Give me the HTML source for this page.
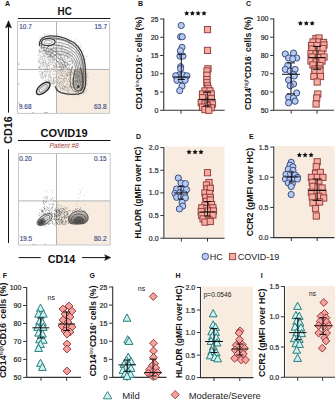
<!DOCTYPE html>
<html><head><meta charset="utf-8"><style>
html,body{margin:0;padding:0;background:#fff;width:336px;height:400px;overflow:hidden}
svg{display:block}
text{font-family:"Liberation Sans", sans-serif}
</style></head><body>
<svg width="336" height="400" viewBox="0 0 336 400">
<text x="5" y="6" font-size="7" font-weight="bold" text-anchor="start" fill="#111" >A</text>
<text x="138.1" y="6" font-size="7" font-weight="bold" text-anchor="start" fill="#111" >B</text>
<text x="245.9" y="6.1" font-size="7" font-weight="bold" text-anchor="start" fill="#111" >C</text>
<text x="135.9" y="138.6" font-size="7" font-weight="bold" text-anchor="start" fill="#111" >D</text>
<text x="249" y="138.7" font-size="7" font-weight="bold" text-anchor="start" fill="#111" >E</text>
<text x="2.7" y="277.6" font-size="7" font-weight="bold" text-anchor="start" fill="#111" >F</text>
<text x="89.6" y="277.7" font-size="7" font-weight="bold" text-anchor="start" fill="#111" >G</text>
<text x="175.6" y="277.6" font-size="7" font-weight="bold" text-anchor="start" fill="#111" >H</text>
<text x="260.8" y="277.6" font-size="7" font-weight="bold" text-anchor="start" fill="#111" >I</text>
<rect x="56.5" y="69.5" width="53.099999999999994" height="43.900000000000006" fill="#f7ecdf"/>
<rect x="56.5" y="200.9" width="53.7" height="44.099999999999994" fill="#f7ecdf"/>
<path d="M56.5,21.5 V113.4 M17.5,69.5 H109.6" stroke="#aaaaaa" stroke-width="0.9"/>
<path d="M56.5,153.5 V245 M18.5,200.9 H110.2" stroke="#aaaaaa" stroke-width="0.9"/>
<path d="M40.4,40.7 L42,37 L50,36.3 L60,37.1 L69,40.7 L76,47 L80.5,55 L83,65.7 L84.5,76.4 L84.5,85.4 L81.5,91.5 L74.3,93 L65,92.5 L59,90.5 L55,88 L52,84.5 L47,82 L42,80.5 L39,72 L38,62 L38.5,52 L39,45 Z" fill="#efece9" opacity="0.35"/>
<g fill="#4a4a4a" opacity="0.75"><circle cx="53.06" cy="44.85" r="0.33"/><circle cx="62.92" cy="57.03" r="0.33"/><circle cx="40.70" cy="65.07" r="0.33"/><circle cx="39.74" cy="60.89" r="0.33"/><circle cx="41.25" cy="41.44" r="0.33"/><circle cx="57.74" cy="83.18" r="0.33"/><circle cx="43.76" cy="48.96" r="0.33"/><circle cx="67.18" cy="90.04" r="0.33"/><circle cx="64.84" cy="58.79" r="0.33"/><circle cx="77.92" cy="52.72" r="0.33"/><circle cx="44.71" cy="42.98" r="0.33"/><circle cx="52.34" cy="82.57" r="0.33"/><circle cx="46.40" cy="69.28" r="0.33"/><circle cx="67.71" cy="57.41" r="0.33"/><circle cx="63.47" cy="39.86" r="0.33"/><circle cx="40.77" cy="47.98" r="0.33"/><circle cx="69.64" cy="60.54" r="0.33"/><circle cx="52.61" cy="69.50" r="0.33"/><circle cx="59.07" cy="53.30" r="0.33"/><circle cx="74.94" cy="75.93" r="0.33"/><circle cx="49.35" cy="68.87" r="0.33"/><circle cx="62.42" cy="85.92" r="0.33"/><circle cx="71.92" cy="52.63" r="0.33"/><circle cx="57.44" cy="79.23" r="0.33"/><circle cx="45.07" cy="64.02" r="0.33"/><circle cx="39.82" cy="74.19" r="0.33"/><circle cx="73.55" cy="68.79" r="0.33"/><circle cx="78.71" cy="54.09" r="0.33"/><circle cx="70.33" cy="70.00" r="0.33"/><circle cx="64.97" cy="62.17" r="0.33"/><circle cx="77.06" cy="89.86" r="0.33"/><circle cx="60.05" cy="73.96" r="0.33"/><circle cx="40.82" cy="76.07" r="0.33"/><circle cx="68.09" cy="92.61" r="0.33"/><circle cx="76.22" cy="52.44" r="0.33"/><circle cx="55.94" cy="74.21" r="0.33"/><circle cx="39.05" cy="62.48" r="0.33"/><circle cx="45.81" cy="42.94" r="0.33"/><circle cx="44.01" cy="50.34" r="0.33"/><circle cx="56.18" cy="85.71" r="0.33"/><circle cx="41.75" cy="61.77" r="0.33"/><circle cx="63.55" cy="86.39" r="0.33"/><circle cx="76.10" cy="85.29" r="0.33"/><circle cx="50.95" cy="59.85" r="0.33"/><circle cx="54.68" cy="86.43" r="0.33"/><circle cx="46.19" cy="49.45" r="0.33"/><circle cx="48.85" cy="63.80" r="0.33"/><circle cx="65.39" cy="51.20" r="0.33"/><circle cx="38.19" cy="60.05" r="0.33"/><circle cx="55.17" cy="68.41" r="0.33"/><circle cx="82.32" cy="75.45" r="0.33"/><circle cx="61.97" cy="71.32" r="0.33"/><circle cx="79.83" cy="80.52" r="0.33"/><circle cx="78.66" cy="81.54" r="0.33"/><circle cx="56.25" cy="58.92" r="0.33"/><circle cx="42.81" cy="72.26" r="0.33"/><circle cx="40.89" cy="40.12" r="0.33"/><circle cx="47.71" cy="45.50" r="0.33"/><circle cx="53.81" cy="39.28" r="0.33"/><circle cx="42.72" cy="56.92" r="0.33"/><circle cx="66.55" cy="44.72" r="0.33"/><circle cx="49.73" cy="56.00" r="0.33"/><circle cx="54.93" cy="43.27" r="0.33"/><circle cx="59.67" cy="63.73" r="0.33"/><circle cx="41.99" cy="42.09" r="0.33"/><circle cx="53.93" cy="51.31" r="0.33"/><circle cx="62.56" cy="44.61" r="0.33"/><circle cx="78.14" cy="75.77" r="0.33"/><circle cx="50.14" cy="57.09" r="0.33"/><circle cx="45.77" cy="80.07" r="0.33"/><circle cx="62.77" cy="80.47" r="0.33"/><circle cx="53.33" cy="48.95" r="0.33"/><circle cx="75.74" cy="92.15" r="0.33"/><circle cx="77.65" cy="82.00" r="0.33"/><circle cx="76.05" cy="78.25" r="0.33"/><circle cx="48.54" cy="65.65" r="0.33"/><circle cx="54.53" cy="37.94" r="0.33"/><circle cx="39.30" cy="52.14" r="0.33"/><circle cx="50.05" cy="75.57" r="0.33"/><circle cx="48.25" cy="49.16" r="0.33"/><circle cx="47.15" cy="47.89" r="0.33"/><circle cx="67.02" cy="87.35" r="0.33"/><circle cx="77.08" cy="63.49" r="0.33"/><circle cx="68.36" cy="81.64" r="0.33"/><circle cx="41.94" cy="73.76" r="0.33"/><circle cx="80.30" cy="80.66" r="0.33"/><circle cx="72.88" cy="63.40" r="0.33"/><circle cx="46.30" cy="81.04" r="0.33"/><circle cx="53.46" cy="81.71" r="0.33"/><circle cx="71.70" cy="45.94" r="0.33"/><circle cx="43.91" cy="44.87" r="0.33"/><circle cx="80.08" cy="82.03" r="0.33"/><circle cx="83.58" cy="73.57" r="0.33"/><circle cx="54.29" cy="67.41" r="0.33"/><circle cx="44.09" cy="37.11" r="0.33"/><circle cx="83.15" cy="73.14" r="0.33"/><circle cx="62.49" cy="89.24" r="0.33"/><circle cx="58.17" cy="85.73" r="0.33"/><circle cx="76.42" cy="48.27" r="0.33"/><circle cx="49.71" cy="52.91" r="0.33"/><circle cx="49.19" cy="69.55" r="0.33"/><circle cx="50.06" cy="60.06" r="0.33"/><circle cx="54.45" cy="62.28" r="0.33"/><circle cx="65.13" cy="87.57" r="0.33"/><circle cx="57.56" cy="88.33" r="0.33"/><circle cx="61.33" cy="66.45" r="0.33"/><circle cx="58.47" cy="46.68" r="0.33"/><circle cx="46.01" cy="63.15" r="0.33"/><circle cx="71.72" cy="67.85" r="0.33"/><circle cx="53.16" cy="65.69" r="0.33"/><circle cx="63.83" cy="80.77" r="0.33"/><circle cx="42.93" cy="68.07" r="0.33"/><circle cx="49.55" cy="52.00" r="0.33"/><circle cx="73.91" cy="65.09" r="0.33"/><circle cx="64.12" cy="79.39" r="0.33"/><circle cx="80.43" cy="61.43" r="0.33"/><circle cx="66.48" cy="64.96" r="0.33"/><circle cx="61.82" cy="75.58" r="0.33"/><circle cx="59.03" cy="66.54" r="0.33"/><circle cx="60.23" cy="89.68" r="0.33"/><circle cx="70.51" cy="86.00" r="0.33"/><circle cx="64.02" cy="89.78" r="0.33"/><circle cx="43.66" cy="61.37" r="0.33"/><circle cx="41.37" cy="49.94" r="0.33"/><circle cx="41.40" cy="74.26" r="0.33"/><circle cx="74.45" cy="87.16" r="0.33"/><circle cx="45.18" cy="76.90" r="0.33"/><circle cx="68.70" cy="44.41" r="0.33"/><circle cx="79.05" cy="91.16" r="0.33"/><circle cx="56.52" cy="63.93" r="0.33"/><circle cx="84.03" cy="83.50" r="0.33"/><circle cx="45.51" cy="60.77" r="0.33"/><circle cx="61.98" cy="55.53" r="0.33"/><circle cx="47.10" cy="54.36" r="0.33"/><circle cx="63.76" cy="61.27" r="0.33"/><circle cx="38.84" cy="55.10" r="0.33"/><circle cx="67.01" cy="65.35" r="0.33"/><circle cx="74.66" cy="91.40" r="0.33"/><circle cx="42.87" cy="51.36" r="0.33"/><circle cx="50.58" cy="43.65" r="0.33"/><circle cx="57.63" cy="87.98" r="0.33"/><circle cx="76.08" cy="50.96" r="0.33"/><circle cx="64.53" cy="76.01" r="0.33"/><circle cx="42.16" cy="39.56" r="0.33"/><circle cx="70.00" cy="60.42" r="0.33"/><circle cx="67.50" cy="81.75" r="0.33"/><circle cx="59.10" cy="55.53" r="0.33"/><circle cx="63.72" cy="88.84" r="0.33"/><circle cx="50.46" cy="43.63" r="0.33"/><circle cx="62.50" cy="49.82" r="0.33"/><circle cx="43.09" cy="45.45" r="0.33"/><circle cx="40.34" cy="47.74" r="0.33"/><circle cx="52.51" cy="53.59" r="0.33"/><circle cx="73.32" cy="52.74" r="0.33"/><circle cx="61.25" cy="46.39" r="0.33"/><circle cx="54.14" cy="37.33" r="0.33"/><circle cx="49.65" cy="37.17" r="0.33"/><circle cx="72.09" cy="67.54" r="0.33"/><circle cx="46.81" cy="63.22" r="0.33"/><circle cx="76.08" cy="60.80" r="0.33"/><circle cx="61.02" cy="83.62" r="0.33"/><circle cx="56.28" cy="65.03" r="0.33"/><circle cx="69.98" cy="92.00" r="0.33"/><circle cx="53.94" cy="83.49" r="0.33"/><circle cx="70.86" cy="72.36" r="0.33"/><circle cx="56.82" cy="56.01" r="0.33"/><circle cx="40.53" cy="43.66" r="0.33"/><circle cx="41.29" cy="78.31" r="0.33"/><circle cx="49.89" cy="45.56" r="0.33"/><circle cx="78.48" cy="74.32" r="0.33"/><circle cx="51.11" cy="50.03" r="0.33"/><circle cx="51.63" cy="62.35" r="0.33"/><circle cx="45.33" cy="61.58" r="0.33"/><circle cx="83.23" cy="67.32" r="0.33"/><circle cx="52.39" cy="56.52" r="0.33"/><circle cx="60.07" cy="64.81" r="0.33"/><circle cx="47.35" cy="64.92" r="0.33"/><circle cx="42.17" cy="58.95" r="0.33"/><circle cx="52.15" cy="49.50" r="0.33"/><circle cx="65.23" cy="66.31" r="0.33"/><circle cx="72.90" cy="73.58" r="0.33"/><circle cx="71.29" cy="86.14" r="0.33"/><circle cx="56.11" cy="54.79" r="0.33"/><circle cx="71.67" cy="72.77" r="0.33"/><circle cx="79.48" cy="71.87" r="0.33"/><circle cx="72.12" cy="82.35" r="0.33"/><circle cx="44.48" cy="66.00" r="0.33"/><circle cx="61.45" cy="83.64" r="0.33"/><circle cx="75.42" cy="83.16" r="0.33"/><circle cx="65.16" cy="86.92" r="0.33"/><circle cx="69.75" cy="75.61" r="0.33"/><circle cx="48.69" cy="38.07" r="0.33"/><circle cx="44.19" cy="56.75" r="0.33"/><circle cx="63.97" cy="71.89" r="0.33"/><circle cx="67.12" cy="74.89" r="0.33"/><circle cx="75.09" cy="78.73" r="0.33"/><circle cx="61.39" cy="66.65" r="0.33"/><circle cx="72.26" cy="50.60" r="0.33"/><circle cx="41.46" cy="51.36" r="0.33"/><circle cx="71.91" cy="47.94" r="0.33"/><circle cx="72.40" cy="91.62" r="0.33"/><circle cx="60.97" cy="57.99" r="0.33"/><circle cx="60.27" cy="75.07" r="0.33"/><circle cx="73.66" cy="71.28" r="0.33"/><circle cx="67.89" cy="40.69" r="0.33"/><circle cx="44.86" cy="50.70" r="0.33"/><circle cx="72.56" cy="53.56" r="0.33"/><circle cx="40.82" cy="51.54" r="0.33"/><circle cx="69.25" cy="75.55" r="0.33"/><circle cx="69.42" cy="52.79" r="0.33"/><circle cx="62.02" cy="62.65" r="0.33"/><circle cx="59.68" cy="43.02" r="0.33"/><circle cx="38.81" cy="62.32" r="0.33"/><circle cx="76.13" cy="91.19" r="0.33"/><circle cx="58.90" cy="51.53" r="0.33"/><circle cx="47.80" cy="69.27" r="0.33"/><circle cx="44.59" cy="66.01" r="0.33"/><circle cx="76.14" cy="65.15" r="0.33"/><circle cx="79.24" cy="76.18" r="0.33"/><circle cx="60.61" cy="37.71" r="0.33"/><circle cx="58.96" cy="53.42" r="0.33"/><circle cx="44.54" cy="55.80" r="0.33"/><circle cx="52.70" cy="83.94" r="0.33"/><circle cx="81.08" cy="76.73" r="0.33"/><circle cx="55.31" cy="58.58" r="0.33"/><circle cx="54.77" cy="60.57" r="0.33"/><circle cx="50.79" cy="39.04" r="0.33"/><circle cx="49.59" cy="51.37" r="0.33"/><circle cx="61.76" cy="47.06" r="0.33"/><circle cx="79.12" cy="82.34" r="0.33"/><circle cx="67.34" cy="88.09" r="0.33"/><circle cx="81.74" cy="67.44" r="0.33"/><circle cx="72.05" cy="61.86" r="0.33"/><circle cx="73.00" cy="72.84" r="0.33"/><circle cx="51.31" cy="39.08" r="0.33"/><circle cx="59.96" cy="55.79" r="0.33"/><circle cx="51.85" cy="78.20" r="0.33"/><circle cx="68.50" cy="53.36" r="0.33"/><circle cx="63.92" cy="58.66" r="0.33"/><circle cx="45.78" cy="45.47" r="0.33"/><circle cx="61.11" cy="48.78" r="0.33"/><circle cx="58.92" cy="44.22" r="0.33"/><circle cx="46.95" cy="41.44" r="0.33"/><circle cx="53.90" cy="41.47" r="0.33"/><circle cx="49.12" cy="50.95" r="0.33"/><circle cx="64.49" cy="86.61" r="0.33"/><circle cx="72.86" cy="59.70" r="0.33"/><circle cx="57.25" cy="66.02" r="0.33"/><circle cx="55.52" cy="55.48" r="0.33"/><circle cx="40.89" cy="52.04" r="0.33"/><circle cx="61.41" cy="72.00" r="0.33"/><circle cx="50.60" cy="50.39" r="0.33"/><circle cx="56.59" cy="61.58" r="0.33"/><circle cx="82.36" cy="84.42" r="0.33"/><circle cx="79.65" cy="63.13" r="0.33"/><circle cx="76.39" cy="84.80" r="0.33"/><circle cx="43.07" cy="45.05" r="0.33"/><circle cx="62.29" cy="74.97" r="0.33"/><circle cx="81.78" cy="77.22" r="0.33"/><circle cx="68.10" cy="79.66" r="0.33"/><circle cx="59.27" cy="67.57" r="0.33"/><circle cx="68.02" cy="53.52" r="0.33"/><circle cx="43.95" cy="50.58" r="0.33"/><circle cx="67.59" cy="75.91" r="0.33"/><circle cx="43.21" cy="40.29" r="0.33"/><circle cx="62.39" cy="69.35" r="0.33"/><circle cx="56.05" cy="48.98" r="0.33"/><circle cx="52.02" cy="62.42" r="0.33"/><circle cx="82.59" cy="72.85" r="0.33"/><circle cx="79.10" cy="63.25" r="0.33"/><circle cx="48.92" cy="50.31" r="0.33"/><circle cx="82.67" cy="76.25" r="0.33"/><circle cx="52.29" cy="37.54" r="0.33"/><circle cx="61.17" cy="74.54" r="0.33"/><circle cx="57.53" cy="50.89" r="0.33"/><circle cx="69.03" cy="88.76" r="0.33"/><circle cx="48.55" cy="38.23" r="0.33"/><circle cx="53.72" cy="60.15" r="0.33"/><circle cx="69.74" cy="47.53" r="0.33"/><circle cx="75.06" cy="78.21" r="0.33"/><circle cx="61.48" cy="47.94" r="0.33"/><circle cx="76.13" cy="49.39" r="0.33"/><circle cx="48.30" cy="79.42" r="0.33"/><circle cx="61.05" cy="46.92" r="0.33"/><circle cx="48.38" cy="59.95" r="0.33"/><circle cx="68.94" cy="90.09" r="0.33"/><circle cx="44.81" cy="58.61" r="0.33"/><circle cx="44.60" cy="39.24" r="0.33"/><circle cx="40.80" cy="58.60" r="0.33"/><circle cx="79.76" cy="86.40" r="0.33"/><circle cx="72.07" cy="92.86" r="0.33"/><circle cx="68.90" cy="57.77" r="0.33"/><circle cx="55.39" cy="55.11" r="0.33"/><circle cx="51.01" cy="56.23" r="0.33"/><circle cx="54.58" cy="82.88" r="0.33"/><circle cx="76.22" cy="60.82" r="0.33"/><circle cx="40.29" cy="63.15" r="0.33"/><circle cx="46.98" cy="56.95" r="0.33"/><circle cx="57.10" cy="82.33" r="0.33"/><circle cx="72.75" cy="87.25" r="0.33"/><circle cx="53.77" cy="51.74" r="0.33"/><circle cx="82.53" cy="71.28" r="0.33"/><circle cx="50.19" cy="76.93" r="0.33"/><circle cx="52.72" cy="51.93" r="0.33"/><circle cx="80.62" cy="72.25" r="0.33"/><circle cx="48.87" cy="63.24" r="0.33"/><circle cx="55.97" cy="50.53" r="0.33"/><circle cx="57.99" cy="64.28" r="0.33"/><circle cx="75.32" cy="78.17" r="0.33"/><circle cx="76.26" cy="80.12" r="0.33"/><circle cx="66.24" cy="54.89" r="0.33"/><circle cx="52.86" cy="56.82" r="0.33"/><circle cx="47.17" cy="78.99" r="0.33"/><circle cx="49.50" cy="39.97" r="0.33"/><circle cx="39.57" cy="67.63" r="0.33"/><circle cx="50.32" cy="41.07" r="0.33"/><circle cx="42.48" cy="64.56" r="0.33"/><circle cx="71.00" cy="61.64" r="0.33"/><circle cx="48.89" cy="59.93" r="0.33"/><circle cx="66.84" cy="74.52" r="0.33"/><circle cx="72.78" cy="84.32" r="0.33"/><circle cx="68.90" cy="43.17" r="0.33"/><circle cx="77.10" cy="52.96" r="0.33"/><circle cx="64.36" cy="57.45" r="0.33"/><circle cx="72.32" cy="47.59" r="0.33"/><circle cx="49.51" cy="50.21" r="0.33"/><circle cx="64.89" cy="54.80" r="0.33"/><circle cx="61.59" cy="49.42" r="0.33"/><circle cx="75.59" cy="73.34" r="0.33"/><circle cx="60.08" cy="82.74" r="0.33"/><circle cx="77.09" cy="88.15" r="0.33"/><circle cx="39.88" cy="52.95" r="0.33"/><circle cx="43.54" cy="47.05" r="0.33"/><circle cx="83.24" cy="69.37" r="0.33"/><circle cx="78.27" cy="61.76" r="0.33"/><circle cx="50.09" cy="80.40" r="0.33"/><circle cx="65.72" cy="71.45" r="0.33"/><circle cx="48.12" cy="57.21" r="0.33"/><circle cx="44.57" cy="47.87" r="0.33"/><circle cx="49.85" cy="70.29" r="0.33"/><circle cx="68.30" cy="47.84" r="0.33"/><circle cx="38.53" cy="54.86" r="0.33"/><circle cx="69.54" cy="46.80" r="0.33"/><circle cx="52.52" cy="47.83" r="0.33"/><circle cx="74.98" cy="67.37" r="0.33"/><circle cx="40.94" cy="42.05" r="0.33"/><circle cx="56.38" cy="67.49" r="0.33"/><circle cx="67.72" cy="41.47" r="0.33"/><circle cx="45.61" cy="75.73" r="0.33"/><circle cx="57.06" cy="52.36" r="0.33"/><circle cx="52.52" cy="68.42" r="0.33"/><circle cx="54.61" cy="59.91" r="0.33"/><circle cx="54.92" cy="47.48" r="0.33"/><circle cx="71.85" cy="47.85" r="0.33"/><circle cx="57.70" cy="82.81" r="0.33"/><circle cx="56.89" cy="86.36" r="0.33"/><circle cx="59.43" cy="45.52" r="0.33"/><circle cx="38.69" cy="67.57" r="0.33"/><circle cx="67.79" cy="87.89" r="0.33"/><circle cx="42.14" cy="71.58" r="0.33"/><circle cx="55.24" cy="64.90" r="0.33"/><circle cx="44.78" cy="52.36" r="0.33"/><circle cx="62.23" cy="88.78" r="0.33"/><circle cx="43.06" cy="64.11" r="0.33"/><circle cx="75.42" cy="91.12" r="0.33"/><circle cx="47.18" cy="43.48" r="0.33"/><circle cx="60.45" cy="39.33" r="0.33"/><circle cx="81.07" cy="58.29" r="0.33"/><circle cx="80.05" cy="71.47" r="0.33"/><circle cx="74.54" cy="48.89" r="0.33"/><circle cx="56.81" cy="84.29" r="0.33"/><circle cx="48.14" cy="58.97" r="0.33"/><circle cx="62.08" cy="58.05" r="0.33"/><circle cx="43.72" cy="50.31" r="0.33"/><circle cx="71.71" cy="87.18" r="0.33"/><circle cx="39.91" cy="68.18" r="0.33"/><circle cx="65.88" cy="67.49" r="0.33"/><circle cx="67.16" cy="53.66" r="0.33"/><circle cx="57.53" cy="69.33" r="0.33"/><circle cx="57.80" cy="73.66" r="0.33"/><circle cx="58.78" cy="61.15" r="0.33"/><circle cx="39.09" cy="71.39" r="0.33"/><circle cx="60.76" cy="49.64" r="0.33"/><circle cx="73.51" cy="80.52" r="0.33"/><circle cx="59.31" cy="46.48" r="0.33"/><circle cx="60.00" cy="42.37" r="0.33"/><circle cx="43.97" cy="60.71" r="0.33"/><circle cx="42.26" cy="61.36" r="0.33"/><circle cx="61.72" cy="38.61" r="0.33"/><circle cx="67.59" cy="40.96" r="0.33"/><circle cx="72.11" cy="80.39" r="0.33"/><circle cx="61.78" cy="39.38" r="0.33"/><circle cx="61.43" cy="57.72" r="0.33"/><circle cx="72.04" cy="82.51" r="0.33"/><circle cx="60.87" cy="90.54" r="0.33"/><circle cx="74.66" cy="89.06" r="0.33"/><circle cx="41.05" cy="56.20" r="0.33"/><circle cx="73.16" cy="45.30" r="0.33"/><circle cx="61.35" cy="88.46" r="0.33"/><circle cx="47.69" cy="51.20" r="0.33"/><circle cx="61.53" cy="54.39" r="0.33"/><circle cx="39.71" cy="46.62" r="0.33"/><circle cx="69.61" cy="87.07" r="0.33"/><circle cx="45.85" cy="80.80" r="0.33"/><circle cx="43.35" cy="66.39" r="0.33"/><circle cx="67.59" cy="56.70" r="0.33"/><circle cx="78.59" cy="67.78" r="0.33"/><circle cx="64.97" cy="86.34" r="0.33"/><circle cx="67.28" cy="58.65" r="0.33"/><circle cx="75.09" cy="51.31" r="0.33"/><circle cx="54.75" cy="79.66" r="0.33"/><circle cx="58.57" cy="46.32" r="0.33"/><circle cx="76.12" cy="50.68" r="0.33"/><circle cx="67.72" cy="92.10" r="0.33"/><circle cx="65.24" cy="73.93" r="0.33"/><circle cx="39.57" cy="44.77" r="0.33"/><circle cx="66.65" cy="60.81" r="0.33"/><circle cx="61.84" cy="87.08" r="0.33"/><circle cx="44.14" cy="49.19" r="0.33"/><circle cx="42.95" cy="56.55" r="0.33"/><circle cx="48.43" cy="69.39" r="0.33"/><circle cx="65.39" cy="47.88" r="0.33"/><circle cx="67.01" cy="63.23" r="0.33"/><circle cx="49.33" cy="44.77" r="0.33"/><circle cx="42.45" cy="72.49" r="0.33"/><circle cx="78.51" cy="80.65" r="0.33"/><circle cx="56.69" cy="51.28" r="0.33"/><circle cx="64.15" cy="56.16" r="0.33"/><circle cx="68.02" cy="61.46" r="0.33"/><circle cx="81.58" cy="77.89" r="0.33"/><circle cx="40.05" cy="66.44" r="0.33"/><circle cx="56.88" cy="49.78" r="0.33"/><circle cx="38.57" cy="67.54" r="0.33"/><circle cx="47.28" cy="70.78" r="0.33"/><circle cx="61.57" cy="72.68" r="0.33"/><circle cx="52.39" cy="53.33" r="0.33"/><circle cx="74.41" cy="76.86" r="0.33"/><circle cx="72.65" cy="62.68" r="0.33"/><circle cx="72.49" cy="61.96" r="0.33"/><circle cx="48.51" cy="42.27" r="0.33"/><circle cx="48.80" cy="38.50" r="0.33"/><circle cx="53.60" cy="78.81" r="0.33"/><circle cx="70.32" cy="84.23" r="0.33"/><circle cx="71.09" cy="51.38" r="0.33"/><circle cx="63.75" cy="61.02" r="0.33"/><circle cx="74.66" cy="65.97" r="0.33"/><circle cx="50.34" cy="72.70" r="0.33"/><circle cx="50.11" cy="49.69" r="0.33"/><circle cx="72.59" cy="89.86" r="0.33"/><circle cx="72.70" cy="54.83" r="0.33"/><circle cx="78.93" cy="54.93" r="0.33"/><circle cx="67.33" cy="75.58" r="0.33"/><circle cx="68.93" cy="91.81" r="0.33"/><circle cx="59.83" cy="83.91" r="0.33"/><circle cx="70.44" cy="84.92" r="0.33"/><circle cx="58.33" cy="77.39" r="0.33"/><circle cx="64.52" cy="53.75" r="0.33"/><circle cx="47.86" cy="71.60" r="0.33"/><circle cx="44.72" cy="37.83" r="0.33"/><circle cx="54.04" cy="44.34" r="0.33"/><circle cx="70.21" cy="72.24" r="0.33"/><circle cx="70.41" cy="78.08" r="0.33"/><circle cx="41.06" cy="69.78" r="0.33"/><circle cx="54.90" cy="82.66" r="0.33"/><circle cx="76.11" cy="86.84" r="0.33"/><circle cx="80.52" cy="89.84" r="0.33"/><circle cx="42.98" cy="47.96" r="0.33"/><circle cx="43.21" cy="38.25" r="0.33"/><circle cx="77.42" cy="82.34" r="0.33"/><circle cx="67.49" cy="83.08" r="0.33"/><circle cx="67.37" cy="52.59" r="0.33"/><circle cx="42.64" cy="41.85" r="0.33"/><circle cx="73.22" cy="47.92" r="0.33"/><circle cx="52.84" cy="60.33" r="0.33"/><circle cx="38.97" cy="50.86" r="0.33"/><circle cx="51.14" cy="76.88" r="0.33"/><circle cx="55.11" cy="54.49" r="0.33"/><circle cx="77.59" cy="71.36" r="0.33"/><circle cx="39.44" cy="59.71" r="0.33"/><circle cx="58.29" cy="80.13" r="0.33"/><circle cx="54.13" cy="76.25" r="0.33"/><circle cx="63.01" cy="48.58" r="0.33"/><circle cx="73.44" cy="91.74" r="0.33"/><circle cx="60.85" cy="81.48" r="0.33"/><circle cx="46.58" cy="64.34" r="0.33"/><circle cx="54.14" cy="83.47" r="0.33"/><circle cx="51.19" cy="48.47" r="0.33"/><circle cx="70.53" cy="64.55" r="0.33"/><circle cx="43.11" cy="72.39" r="0.33"/><circle cx="70.42" cy="80.92" r="0.33"/><circle cx="67.20" cy="56.46" r="0.33"/><circle cx="56.66" cy="58.67" r="0.33"/><circle cx="47.58" cy="51.22" r="0.33"/><circle cx="79.91" cy="64.72" r="0.33"/><circle cx="55.64" cy="86.42" r="0.33"/><circle cx="48.86" cy="62.43" r="0.33"/><circle cx="62.72" cy="79.08" r="0.33"/><circle cx="73.01" cy="72.95" r="0.33"/><circle cx="54.20" cy="54.82" r="0.33"/><circle cx="68.79" cy="78.37" r="0.33"/><circle cx="45.88" cy="61.18" r="0.33"/><circle cx="73.96" cy="69.14" r="0.33"/><circle cx="43.86" cy="62.50" r="0.33"/><circle cx="46.91" cy="53.40" r="0.33"/><circle cx="70.70" cy="84.14" r="0.33"/><circle cx="45.19" cy="45.14" r="0.33"/><circle cx="49.51" cy="54.82" r="0.33"/><circle cx="62.28" cy="45.42" r="0.33"/><circle cx="53.26" cy="47.03" r="0.33"/><circle cx="83.34" cy="77.62" r="0.33"/><circle cx="42.73" cy="58.09" r="0.33"/><circle cx="83.75" cy="81.37" r="0.33"/><circle cx="72.10" cy="60.96" r="0.33"/><circle cx="47.12" cy="72.47" r="0.33"/><circle cx="42.97" cy="48.01" r="0.33"/><circle cx="56.06" cy="38.22" r="0.33"/><circle cx="56.55" cy="81.15" r="0.33"/><circle cx="70.24" cy="64.68" r="0.33"/><circle cx="67.41" cy="62.57" r="0.33"/><circle cx="44.59" cy="70.53" r="0.33"/></g>
<g fill="#555" opacity="0.7"><circle cx="45.99" cy="75.64" r="0.34"/><circle cx="55.30" cy="63.20" r="0.34"/><circle cx="49.12" cy="75.96" r="0.34"/><circle cx="46.29" cy="55.14" r="0.34"/><circle cx="51.86" cy="81.20" r="0.34"/><circle cx="52.82" cy="74.00" r="0.34"/><circle cx="54.27" cy="73.18" r="0.34"/><circle cx="50.37" cy="64.16" r="0.34"/><circle cx="44.29" cy="71.13" r="0.34"/><circle cx="40.31" cy="62.78" r="0.34"/><circle cx="52.97" cy="74.53" r="0.34"/><circle cx="50.15" cy="56.00" r="0.34"/><circle cx="46.34" cy="64.21" r="0.34"/><circle cx="50.00" cy="62.37" r="0.34"/><circle cx="50.99" cy="83.21" r="0.34"/><circle cx="41.89" cy="72.18" r="0.34"/><circle cx="52.90" cy="61.55" r="0.34"/><circle cx="39.21" cy="67.73" r="0.34"/><circle cx="41.48" cy="77.27" r="0.34"/><circle cx="55.90" cy="66.77" r="0.34"/><circle cx="40.37" cy="68.98" r="0.34"/><circle cx="48.51" cy="74.69" r="0.34"/><circle cx="47.98" cy="71.57" r="0.34"/><circle cx="53.84" cy="66.87" r="0.34"/><circle cx="42.39" cy="73.37" r="0.34"/><circle cx="45.76" cy="76.51" r="0.34"/><circle cx="45.08" cy="48.26" r="0.34"/><circle cx="43.58" cy="61.99" r="0.34"/><circle cx="38.75" cy="62.74" r="0.34"/><circle cx="46.28" cy="73.93" r="0.34"/><circle cx="45.01" cy="56.61" r="0.34"/><circle cx="42.65" cy="75.66" r="0.34"/><circle cx="55.89" cy="67.08" r="0.34"/><circle cx="42.55" cy="78.06" r="0.34"/><circle cx="45.75" cy="54.48" r="0.34"/><circle cx="40.89" cy="77.06" r="0.34"/><circle cx="53.48" cy="71.37" r="0.34"/><circle cx="47.18" cy="68.48" r="0.34"/><circle cx="45.03" cy="71.55" r="0.34"/><circle cx="53.65" cy="78.65" r="0.34"/><circle cx="47.16" cy="57.77" r="0.34"/><circle cx="48.64" cy="51.01" r="0.34"/><circle cx="53.92" cy="60.19" r="0.34"/><circle cx="54.24" cy="56.70" r="0.34"/><circle cx="45.46" cy="56.14" r="0.34"/><circle cx="46.38" cy="53.44" r="0.34"/><circle cx="43.70" cy="55.80" r="0.34"/><circle cx="44.08" cy="65.18" r="0.34"/><circle cx="46.43" cy="71.49" r="0.34"/><circle cx="50.70" cy="60.50" r="0.34"/><circle cx="55.68" cy="80.18" r="0.34"/><circle cx="55.26" cy="77.36" r="0.34"/><circle cx="50.64" cy="56.00" r="0.34"/><circle cx="40.38" cy="51.71" r="0.34"/><circle cx="42.82" cy="77.05" r="0.34"/><circle cx="44.91" cy="52.11" r="0.34"/><circle cx="55.23" cy="77.67" r="0.34"/><circle cx="49.75" cy="77.25" r="0.34"/><circle cx="50.87" cy="81.76" r="0.34"/><circle cx="53.08" cy="79.55" r="0.34"/><circle cx="42.15" cy="73.71" r="0.34"/><circle cx="48.32" cy="75.68" r="0.34"/><circle cx="46.61" cy="81.31" r="0.34"/><circle cx="48.77" cy="56.58" r="0.34"/><circle cx="42.83" cy="51.57" r="0.34"/><circle cx="47.62" cy="48.34" r="0.34"/><circle cx="47.14" cy="51.78" r="0.34"/><circle cx="47.59" cy="65.93" r="0.34"/><circle cx="48.48" cy="80.52" r="0.34"/><circle cx="47.16" cy="68.50" r="0.34"/><circle cx="50.81" cy="79.62" r="0.34"/><circle cx="45.44" cy="62.75" r="0.34"/><circle cx="50.29" cy="71.45" r="0.34"/><circle cx="51.13" cy="83.26" r="0.34"/><circle cx="47.95" cy="65.39" r="0.34"/><circle cx="51.79" cy="71.01" r="0.34"/><circle cx="44.76" cy="80.47" r="0.34"/><circle cx="45.27" cy="64.98" r="0.34"/><circle cx="48.22" cy="76.82" r="0.34"/><circle cx="42.40" cy="63.41" r="0.34"/><circle cx="46.31" cy="68.16" r="0.34"/><circle cx="53.79" cy="57.72" r="0.34"/><circle cx="53.81" cy="62.15" r="0.34"/><circle cx="47.82" cy="56.87" r="0.34"/><circle cx="50.61" cy="77.68" r="0.34"/><circle cx="44.62" cy="58.68" r="0.34"/><circle cx="44.04" cy="69.46" r="0.34"/><circle cx="50.24" cy="77.37" r="0.34"/><circle cx="54.88" cy="67.82" r="0.34"/><circle cx="39.42" cy="58.02" r="0.34"/><circle cx="55.55" cy="70.35" r="0.34"/><circle cx="50.67" cy="77.56" r="0.34"/><circle cx="55.33" cy="70.47" r="0.34"/><circle cx="49.91" cy="71.07" r="0.34"/><circle cx="51.38" cy="69.85" r="0.34"/><circle cx="51.10" cy="54.50" r="0.34"/><circle cx="50.84" cy="64.32" r="0.34"/><circle cx="52.61" cy="50.05" r="0.34"/><circle cx="41.85" cy="47.48" r="0.34"/><circle cx="52.83" cy="82.56" r="0.34"/><circle cx="50.63" cy="60.75" r="0.34"/><circle cx="53.72" cy="77.46" r="0.34"/><circle cx="48.90" cy="56.32" r="0.34"/><circle cx="44.09" cy="62.87" r="0.34"/><circle cx="44.39" cy="63.23" r="0.34"/><circle cx="50.37" cy="83.35" r="0.34"/><circle cx="39.51" cy="68.70" r="0.34"/><circle cx="39.23" cy="50.75" r="0.34"/><circle cx="53.49" cy="69.01" r="0.34"/><circle cx="55.49" cy="63.86" r="0.34"/><circle cx="38.76" cy="61.49" r="0.34"/><circle cx="56.64" cy="65.02" r="0.34"/><circle cx="46.13" cy="50.08" r="0.34"/><circle cx="50.42" cy="54.49" r="0.34"/><circle cx="51.81" cy="55.69" r="0.34"/><circle cx="52.07" cy="53.50" r="0.34"/><circle cx="51.70" cy="80.22" r="0.34"/><circle cx="52.00" cy="49.37" r="0.34"/><circle cx="50.13" cy="74.37" r="0.34"/><circle cx="44.25" cy="75.18" r="0.34"/><circle cx="47.50" cy="48.39" r="0.34"/><circle cx="45.30" cy="69.00" r="0.34"/><circle cx="46.62" cy="73.08" r="0.34"/><circle cx="45.22" cy="71.80" r="0.34"/><circle cx="50.15" cy="62.72" r="0.34"/><circle cx="45.64" cy="77.45" r="0.34"/><circle cx="55.98" cy="77.38" r="0.34"/><circle cx="48.99" cy="57.70" r="0.34"/><circle cx="51.51" cy="79.10" r="0.34"/><circle cx="44.64" cy="70.23" r="0.34"/><circle cx="49.62" cy="58.34" r="0.34"/><circle cx="46.43" cy="81.52" r="0.34"/><circle cx="45.47" cy="73.39" r="0.34"/><circle cx="49.63" cy="81.84" r="0.34"/><circle cx="53.44" cy="57.33" r="0.34"/><circle cx="46.32" cy="69.47" r="0.34"/><circle cx="53.60" cy="81.50" r="0.34"/><circle cx="53.52" cy="80.69" r="0.34"/><circle cx="49.08" cy="56.95" r="0.34"/><circle cx="54.25" cy="78.28" r="0.34"/><circle cx="51.17" cy="82.55" r="0.34"/><circle cx="44.92" cy="49.40" r="0.34"/><circle cx="48.74" cy="77.90" r="0.34"/><circle cx="42.21" cy="76.01" r="0.34"/><circle cx="55.74" cy="55.36" r="0.34"/><circle cx="49.73" cy="73.11" r="0.34"/><circle cx="47.11" cy="54.26" r="0.34"/><circle cx="43.21" cy="76.05" r="0.34"/><circle cx="53.15" cy="64.39" r="0.34"/><circle cx="52.79" cy="55.31" r="0.34"/><circle cx="49.22" cy="81.88" r="0.34"/><circle cx="54.87" cy="66.87" r="0.34"/><circle cx="47.32" cy="69.57" r="0.34"/><circle cx="42.00" cy="53.69" r="0.34"/><circle cx="41.84" cy="74.04" r="0.34"/><circle cx="45.21" cy="68.58" r="0.34"/><circle cx="45.95" cy="66.69" r="0.34"/><circle cx="41.26" cy="47.78" r="0.34"/><circle cx="56.95" cy="60.96" r="0.34"/><circle cx="40.46" cy="71.31" r="0.34"/><circle cx="53.07" cy="52.25" r="0.34"/><circle cx="49.55" cy="59.80" r="0.34"/><circle cx="48.11" cy="46.82" r="0.34"/><circle cx="54.52" cy="65.45" r="0.34"/><circle cx="48.99" cy="56.46" r="0.34"/><circle cx="52.92" cy="63.04" r="0.34"/><circle cx="56.01" cy="76.69" r="0.34"/><circle cx="53.65" cy="84.54" r="0.34"/><circle cx="43.20" cy="47.51" r="0.34"/><circle cx="42.22" cy="53.23" r="0.34"/><circle cx="40.05" cy="48.04" r="0.34"/><circle cx="48.81" cy="80.83" r="0.34"/><circle cx="49.56" cy="61.90" r="0.34"/><circle cx="43.26" cy="68.58" r="0.34"/><circle cx="50.89" cy="61.72" r="0.34"/><circle cx="46.79" cy="52.39" r="0.34"/><circle cx="42.60" cy="47.55" r="0.34"/><circle cx="43.23" cy="60.08" r="0.34"/><circle cx="55.20" cy="82.18" r="0.34"/><circle cx="53.05" cy="74.38" r="0.34"/><circle cx="39.53" cy="51.79" r="0.34"/><circle cx="52.47" cy="83.58" r="0.34"/><circle cx="51.02" cy="57.95" r="0.34"/><circle cx="49.44" cy="76.32" r="0.34"/><circle cx="40.45" cy="58.96" r="0.34"/><circle cx="43.25" cy="50.97" r="0.34"/><circle cx="47.40" cy="52.74" r="0.34"/><circle cx="42.91" cy="51.73" r="0.34"/><circle cx="51.77" cy="53.80" r="0.34"/><circle cx="54.53" cy="81.55" r="0.34"/><circle cx="41.09" cy="63.89" r="0.34"/><circle cx="54.08" cy="71.13" r="0.34"/><circle cx="46.87" cy="59.59" r="0.34"/><circle cx="53.73" cy="65.10" r="0.34"/><circle cx="50.12" cy="51.71" r="0.34"/><circle cx="42.60" cy="48.27" r="0.34"/><circle cx="51.70" cy="68.13" r="0.34"/><circle cx="43.43" cy="62.47" r="0.34"/><circle cx="41.38" cy="56.84" r="0.34"/><circle cx="54.03" cy="59.38" r="0.34"/><circle cx="41.60" cy="65.64" r="0.34"/><circle cx="50.86" cy="54.45" r="0.34"/><circle cx="47.33" cy="57.45" r="0.34"/><circle cx="43.27" cy="54.06" r="0.34"/><circle cx="40.30" cy="57.58" r="0.34"/><circle cx="51.94" cy="57.74" r="0.34"/><circle cx="53.43" cy="59.64" r="0.34"/><circle cx="53.90" cy="67.06" r="0.34"/><circle cx="41.94" cy="63.41" r="0.34"/><circle cx="55.37" cy="54.73" r="0.34"/><circle cx="49.07" cy="51.52" r="0.34"/><circle cx="41.83" cy="76.82" r="0.34"/><circle cx="51.66" cy="53.87" r="0.34"/><circle cx="39.97" cy="49.50" r="0.34"/><circle cx="49.76" cy="65.82" r="0.34"/><circle cx="43.57" cy="54.24" r="0.34"/><circle cx="49.83" cy="74.31" r="0.34"/><circle cx="53.51" cy="69.32" r="0.34"/><circle cx="42.24" cy="48.63" r="0.34"/><circle cx="52.06" cy="62.32" r="0.34"/><circle cx="51.85" cy="48.21" r="0.34"/><circle cx="53.50" cy="59.41" r="0.34"/><circle cx="54.08" cy="80.58" r="0.34"/><circle cx="47.62" cy="46.62" r="0.34"/><circle cx="55.34" cy="65.06" r="0.34"/><circle cx="54.63" cy="56.65" r="0.34"/><circle cx="45.29" cy="52.54" r="0.34"/><circle cx="45.37" cy="69.80" r="0.34"/><circle cx="46.75" cy="66.63" r="0.34"/><circle cx="40.73" cy="74.58" r="0.34"/><circle cx="53.61" cy="80.62" r="0.34"/><circle cx="44.44" cy="74.45" r="0.34"/><circle cx="45.56" cy="76.05" r="0.34"/><circle cx="56.15" cy="65.79" r="0.34"/><circle cx="48.00" cy="67.22" r="0.34"/><circle cx="48.44" cy="46.83" r="0.34"/><circle cx="56.40" cy="54.95" r="0.34"/><circle cx="41.87" cy="50.11" r="0.34"/><circle cx="43.13" cy="78.69" r="0.34"/><circle cx="39.06" cy="49.86" r="0.34"/><circle cx="51.43" cy="53.80" r="0.34"/><circle cx="49.16" cy="66.92" r="0.34"/><circle cx="51.50" cy="50.11" r="0.34"/><circle cx="54.59" cy="74.68" r="0.34"/><circle cx="39.34" cy="50.92" r="0.34"/><circle cx="47.63" cy="66.03" r="0.34"/><circle cx="43.67" cy="50.88" r="0.34"/><circle cx="46.00" cy="51.48" r="0.34"/><circle cx="49.45" cy="80.44" r="0.34"/><circle cx="41.22" cy="68.91" r="0.34"/><circle cx="52.31" cy="52.57" r="0.34"/><circle cx="53.78" cy="83.50" r="0.34"/><circle cx="45.69" cy="62.82" r="0.34"/><circle cx="54.03" cy="67.02" r="0.34"/><circle cx="52.87" cy="59.54" r="0.34"/><circle cx="42.95" cy="59.40" r="0.34"/><circle cx="53.38" cy="82.51" r="0.34"/><circle cx="53.58" cy="79.91" r="0.34"/><circle cx="39.49" cy="66.69" r="0.34"/><circle cx="43.11" cy="62.89" r="0.34"/><circle cx="50.20" cy="60.58" r="0.34"/><circle cx="48.32" cy="48.77" r="0.34"/><circle cx="46.51" cy="66.19" r="0.34"/><circle cx="38.89" cy="51.58" r="0.34"/><circle cx="56.44" cy="77.06" r="0.34"/><circle cx="55.83" cy="71.33" r="0.34"/><circle cx="53.47" cy="81.37" r="0.34"/><circle cx="50.37" cy="56.63" r="0.34"/><circle cx="51.05" cy="56.94" r="0.34"/><circle cx="49.99" cy="56.02" r="0.34"/><circle cx="48.13" cy="63.35" r="0.34"/><circle cx="56.09" cy="57.50" r="0.34"/><circle cx="44.15" cy="71.90" r="0.34"/><circle cx="40.73" cy="69.77" r="0.34"/><circle cx="56.19" cy="66.55" r="0.34"/><circle cx="43.47" cy="64.66" r="0.34"/><circle cx="48.38" cy="51.94" r="0.34"/><circle cx="40.79" cy="51.25" r="0.34"/><circle cx="43.93" cy="62.26" r="0.34"/><circle cx="43.83" cy="55.74" r="0.34"/><circle cx="40.13" cy="67.85" r="0.34"/><circle cx="54.04" cy="70.40" r="0.34"/><circle cx="49.05" cy="72.01" r="0.34"/><circle cx="42.22" cy="74.41" r="0.34"/><circle cx="47.03" cy="67.92" r="0.34"/><circle cx="49.84" cy="64.76" r="0.34"/><circle cx="44.24" cy="55.69" r="0.34"/><circle cx="42.60" cy="66.50" r="0.34"/><circle cx="45.59" cy="69.43" r="0.34"/><circle cx="38.72" cy="60.11" r="0.34"/><circle cx="54.44" cy="55.54" r="0.34"/><circle cx="48.80" cy="65.66" r="0.34"/><circle cx="43.97" cy="76.89" r="0.34"/><circle cx="41.43" cy="48.67" r="0.34"/><circle cx="54.62" cy="63.60" r="0.34"/><circle cx="39.65" cy="61.52" r="0.34"/><circle cx="46.64" cy="75.42" r="0.34"/><circle cx="40.52" cy="55.01" r="0.34"/><circle cx="56.25" cy="75.55" r="0.34"/><circle cx="41.36" cy="59.48" r="0.34"/></g>
<g fill="#5a4e42" opacity="0.65"><circle cx="63.34" cy="81.92" r="0.32"/><circle cx="68.09" cy="87.07" r="0.32"/><circle cx="71.78" cy="77.27" r="0.32"/><circle cx="70.30" cy="83.93" r="0.32"/><circle cx="70.67" cy="76.02" r="0.32"/><circle cx="71.13" cy="82.90" r="0.32"/><circle cx="70.78" cy="79.28" r="0.32"/><circle cx="65.96" cy="90.40" r="0.32"/><circle cx="67.30" cy="74.33" r="0.32"/><circle cx="71.11" cy="87.75" r="0.32"/><circle cx="67.93" cy="73.20" r="0.32"/><circle cx="65.14" cy="75.51" r="0.32"/><circle cx="70.02" cy="70.64" r="0.32"/><circle cx="64.03" cy="78.38" r="0.32"/><circle cx="63.92" cy="71.50" r="0.32"/><circle cx="71.17" cy="87.06" r="0.32"/><circle cx="65.99" cy="75.10" r="0.32"/><circle cx="60.32" cy="70.97" r="0.32"/><circle cx="59.61" cy="78.98" r="0.32"/><circle cx="67.47" cy="64.59" r="0.32"/><circle cx="72.18" cy="86.73" r="0.32"/><circle cx="64.68" cy="88.86" r="0.32"/><circle cx="67.17" cy="76.67" r="0.32"/><circle cx="73.57" cy="84.82" r="0.32"/><circle cx="66.31" cy="77.26" r="0.32"/><circle cx="69.33" cy="73.49" r="0.32"/><circle cx="63.44" cy="79.54" r="0.32"/><circle cx="63.32" cy="89.96" r="0.32"/><circle cx="69.18" cy="77.49" r="0.32"/><circle cx="58.78" cy="73.05" r="0.32"/><circle cx="64.22" cy="78.56" r="0.32"/><circle cx="67.33" cy="87.96" r="0.32"/><circle cx="64.92" cy="80.43" r="0.32"/><circle cx="66.54" cy="86.07" r="0.32"/><circle cx="60.07" cy="71.38" r="0.32"/><circle cx="74.61" cy="86.37" r="0.32"/><circle cx="66.23" cy="65.26" r="0.32"/><circle cx="73.10" cy="82.35" r="0.32"/><circle cx="72.99" cy="74.42" r="0.32"/><circle cx="59.82" cy="70.55" r="0.32"/><circle cx="66.21" cy="76.89" r="0.32"/><circle cx="60.39" cy="67.38" r="0.32"/><circle cx="68.34" cy="79.79" r="0.32"/><circle cx="64.41" cy="85.24" r="0.32"/><circle cx="62.52" cy="82.38" r="0.32"/><circle cx="57.07" cy="70.98" r="0.32"/><circle cx="72.16" cy="79.29" r="0.32"/><circle cx="69.03" cy="67.80" r="0.32"/><circle cx="65.96" cy="78.32" r="0.32"/><circle cx="61.79" cy="81.08" r="0.32"/><circle cx="67.34" cy="74.13" r="0.32"/><circle cx="59.19" cy="66.62" r="0.32"/><circle cx="58.80" cy="67.03" r="0.32"/><circle cx="66.40" cy="86.28" r="0.32"/><circle cx="68.03" cy="85.79" r="0.32"/><circle cx="70.87" cy="71.52" r="0.32"/><circle cx="69.88" cy="72.44" r="0.32"/><circle cx="60.05" cy="69.86" r="0.32"/><circle cx="67.48" cy="72.29" r="0.32"/><circle cx="65.10" cy="73.38" r="0.32"/><circle cx="67.49" cy="90.31" r="0.32"/><circle cx="64.91" cy="80.30" r="0.32"/><circle cx="73.75" cy="87.21" r="0.32"/><circle cx="62.67" cy="88.52" r="0.32"/><circle cx="71.69" cy="70.96" r="0.32"/><circle cx="67.85" cy="90.32" r="0.32"/><circle cx="65.92" cy="90.02" r="0.32"/><circle cx="61.37" cy="73.50" r="0.32"/><circle cx="69.93" cy="68.53" r="0.32"/><circle cx="62.56" cy="87.82" r="0.32"/><circle cx="65.72" cy="85.39" r="0.32"/><circle cx="61.38" cy="67.12" r="0.32"/><circle cx="63.45" cy="67.50" r="0.32"/><circle cx="67.11" cy="65.39" r="0.32"/><circle cx="66.61" cy="73.38" r="0.32"/><circle cx="64.26" cy="63.93" r="0.32"/><circle cx="59.22" cy="86.36" r="0.32"/><circle cx="63.32" cy="69.23" r="0.32"/><circle cx="60.44" cy="70.37" r="0.32"/><circle cx="68.96" cy="72.07" r="0.32"/><circle cx="59.81" cy="82.82" r="0.32"/><circle cx="58.67" cy="69.96" r="0.32"/><circle cx="64.98" cy="86.67" r="0.32"/><circle cx="63.35" cy="83.31" r="0.32"/><circle cx="63.78" cy="90.27" r="0.32"/><circle cx="66.09" cy="68.70" r="0.32"/><circle cx="65.15" cy="65.86" r="0.32"/><circle cx="69.72" cy="69.69" r="0.32"/><circle cx="73.19" cy="79.33" r="0.32"/><circle cx="63.62" cy="69.26" r="0.32"/><circle cx="67.95" cy="68.27" r="0.32"/><circle cx="66.23" cy="78.01" r="0.32"/><circle cx="61.87" cy="84.77" r="0.32"/><circle cx="63.93" cy="81.40" r="0.32"/><circle cx="67.22" cy="71.17" r="0.32"/><circle cx="64.02" cy="64.54" r="0.32"/><circle cx="60.19" cy="87.10" r="0.32"/><circle cx="62.78" cy="81.55" r="0.32"/><circle cx="58.96" cy="78.58" r="0.32"/><circle cx="63.51" cy="76.76" r="0.32"/><circle cx="62.35" cy="63.94" r="0.32"/><circle cx="62.60" cy="68.68" r="0.32"/><circle cx="59.27" cy="83.14" r="0.32"/><circle cx="62.08" cy="73.90" r="0.32"/><circle cx="73.36" cy="84.86" r="0.32"/><circle cx="72.89" cy="87.41" r="0.32"/><circle cx="59.38" cy="70.16" r="0.32"/><circle cx="57.53" cy="82.05" r="0.32"/><circle cx="68.94" cy="72.37" r="0.32"/><circle cx="64.43" cy="81.44" r="0.32"/><circle cx="69.59" cy="69.33" r="0.32"/><circle cx="72.24" cy="72.39" r="0.32"/><circle cx="68.32" cy="67.36" r="0.32"/><circle cx="70.21" cy="83.02" r="0.32"/><circle cx="59.92" cy="67.84" r="0.32"/><circle cx="62.46" cy="73.23" r="0.32"/><circle cx="57.71" cy="71.17" r="0.32"/><circle cx="68.49" cy="67.30" r="0.32"/><circle cx="72.11" cy="78.82" r="0.32"/><circle cx="69.90" cy="69.51" r="0.32"/><circle cx="64.83" cy="82.19" r="0.32"/><circle cx="72.02" cy="84.91" r="0.32"/><circle cx="72.37" cy="79.92" r="0.32"/><circle cx="57.85" cy="69.21" r="0.32"/><circle cx="59.00" cy="85.35" r="0.32"/><circle cx="60.78" cy="88.98" r="0.32"/><circle cx="69.50" cy="73.61" r="0.32"/><circle cx="70.46" cy="86.45" r="0.32"/><circle cx="62.06" cy="64.65" r="0.32"/><circle cx="73.74" cy="82.40" r="0.32"/><circle cx="70.29" cy="86.48" r="0.32"/><circle cx="68.31" cy="75.36" r="0.32"/><circle cx="57.98" cy="82.60" r="0.32"/><circle cx="64.71" cy="77.10" r="0.32"/><circle cx="69.65" cy="85.77" r="0.32"/><circle cx="61.70" cy="78.12" r="0.32"/><circle cx="66.79" cy="69.37" r="0.32"/><circle cx="58.07" cy="72.56" r="0.32"/><circle cx="64.41" cy="67.94" r="0.32"/><circle cx="62.59" cy="66.03" r="0.32"/><circle cx="69.73" cy="81.77" r="0.32"/><circle cx="61.28" cy="69.13" r="0.32"/><circle cx="66.28" cy="75.13" r="0.32"/><circle cx="62.39" cy="88.10" r="0.32"/><circle cx="59.55" cy="78.62" r="0.32"/><circle cx="63.00" cy="86.05" r="0.32"/><circle cx="66.87" cy="84.44" r="0.32"/><circle cx="60.05" cy="81.66" r="0.32"/><circle cx="67.78" cy="75.60" r="0.32"/><circle cx="70.79" cy="86.52" r="0.32"/><circle cx="59.06" cy="70.54" r="0.32"/><circle cx="63.49" cy="68.09" r="0.32"/><circle cx="58.09" cy="70.29" r="0.32"/><circle cx="60.55" cy="82.70" r="0.32"/><circle cx="65.06" cy="65.33" r="0.32"/><circle cx="62.84" cy="75.83" r="0.32"/><circle cx="63.53" cy="66.96" r="0.32"/><circle cx="58.51" cy="83.16" r="0.32"/><circle cx="58.96" cy="76.42" r="0.32"/><circle cx="64.82" cy="67.60" r="0.32"/><circle cx="73.55" cy="81.01" r="0.32"/><circle cx="68.30" cy="89.59" r="0.32"/><circle cx="68.75" cy="69.42" r="0.32"/><circle cx="61.43" cy="66.09" r="0.32"/><circle cx="57.50" cy="84.85" r="0.32"/><circle cx="72.11" cy="70.74" r="0.32"/><circle cx="60.34" cy="80.82" r="0.32"/><circle cx="72.22" cy="89.34" r="0.32"/><circle cx="60.03" cy="85.15" r="0.32"/><circle cx="71.95" cy="83.90" r="0.32"/><circle cx="62.88" cy="67.44" r="0.32"/><circle cx="71.86" cy="71.44" r="0.32"/><circle cx="63.63" cy="78.26" r="0.32"/><circle cx="63.65" cy="86.53" r="0.32"/><circle cx="67.20" cy="80.53" r="0.32"/><circle cx="71.76" cy="82.81" r="0.32"/><circle cx="65.90" cy="76.74" r="0.32"/><circle cx="59.83" cy="70.84" r="0.32"/><circle cx="67.46" cy="64.37" r="0.32"/><circle cx="69.38" cy="66.83" r="0.32"/><circle cx="64.98" cy="90.61" r="0.32"/><circle cx="64.91" cy="67.63" r="0.32"/><circle cx="72.13" cy="87.23" r="0.32"/><circle cx="71.16" cy="74.55" r="0.32"/><circle cx="62.10" cy="81.52" r="0.32"/><circle cx="66.26" cy="74.43" r="0.32"/><circle cx="63.10" cy="74.94" r="0.32"/><circle cx="68.99" cy="86.37" r="0.32"/><circle cx="62.32" cy="75.07" r="0.32"/><circle cx="67.14" cy="72.27" r="0.32"/><circle cx="60.52" cy="64.51" r="0.32"/><circle cx="62.83" cy="75.58" r="0.32"/><circle cx="74.48" cy="88.81" r="0.32"/><circle cx="69.18" cy="79.97" r="0.32"/><circle cx="62.35" cy="78.85" r="0.32"/><circle cx="68.65" cy="70.83" r="0.32"/><circle cx="63.18" cy="88.11" r="0.32"/><circle cx="57.50" cy="67.57" r="0.32"/><circle cx="69.22" cy="75.20" r="0.32"/><circle cx="58.53" cy="81.48" r="0.32"/><circle cx="63.70" cy="79.13" r="0.32"/><circle cx="64.49" cy="77.63" r="0.32"/><circle cx="67.17" cy="73.69" r="0.32"/><circle cx="59.06" cy="67.32" r="0.32"/><circle cx="73.02" cy="78.17" r="0.32"/><circle cx="59.02" cy="87.43" r="0.32"/><circle cx="61.56" cy="64.80" r="0.32"/><circle cx="66.55" cy="69.42" r="0.32"/><circle cx="65.81" cy="78.34" r="0.32"/><circle cx="61.08" cy="78.89" r="0.32"/><circle cx="59.03" cy="77.14" r="0.32"/><circle cx="67.59" cy="64.37" r="0.32"/><circle cx="64.34" cy="64.17" r="0.32"/><circle cx="64.91" cy="87.47" r="0.32"/><circle cx="66.91" cy="83.08" r="0.32"/><circle cx="58.84" cy="86.49" r="0.32"/><circle cx="64.06" cy="67.05" r="0.32"/><circle cx="61.26" cy="72.98" r="0.32"/><circle cx="57.27" cy="79.53" r="0.32"/><circle cx="60.84" cy="70.85" r="0.32"/><circle cx="69.73" cy="74.57" r="0.32"/><circle cx="73.00" cy="80.32" r="0.32"/><circle cx="72.70" cy="78.61" r="0.32"/><circle cx="73.52" cy="87.69" r="0.32"/><circle cx="60.02" cy="83.99" r="0.32"/><circle cx="63.15" cy="84.53" r="0.32"/><circle cx="69.25" cy="86.36" r="0.32"/><circle cx="59.21" cy="73.00" r="0.32"/><circle cx="70.27" cy="89.97" r="0.32"/><circle cx="67.87" cy="64.94" r="0.32"/><circle cx="66.88" cy="85.69" r="0.32"/><circle cx="69.15" cy="69.51" r="0.32"/><circle cx="60.48" cy="75.18" r="0.32"/><circle cx="72.09" cy="79.15" r="0.32"/><circle cx="58.99" cy="85.62" r="0.32"/><circle cx="60.33" cy="78.35" r="0.32"/><circle cx="62.22" cy="82.27" r="0.32"/><circle cx="63.85" cy="66.26" r="0.32"/><circle cx="72.76" cy="77.88" r="0.32"/><circle cx="69.41" cy="85.84" r="0.32"/><circle cx="63.16" cy="66.45" r="0.32"/><circle cx="66.03" cy="87.76" r="0.32"/><circle cx="60.28" cy="86.14" r="0.32"/><circle cx="69.23" cy="73.58" r="0.32"/><circle cx="65.56" cy="66.67" r="0.32"/><circle cx="72.21" cy="73.61" r="0.32"/><circle cx="72.71" cy="80.02" r="0.32"/><circle cx="58.37" cy="71.71" r="0.32"/><circle cx="60.89" cy="88.37" r="0.32"/><circle cx="60.06" cy="72.65" r="0.32"/><circle cx="65.42" cy="79.02" r="0.32"/><circle cx="63.98" cy="72.43" r="0.32"/><circle cx="57.11" cy="79.09" r="0.32"/><circle cx="57.82" cy="66.30" r="0.32"/><circle cx="69.08" cy="70.04" r="0.32"/><circle cx="61.92" cy="76.75" r="0.32"/><circle cx="61.72" cy="78.78" r="0.32"/><circle cx="66.51" cy="90.23" r="0.32"/><circle cx="67.09" cy="84.74" r="0.32"/><circle cx="72.70" cy="84.84" r="0.32"/><circle cx="68.40" cy="80.72" r="0.32"/><circle cx="63.53" cy="70.31" r="0.32"/><circle cx="71.32" cy="87.75" r="0.32"/><circle cx="73.90" cy="82.10" r="0.32"/><circle cx="62.47" cy="84.52" r="0.32"/><circle cx="70.31" cy="77.01" r="0.32"/><circle cx="68.43" cy="72.34" r="0.32"/><circle cx="66.91" cy="73.98" r="0.32"/><circle cx="58.09" cy="71.95" r="0.32"/><circle cx="65.67" cy="72.83" r="0.32"/><circle cx="61.38" cy="68.93" r="0.32"/><circle cx="63.29" cy="66.00" r="0.32"/><circle cx="65.16" cy="75.14" r="0.32"/><circle cx="67.24" cy="70.92" r="0.32"/><circle cx="62.43" cy="71.10" r="0.32"/><circle cx="70.08" cy="78.26" r="0.32"/><circle cx="73.58" cy="79.21" r="0.32"/><circle cx="58.44" cy="67.27" r="0.32"/><circle cx="67.45" cy="91.13" r="0.32"/><circle cx="63.43" cy="84.85" r="0.32"/><circle cx="64.71" cy="87.62" r="0.32"/><circle cx="58.22" cy="76.29" r="0.32"/><circle cx="59.96" cy="69.91" r="0.32"/><circle cx="69.68" cy="68.44" r="0.32"/><circle cx="64.19" cy="67.91" r="0.32"/><circle cx="67.85" cy="87.49" r="0.32"/><circle cx="68.67" cy="67.80" r="0.32"/><circle cx="70.21" cy="90.41" r="0.32"/><circle cx="67.82" cy="64.34" r="0.32"/><circle cx="71.57" cy="87.83" r="0.32"/><circle cx="63.14" cy="66.03" r="0.32"/><circle cx="60.39" cy="77.84" r="0.32"/><circle cx="72.76" cy="80.88" r="0.32"/><circle cx="62.88" cy="84.11" r="0.32"/><circle cx="68.68" cy="73.96" r="0.32"/><circle cx="69.22" cy="71.96" r="0.32"/><circle cx="58.03" cy="74.22" r="0.32"/><circle cx="57.82" cy="80.48" r="0.32"/><circle cx="63.02" cy="76.58" r="0.32"/><circle cx="67.76" cy="69.58" r="0.32"/><circle cx="65.34" cy="62.40" r="0.32"/><circle cx="73.66" cy="78.64" r="0.32"/><circle cx="68.05" cy="83.36" r="0.32"/><circle cx="62.92" cy="64.76" r="0.32"/><circle cx="59.81" cy="66.21" r="0.32"/><circle cx="71.65" cy="74.49" r="0.32"/><circle cx="66.70" cy="79.36" r="0.32"/><circle cx="66.99" cy="81.39" r="0.32"/><circle cx="67.83" cy="71.76" r="0.32"/><circle cx="70.34" cy="69.61" r="0.32"/><circle cx="69.81" cy="84.52" r="0.32"/><circle cx="70.97" cy="71.12" r="0.32"/><circle cx="70.91" cy="90.83" r="0.32"/><circle cx="65.16" cy="70.21" r="0.32"/><circle cx="66.42" cy="89.76" r="0.32"/><circle cx="65.56" cy="81.33" r="0.32"/><circle cx="70.93" cy="72.69" r="0.32"/><circle cx="57.50" cy="65.96" r="0.32"/><circle cx="58.08" cy="76.80" r="0.32"/><circle cx="66.99" cy="67.36" r="0.32"/><circle cx="59.69" cy="67.23" r="0.32"/><circle cx="70.28" cy="89.18" r="0.32"/><circle cx="71.01" cy="69.16" r="0.32"/><circle cx="68.45" cy="72.15" r="0.32"/><circle cx="71.41" cy="75.57" r="0.32"/><circle cx="62.83" cy="88.65" r="0.32"/><circle cx="58.94" cy="83.63" r="0.32"/><circle cx="58.18" cy="81.04" r="0.32"/><circle cx="64.23" cy="87.49" r="0.32"/><circle cx="58.08" cy="78.64" r="0.32"/><circle cx="64.38" cy="89.11" r="0.32"/><circle cx="74.01" cy="80.50" r="0.32"/><circle cx="61.03" cy="69.43" r="0.32"/><circle cx="61.72" cy="74.80" r="0.32"/><circle cx="61.16" cy="67.99" r="0.32"/><circle cx="70.67" cy="80.96" r="0.32"/><circle cx="60.90" cy="78.80" r="0.32"/><circle cx="59.82" cy="87.46" r="0.32"/><circle cx="72.65" cy="69.88" r="0.32"/><circle cx="70.53" cy="86.27" r="0.32"/><circle cx="62.09" cy="71.78" r="0.32"/><circle cx="65.74" cy="88.28" r="0.32"/><circle cx="59.91" cy="82.14" r="0.32"/><circle cx="67.76" cy="75.36" r="0.32"/><circle cx="67.43" cy="88.04" r="0.32"/><circle cx="60.78" cy="88.07" r="0.32"/><circle cx="63.49" cy="85.00" r="0.32"/><circle cx="59.71" cy="83.71" r="0.32"/><circle cx="58.76" cy="66.98" r="0.32"/><circle cx="63.11" cy="89.10" r="0.32"/><circle cx="69.89" cy="88.02" r="0.32"/><circle cx="61.22" cy="85.37" r="0.32"/><circle cx="66.09" cy="68.83" r="0.32"/><circle cx="64.75" cy="65.09" r="0.32"/><circle cx="62.70" cy="87.92" r="0.32"/><circle cx="59.17" cy="76.38" r="0.32"/><circle cx="59.44" cy="74.64" r="0.32"/><circle cx="60.22" cy="82.22" r="0.32"/><circle cx="59.66" cy="83.78" r="0.32"/><circle cx="66.01" cy="65.31" r="0.32"/><circle cx="63.36" cy="76.64" r="0.32"/><circle cx="72.90" cy="83.58" r="0.32"/><circle cx="61.91" cy="67.23" r="0.32"/><circle cx="61.76" cy="64.03" r="0.32"/><circle cx="57.78" cy="77.01" r="0.32"/><circle cx="64.35" cy="78.42" r="0.32"/><circle cx="69.39" cy="81.27" r="0.32"/><circle cx="66.79" cy="78.19" r="0.32"/><circle cx="69.43" cy="90.98" r="0.32"/><circle cx="72.73" cy="83.17" r="0.32"/><circle cx="64.19" cy="71.39" r="0.32"/><circle cx="64.54" cy="90.70" r="0.32"/><circle cx="63.97" cy="73.37" r="0.32"/><circle cx="64.38" cy="66.22" r="0.32"/><circle cx="67.94" cy="89.33" r="0.32"/><circle cx="61.58" cy="80.02" r="0.32"/><circle cx="63.79" cy="69.10" r="0.32"/><circle cx="60.57" cy="65.43" r="0.32"/><circle cx="72.18" cy="85.13" r="0.32"/><circle cx="69.50" cy="71.57" r="0.32"/></g>
<g fill="#555" opacity="0.6"><circle cx="64.80" cy="56.08" r="0.32"/><circle cx="70.19" cy="55.22" r="0.32"/><circle cx="67.33" cy="52.33" r="0.32"/><circle cx="66.52" cy="52.66" r="0.32"/><circle cx="61.68" cy="57.48" r="0.32"/><circle cx="65.61" cy="51.09" r="0.32"/><circle cx="64.35" cy="55.95" r="0.32"/><circle cx="61.57" cy="54.49" r="0.32"/><circle cx="53.75" cy="47.13" r="0.32"/><circle cx="72.11" cy="55.63" r="0.32"/><circle cx="61.62" cy="55.60" r="0.32"/><circle cx="59.97" cy="58.09" r="0.32"/><circle cx="69.51" cy="63.67" r="0.32"/><circle cx="52.00" cy="49.53" r="0.32"/><circle cx="50.67" cy="51.85" r="0.32"/><circle cx="68.88" cy="55.47" r="0.32"/><circle cx="59.77" cy="45.94" r="0.32"/><circle cx="66.07" cy="53.88" r="0.32"/><circle cx="65.68" cy="52.07" r="0.32"/><circle cx="61.54" cy="49.23" r="0.32"/><circle cx="57.64" cy="51.48" r="0.32"/><circle cx="57.91" cy="44.39" r="0.32"/><circle cx="49.50" cy="47.93" r="0.32"/><circle cx="66.67" cy="50.04" r="0.32"/><circle cx="56.42" cy="49.32" r="0.32"/><circle cx="64.54" cy="62.90" r="0.32"/><circle cx="53.24" cy="53.31" r="0.32"/><circle cx="68.60" cy="57.59" r="0.32"/><circle cx="57.66" cy="44.97" r="0.32"/><circle cx="59.51" cy="52.08" r="0.32"/><circle cx="66.53" cy="50.50" r="0.32"/><circle cx="58.61" cy="58.26" r="0.32"/><circle cx="69.08" cy="51.75" r="0.32"/><circle cx="58.02" cy="56.73" r="0.32"/><circle cx="56.57" cy="45.56" r="0.32"/><circle cx="67.66" cy="52.35" r="0.32"/><circle cx="61.67" cy="54.93" r="0.32"/><circle cx="71.43" cy="60.65" r="0.32"/><circle cx="60.03" cy="54.17" r="0.32"/><circle cx="69.83" cy="53.13" r="0.32"/><circle cx="59.44" cy="54.81" r="0.32"/><circle cx="65.43" cy="60.29" r="0.32"/><circle cx="58.44" cy="44.89" r="0.32"/><circle cx="65.68" cy="56.18" r="0.32"/><circle cx="68.00" cy="60.94" r="0.32"/><circle cx="51.07" cy="48.86" r="0.32"/><circle cx="50.64" cy="45.94" r="0.32"/><circle cx="67.59" cy="56.42" r="0.32"/><circle cx="66.49" cy="54.62" r="0.32"/><circle cx="58.87" cy="56.85" r="0.32"/><circle cx="56.69" cy="55.40" r="0.32"/><circle cx="55.14" cy="49.77" r="0.32"/><circle cx="56.14" cy="49.61" r="0.32"/><circle cx="70.33" cy="56.23" r="0.32"/><circle cx="61.29" cy="53.24" r="0.32"/><circle cx="70.54" cy="61.64" r="0.32"/><circle cx="53.25" cy="45.15" r="0.32"/><circle cx="61.96" cy="52.22" r="0.32"/><circle cx="60.07" cy="54.76" r="0.32"/><circle cx="63.18" cy="52.05" r="0.32"/><circle cx="71.90" cy="56.23" r="0.32"/><circle cx="61.86" cy="53.00" r="0.32"/><circle cx="62.69" cy="51.12" r="0.32"/><circle cx="68.86" cy="57.03" r="0.32"/><circle cx="63.50" cy="47.96" r="0.32"/><circle cx="71.98" cy="56.34" r="0.32"/><circle cx="68.82" cy="54.96" r="0.32"/><circle cx="65.52" cy="58.85" r="0.32"/><circle cx="55.67" cy="48.64" r="0.32"/><circle cx="50.62" cy="46.10" r="0.32"/><circle cx="58.78" cy="58.50" r="0.32"/><circle cx="65.83" cy="47.41" r="0.32"/><circle cx="55.63" cy="49.12" r="0.32"/><circle cx="63.13" cy="51.01" r="0.32"/><circle cx="62.57" cy="47.39" r="0.32"/><circle cx="58.18" cy="44.72" r="0.32"/><circle cx="66.93" cy="53.46" r="0.32"/><circle cx="55.56" cy="51.65" r="0.32"/><circle cx="67.51" cy="54.92" r="0.32"/><circle cx="63.54" cy="55.90" r="0.32"/><circle cx="50.30" cy="47.07" r="0.32"/><circle cx="56.66" cy="53.89" r="0.32"/><circle cx="55.75" cy="45.53" r="0.32"/><circle cx="62.54" cy="46.10" r="0.32"/><circle cx="63.49" cy="54.15" r="0.32"/><circle cx="57.17" cy="52.24" r="0.32"/><circle cx="65.24" cy="47.61" r="0.32"/><circle cx="70.71" cy="54.57" r="0.32"/><circle cx="51.87" cy="46.07" r="0.32"/><circle cx="60.90" cy="55.79" r="0.32"/><circle cx="61.18" cy="52.07" r="0.32"/><circle cx="53.14" cy="52.88" r="0.32"/><circle cx="53.29" cy="46.80" r="0.32"/><circle cx="62.83" cy="59.16" r="0.32"/><circle cx="52.00" cy="49.81" r="0.32"/><circle cx="61.47" cy="50.42" r="0.32"/><circle cx="63.04" cy="49.15" r="0.32"/><circle cx="63.48" cy="61.25" r="0.32"/><circle cx="64.07" cy="59.22" r="0.32"/><circle cx="69.18" cy="51.53" r="0.32"/><circle cx="69.07" cy="54.16" r="0.32"/><circle cx="58.58" cy="45.94" r="0.32"/><circle cx="65.65" cy="47.33" r="0.32"/><circle cx="56.95" cy="47.09" r="0.32"/><circle cx="53.15" cy="48.83" r="0.32"/><circle cx="60.47" cy="54.94" r="0.32"/><circle cx="68.26" cy="63.98" r="0.32"/><circle cx="67.54" cy="58.00" r="0.32"/><circle cx="69.99" cy="61.31" r="0.32"/><circle cx="57.08" cy="47.57" r="0.32"/><circle cx="69.54" cy="64.62" r="0.32"/><circle cx="71.52" cy="60.39" r="0.32"/><circle cx="69.64" cy="61.65" r="0.32"/><circle cx="63.35" cy="53.58" r="0.32"/><circle cx="69.45" cy="61.26" r="0.32"/><circle cx="54.03" cy="48.36" r="0.32"/><circle cx="59.91" cy="49.21" r="0.32"/><circle cx="65.82" cy="59.63" r="0.32"/><circle cx="68.63" cy="59.02" r="0.32"/><circle cx="72.48" cy="62.17" r="0.32"/><circle cx="58.56" cy="45.92" r="0.32"/><circle cx="64.96" cy="62.40" r="0.32"/><circle cx="56.83" cy="57.09" r="0.32"/><circle cx="69.74" cy="61.44" r="0.32"/><circle cx="48.43" cy="46.43" r="0.32"/><circle cx="69.12" cy="53.21" r="0.32"/><circle cx="63.72" cy="54.06" r="0.32"/><circle cx="56.72" cy="48.70" r="0.32"/><circle cx="64.10" cy="50.43" r="0.32"/><circle cx="50.29" cy="49.96" r="0.32"/><circle cx="66.23" cy="53.72" r="0.32"/><circle cx="65.19" cy="61.76" r="0.32"/><circle cx="52.79" cy="49.97" r="0.32"/><circle cx="58.25" cy="54.99" r="0.32"/><circle cx="54.52" cy="51.75" r="0.32"/><circle cx="70.42" cy="55.31" r="0.32"/><circle cx="71.24" cy="58.66" r="0.32"/><circle cx="64.43" cy="52.27" r="0.32"/><circle cx="61.58" cy="58.88" r="0.32"/><circle cx="71.59" cy="54.96" r="0.32"/><circle cx="65.77" cy="56.26" r="0.32"/><circle cx="71.17" cy="60.03" r="0.32"/><circle cx="56.46" cy="47.01" r="0.32"/><circle cx="72.78" cy="63.61" r="0.32"/><circle cx="64.68" cy="50.18" r="0.32"/><circle cx="67.82" cy="50.41" r="0.32"/><circle cx="62.15" cy="53.26" r="0.32"/><circle cx="68.93" cy="58.88" r="0.32"/><circle cx="66.45" cy="59.20" r="0.32"/><circle cx="55.21" cy="47.56" r="0.32"/><circle cx="68.64" cy="51.64" r="0.32"/><circle cx="56.11" cy="45.18" r="0.32"/><circle cx="55.74" cy="52.43" r="0.32"/><circle cx="73.14" cy="65.17" r="0.32"/><circle cx="52.87" cy="50.81" r="0.32"/><circle cx="56.34" cy="53.64" r="0.32"/><circle cx="50.82" cy="49.72" r="0.32"/><circle cx="58.24" cy="52.48" r="0.32"/><circle cx="64.56" cy="61.13" r="0.32"/><circle cx="56.18" cy="47.35" r="0.32"/><circle cx="67.68" cy="54.34" r="0.32"/><circle cx="62.53" cy="58.75" r="0.32"/><circle cx="67.57" cy="50.06" r="0.32"/><circle cx="61.76" cy="50.34" r="0.32"/><circle cx="64.39" cy="49.71" r="0.32"/><circle cx="69.49" cy="56.46" r="0.32"/><circle cx="54.90" cy="49.35" r="0.32"/><circle cx="67.60" cy="58.92" r="0.32"/><circle cx="50.89" cy="50.75" r="0.32"/><circle cx="64.48" cy="59.22" r="0.32"/><circle cx="68.14" cy="52.68" r="0.32"/><circle cx="72.45" cy="60.33" r="0.32"/><circle cx="56.89" cy="52.64" r="0.32"/><circle cx="68.95" cy="51.69" r="0.32"/><circle cx="61.83" cy="55.47" r="0.32"/><circle cx="51.47" cy="51.45" r="0.32"/><circle cx="65.36" cy="56.71" r="0.32"/><circle cx="58.50" cy="56.62" r="0.32"/><circle cx="68.50" cy="62.44" r="0.32"/><circle cx="67.61" cy="55.01" r="0.32"/><circle cx="71.36" cy="63.77" r="0.32"/><circle cx="67.32" cy="62.06" r="0.32"/><circle cx="66.30" cy="57.47" r="0.32"/><circle cx="55.15" cy="45.48" r="0.32"/><circle cx="63.69" cy="62.13" r="0.32"/><circle cx="55.10" cy="48.69" r="0.32"/><circle cx="53.82" cy="46.06" r="0.32"/><circle cx="68.85" cy="51.91" r="0.32"/><circle cx="51.61" cy="50.05" r="0.32"/><circle cx="50.87" cy="48.94" r="0.32"/><circle cx="64.37" cy="51.48" r="0.32"/><circle cx="56.61" cy="56.51" r="0.32"/><circle cx="69.03" cy="55.82" r="0.32"/><circle cx="59.02" cy="45.39" r="0.32"/><circle cx="64.38" cy="59.94" r="0.32"/><circle cx="63.21" cy="52.80" r="0.32"/><circle cx="61.31" cy="56.95" r="0.32"/><circle cx="60.42" cy="46.94" r="0.32"/><circle cx="59.80" cy="59.02" r="0.32"/><circle cx="66.42" cy="54.00" r="0.32"/></g>
<g fill="#666" opacity="0.6"><circle cx="87.14" cy="80.68" r="0.32"/><circle cx="85.89" cy="91.48" r="0.32"/><circle cx="44.76" cy="34.61" r="0.32"/><circle cx="57.13" cy="34.37" r="0.32"/><circle cx="61.42" cy="36.51" r="0.32"/><circle cx="83.74" cy="57.79" r="0.32"/><circle cx="68.25" cy="37.73" r="0.32"/><circle cx="39.93" cy="39.68" r="0.32"/><circle cx="87.30" cy="84.13" r="0.32"/><circle cx="39.92" cy="36.85" r="0.32"/><circle cx="84.98" cy="73.84" r="0.32"/><circle cx="45.75" cy="34.94" r="0.32"/><circle cx="87.14" cy="78.32" r="0.32"/><circle cx="82.93" cy="91.26" r="0.32"/><circle cx="41.92" cy="37.20" r="0.32"/><circle cx="58.05" cy="34.28" r="0.32"/><circle cx="87.31" cy="68.04" r="0.32"/><circle cx="76.50" cy="43.07" r="0.32"/><circle cx="68.62" cy="95.16" r="0.32"/><circle cx="87.53" cy="74.81" r="0.32"/><circle cx="85.08" cy="81.60" r="0.32"/><circle cx="82.76" cy="91.54" r="0.32"/><circle cx="65.19" cy="92.61" r="0.32"/><circle cx="58.58" cy="91.09" r="0.32"/><circle cx="72.83" cy="94.46" r="0.32"/><circle cx="74.15" cy="95.85" r="0.32"/><circle cx="86.70" cy="74.13" r="0.32"/><circle cx="86.96" cy="76.91" r="0.32"/><circle cx="74.78" cy="39.75" r="0.32"/><circle cx="85.08" cy="55.27" r="0.32"/><circle cx="79.85" cy="47.99" r="0.32"/><circle cx="76.62" cy="47.84" r="0.32"/><circle cx="49.86" cy="35.64" r="0.32"/><circle cx="85.30" cy="68.59" r="0.32"/><circle cx="81.95" cy="94.15" r="0.32"/><circle cx="85.66" cy="66.71" r="0.32"/><circle cx="81.67" cy="47.12" r="0.32"/><circle cx="84.67" cy="62.70" r="0.32"/><circle cx="47.09" cy="34.48" r="0.32"/><circle cx="85.75" cy="80.22" r="0.32"/><circle cx="81.29" cy="56.86" r="0.32"/><circle cx="48.96" cy="36.05" r="0.32"/><circle cx="63.84" cy="93.26" r="0.32"/><circle cx="80.11" cy="46.46" r="0.32"/><circle cx="85.57" cy="59.37" r="0.32"/><circle cx="43.26" cy="34.90" r="0.32"/><circle cx="86.83" cy="88.38" r="0.32"/><circle cx="86.40" cy="83.06" r="0.32"/><circle cx="39.80" cy="42.33" r="0.32"/><circle cx="85.59" cy="69.98" r="0.32"/><circle cx="62.33" cy="34.90" r="0.32"/><circle cx="72.14" cy="43.89" r="0.32"/><circle cx="73.60" cy="94.39" r="0.32"/><circle cx="40.78" cy="39.06" r="0.32"/><circle cx="84.91" cy="68.94" r="0.32"/><circle cx="74.17" cy="93.91" r="0.32"/><circle cx="42.50" cy="36.88" r="0.32"/><circle cx="85.05" cy="88.81" r="0.32"/><circle cx="84.84" cy="92.36" r="0.32"/><circle cx="69.25" cy="40.38" r="0.32"/><circle cx="52.07" cy="36.14" r="0.32"/><circle cx="76.78" cy="42.27" r="0.32"/><circle cx="80.07" cy="44.40" r="0.32"/><circle cx="83.03" cy="90.50" r="0.32"/><circle cx="61.87" cy="93.77" r="0.32"/><circle cx="75.07" cy="41.93" r="0.32"/><circle cx="81.15" cy="53.94" r="0.32"/><circle cx="78.61" cy="95.91" r="0.32"/><circle cx="79.06" cy="49.68" r="0.32"/><circle cx="85.38" cy="80.46" r="0.32"/><circle cx="54.52" cy="35.43" r="0.32"/><circle cx="78.23" cy="48.04" r="0.32"/><circle cx="41.57" cy="38.04" r="0.32"/><circle cx="75.43" cy="46.24" r="0.32"/><circle cx="78.52" cy="93.62" r="0.32"/><circle cx="86.41" cy="77.43" r="0.32"/><circle cx="78.49" cy="47.53" r="0.32"/><circle cx="78.16" cy="45.30" r="0.32"/><circle cx="56.27" cy="91.73" r="0.32"/><circle cx="48.47" cy="35.27" r="0.32"/><circle cx="83.47" cy="93.68" r="0.32"/><circle cx="63.80" cy="92.28" r="0.32"/><circle cx="85.68" cy="61.55" r="0.32"/><circle cx="62.56" cy="93.04" r="0.32"/><circle cx="73.42" cy="94.43" r="0.32"/><circle cx="84.47" cy="58.98" r="0.32"/><circle cx="75.12" cy="93.32" r="0.32"/><circle cx="84.93" cy="73.88" r="0.32"/><circle cx="77.69" cy="50.14" r="0.32"/><circle cx="56.32" cy="91.04" r="0.32"/><circle cx="83.97" cy="93.17" r="0.32"/><circle cx="68.15" cy="95.04" r="0.32"/><circle cx="39.92" cy="37.31" r="0.32"/><circle cx="44.27" cy="35.17" r="0.32"/><circle cx="71.96" cy="94.59" r="0.32"/><circle cx="73.65" cy="44.78" r="0.32"/><circle cx="85.64" cy="87.69" r="0.32"/><circle cx="84.20" cy="68.96" r="0.32"/><circle cx="86.25" cy="92.04" r="0.32"/><circle cx="88.03" cy="76.94" r="0.32"/><circle cx="84.98" cy="81.26" r="0.32"/><circle cx="56.71" cy="91.48" r="0.32"/><circle cx="75.83" cy="42.88" r="0.32"/><circle cx="87.91" cy="67.72" r="0.32"/><circle cx="75.39" cy="42.02" r="0.32"/><circle cx="84.96" cy="63.51" r="0.32"/><circle cx="77.69" cy="49.49" r="0.32"/><circle cx="87.04" cy="82.15" r="0.32"/><circle cx="86.58" cy="91.69" r="0.32"/><circle cx="82.75" cy="56.85" r="0.32"/><circle cx="85.89" cy="76.78" r="0.32"/><circle cx="88.10" cy="76.32" r="0.32"/><circle cx="58.99" cy="90.39" r="0.32"/><circle cx="86.80" cy="59.20" r="0.32"/><circle cx="79.94" cy="95.32" r="0.32"/><circle cx="88.18" cy="72.88" r="0.32"/><circle cx="79.61" cy="48.94" r="0.32"/><circle cx="76.64" cy="47.74" r="0.32"/><circle cx="84.64" cy="71.67" r="0.32"/><circle cx="63.86" cy="92.53" r="0.32"/><circle cx="40.29" cy="41.48" r="0.32"/><circle cx="71.39" cy="39.53" r="0.32"/><circle cx="72.72" cy="96.11" r="0.32"/><circle cx="78.84" cy="52.10" r="0.32"/><circle cx="85.16" cy="84.87" r="0.32"/><circle cx="67.20" cy="95.01" r="0.32"/><circle cx="74.20" cy="41.02" r="0.32"/><circle cx="86.95" cy="74.19" r="0.32"/><circle cx="85.87" cy="69.28" r="0.32"/><circle cx="75.04" cy="46.80" r="0.32"/><circle cx="56.21" cy="35.83" r="0.32"/><circle cx="86.58" cy="66.70" r="0.32"/><circle cx="71.85" cy="94.40" r="0.32"/><circle cx="78.62" cy="48.18" r="0.32"/><circle cx="81.06" cy="54.58" r="0.32"/><circle cx="57.15" cy="34.49" r="0.32"/><circle cx="54.26" cy="36.08" r="0.32"/><circle cx="57.05" cy="36.18" r="0.32"/><circle cx="86.24" cy="56.96" r="0.32"/><circle cx="86.32" cy="56.43" r="0.32"/><circle cx="86.51" cy="76.58" r="0.32"/><circle cx="70.55" cy="42.34" r="0.32"/><circle cx="86.97" cy="85.35" r="0.32"/><circle cx="70.97" cy="40.48" r="0.32"/><circle cx="80.71" cy="44.91" r="0.32"/><circle cx="81.55" cy="46.53" r="0.32"/><circle cx="83.38" cy="55.04" r="0.32"/><circle cx="41.34" cy="38.32" r="0.32"/><circle cx="69.52" cy="41.37" r="0.32"/><circle cx="83.72" cy="88.35" r="0.32"/><circle cx="78.19" cy="51.41" r="0.32"/><circle cx="84.79" cy="84.63" r="0.32"/><circle cx="79.98" cy="49.34" r="0.32"/><circle cx="86.18" cy="56.89" r="0.32"/><circle cx="84.39" cy="63.38" r="0.32"/><circle cx="69.61" cy="41.67" r="0.32"/><circle cx="48.06" cy="36.20" r="0.32"/><circle cx="72.91" cy="43.42" r="0.32"/><circle cx="74.50" cy="40.95" r="0.32"/><circle cx="49.28" cy="34.32" r="0.32"/><circle cx="58.79" cy="92.18" r="0.32"/><circle cx="83.01" cy="59.36" r="0.32"/><circle cx="85.39" cy="90.07" r="0.32"/><circle cx="59.02" cy="35.92" r="0.32"/><circle cx="60.44" cy="91.21" r="0.32"/><circle cx="38.80" cy="43.27" r="0.32"/><circle cx="75.48" cy="39.92" r="0.32"/><circle cx="85.70" cy="59.40" r="0.32"/><circle cx="83.08" cy="50.97" r="0.32"/><circle cx="87.54" cy="89.76" r="0.32"/></g>
<path d="M39.6,46 C38.6,39 44,35.6 51,35.8 C62,36.1 71.5,39.5 78,46.5 C83.2,52.5 85.3,62 85.6,72 C86,82 86,89.5 82,92.8 C77,95.3 67,94.8 61,92.6 C57.5,91.2 55.8,89 55.5,86.5" fill="none" stroke="#3e3e3e" stroke-width="1.3"/>
<path d="M41.2,46.5 C40.6,40.5 45,37.6 51,37.8 C61.5,38 70,41.2 76,47.5 C81,53 83.2,62 83.6,72 C84,81 84,88 80.5,91" fill="none" stroke="#777" stroke-width="1.1"/>
<path d="M39.6,46 C38.6,39 44,35.6 51,35.8 C62,36.1 71.5,39.5 78,46.5 C83.2,52.5 85.3,62 85.6,72 C86,82 86,89.5 82,92.8" transform="translate(66,74) scale(0.92) translate(-66,-74)" fill="none" stroke="#606060" stroke-width="0.7" vector-effect="non-scaling-stroke"/>
<path d="M39.6,46 C38.6,39 44,35.6 51,35.8 C62,36.1 71.5,39.5 78,46.5 C83.2,52.5 85.3,62 85.6,72 C86,82 86,89.5 82,92.8" transform="translate(66,74) scale(0.84) translate(-66,-74)" fill="none" stroke="#7c7c7c" stroke-width="0.7" vector-effect="non-scaling-stroke"/>
<path d="M39.6,46 C38.6,39 44,35.6 51,35.8 C62,36.1 71.5,39.5 78,46.5 C83.2,52.5 85.3,62 85.6,72 C86,82 86,89.5 82,92.8" transform="translate(66,74) scale(0.76) translate(-66,-74)" fill="none" stroke="#606060" stroke-width="0.7" vector-effect="non-scaling-stroke"/>
<path d="M39.6,46 C38.6,39 44,35.6 51,35.8 C62,36.1 71.5,39.5 78,46.5 C83.2,52.5 85.3,62 85.6,72 C86,82 86,89.5 82,92.8" transform="translate(66,74) scale(0.68) translate(-66,-74)" fill="none" stroke="#7c7c7c" stroke-width="0.7" vector-effect="non-scaling-stroke"/>
<path d="M39.6,46 C38.6,39 44,35.6 51,35.8 C62,36.1 71.5,39.5 78,46.5 C83.2,52.5 85.3,62 85.6,72 C86,82 86,89.5 82,92.8" transform="translate(66,74) scale(0.6) translate(-66,-74)" fill="none" stroke="#606060" stroke-width="0.7" vector-effect="non-scaling-stroke"/>
<path d="M39.6,46 C38.6,39 44,35.6 51,35.8 C62,36.1 71.5,39.5 78,46.5 C83.2,52.5 85.3,62 85.6,72 C86,82 86,89.5 82,92.8" transform="translate(66,74) scale(0.52) translate(-66,-74)" fill="none" stroke="#7c7c7c" stroke-width="0.7" vector-effect="non-scaling-stroke"/>
<path d="M42.5,47.0 C48.0,48.0 53.0,50.0 57.0,53.0 C61.0,56.0 64.0,61.0 66.0,67.0" fill="none" stroke="#666" stroke-width="0.6"/>
<path d="M43.5,50.2 C48.6,51.2 53.0,53.2 56.4,56.2 C59.7,59.2 62.4,63.6 64.1,68.9" fill="none" stroke="#666" stroke-width="0.6"/>
<path d="M44.4,53.4 C49.3,54.4 53.0,56.4 55.7,59.4 C58.4,62.4 60.8,66.1 62.2,70.8" fill="none" stroke="#666" stroke-width="0.6"/>
<path d="M41.6,42.3 C41.6,39.4 45.5,38.5 49.5,38.7 C53.2,38.9 55.4,40.3 55.1,42.3 C54.8,44.4 51,45.7 47.5,45.6 C44,45.5 41.6,44.6 41.6,42.3 Z" fill="#fafafa" stroke="#333" stroke-width="1.1"/>
<path d="M44.2,42.2 C44.4,40.9 46.8,40.4 49.3,40.6 C51.4,40.8 52.6,41.5 52.3,42.4 C51.9,43.4 49.6,43.8 47.6,43.7 C45.6,43.6 44,43.1 44.2,42.2 Z" fill="none" stroke="#777" stroke-width="0.6"/>
<path d="M74.8,69 C73.5,74 72.2,79 72.5,84 C73,89 75.5,92 79,92.2 C82.5,92.2 84,89.5 84,84 C84,78 83.2,72.5 81,67.5 Z" fill="#7d7872" opacity="0.38"/>
<g fill="#3d3833" opacity="0.7"><circle cx="75.46" cy="87.45" r="0.35"/><circle cx="79.54" cy="72.50" r="0.35"/><circle cx="83.97" cy="83.37" r="0.35"/><circle cx="81.81" cy="81.17" r="0.35"/><circle cx="74.52" cy="73.85" r="0.35"/><circle cx="79.59" cy="72.25" r="0.35"/><circle cx="77.82" cy="84.98" r="0.35"/><circle cx="73.60" cy="83.69" r="0.35"/><circle cx="73.70" cy="79.15" r="0.35"/><circle cx="79.97" cy="84.34" r="0.35"/><circle cx="83.54" cy="77.08" r="0.35"/><circle cx="77.39" cy="76.68" r="0.35"/><circle cx="80.51" cy="85.64" r="0.35"/><circle cx="79.98" cy="77.36" r="0.35"/><circle cx="79.05" cy="80.13" r="0.35"/><circle cx="83.60" cy="86.55" r="0.35"/><circle cx="83.91" cy="78.91" r="0.35"/><circle cx="82.15" cy="73.40" r="0.35"/><circle cx="81.04" cy="85.02" r="0.35"/><circle cx="83.29" cy="87.92" r="0.35"/><circle cx="82.61" cy="74.06" r="0.35"/><circle cx="81.56" cy="79.15" r="0.35"/><circle cx="76.09" cy="76.53" r="0.35"/><circle cx="81.69" cy="88.15" r="0.35"/><circle cx="82.21" cy="83.90" r="0.35"/><circle cx="74.46" cy="71.31" r="0.35"/><circle cx="79.03" cy="72.69" r="0.35"/><circle cx="76.37" cy="70.01" r="0.35"/><circle cx="74.28" cy="85.07" r="0.35"/><circle cx="75.07" cy="88.27" r="0.35"/><circle cx="76.28" cy="88.30" r="0.35"/><circle cx="75.98" cy="74.05" r="0.35"/><circle cx="77.51" cy="76.81" r="0.35"/><circle cx="73.64" cy="84.89" r="0.35"/><circle cx="79.19" cy="79.85" r="0.35"/><circle cx="75.33" cy="74.53" r="0.35"/><circle cx="73.93" cy="88.28" r="0.35"/><circle cx="81.81" cy="84.54" r="0.35"/><circle cx="78.82" cy="87.41" r="0.35"/><circle cx="74.28" cy="80.72" r="0.35"/><circle cx="75.56" cy="77.28" r="0.35"/><circle cx="74.70" cy="84.85" r="0.35"/><circle cx="79.09" cy="86.59" r="0.35"/><circle cx="79.72" cy="82.18" r="0.35"/><circle cx="83.10" cy="87.41" r="0.35"/><circle cx="79.02" cy="75.49" r="0.35"/><circle cx="83.17" cy="76.59" r="0.35"/><circle cx="73.67" cy="75.67" r="0.35"/><circle cx="80.62" cy="90.32" r="0.35"/><circle cx="79.93" cy="83.73" r="0.35"/><circle cx="83.28" cy="86.56" r="0.35"/><circle cx="77.62" cy="78.81" r="0.35"/><circle cx="81.24" cy="75.28" r="0.35"/><circle cx="73.76" cy="82.68" r="0.35"/><circle cx="81.80" cy="73.58" r="0.35"/><circle cx="80.36" cy="89.37" r="0.35"/><circle cx="78.17" cy="75.69" r="0.35"/><circle cx="77.62" cy="86.93" r="0.35"/><circle cx="79.76" cy="71.75" r="0.35"/><circle cx="73.37" cy="78.59" r="0.35"/><circle cx="77.24" cy="90.88" r="0.35"/><circle cx="77.26" cy="88.32" r="0.35"/><circle cx="81.47" cy="81.86" r="0.35"/><circle cx="75.23" cy="74.97" r="0.35"/><circle cx="78.15" cy="77.18" r="0.35"/><circle cx="79.92" cy="79.88" r="0.35"/><circle cx="76.21" cy="82.37" r="0.35"/><circle cx="77.36" cy="87.99" r="0.35"/><circle cx="82.12" cy="81.85" r="0.35"/><circle cx="76.91" cy="73.91" r="0.35"/><circle cx="79.64" cy="69.10" r="0.35"/><circle cx="78.74" cy="76.70" r="0.35"/><circle cx="78.16" cy="77.41" r="0.35"/><circle cx="73.68" cy="85.42" r="0.35"/><circle cx="81.70" cy="82.16" r="0.35"/><circle cx="73.83" cy="82.18" r="0.35"/><circle cx="81.22" cy="68.62" r="0.35"/><circle cx="82.60" cy="83.79" r="0.35"/><circle cx="75.68" cy="90.04" r="0.35"/><circle cx="82.00" cy="89.43" r="0.35"/><circle cx="75.35" cy="81.64" r="0.35"/><circle cx="76.86" cy="74.75" r="0.35"/><circle cx="81.25" cy="82.60" r="0.35"/><circle cx="76.32" cy="80.80" r="0.35"/><circle cx="83.18" cy="81.38" r="0.35"/><circle cx="83.01" cy="81.37" r="0.35"/><circle cx="77.79" cy="81.03" r="0.35"/><circle cx="79.67" cy="79.21" r="0.35"/><circle cx="79.79" cy="80.57" r="0.35"/><circle cx="80.61" cy="90.70" r="0.35"/><circle cx="79.95" cy="87.11" r="0.35"/><circle cx="75.24" cy="76.84" r="0.35"/><circle cx="75.10" cy="84.77" r="0.35"/><circle cx="78.58" cy="82.34" r="0.35"/><circle cx="76.24" cy="81.87" r="0.35"/><circle cx="83.48" cy="86.59" r="0.35"/><circle cx="78.43" cy="76.95" r="0.35"/><circle cx="76.48" cy="87.18" r="0.35"/><circle cx="74.51" cy="81.18" r="0.35"/><circle cx="78.17" cy="90.44" r="0.35"/><circle cx="74.38" cy="88.10" r="0.35"/><circle cx="77.07" cy="80.92" r="0.35"/><circle cx="76.29" cy="71.32" r="0.35"/><circle cx="74.04" cy="74.94" r="0.35"/><circle cx="80.56" cy="81.72" r="0.35"/><circle cx="73.90" cy="87.14" r="0.35"/><circle cx="78.33" cy="71.01" r="0.35"/><circle cx="81.94" cy="87.61" r="0.35"/><circle cx="81.82" cy="73.11" r="0.35"/><circle cx="81.31" cy="86.44" r="0.35"/><circle cx="79.79" cy="87.90" r="0.35"/><circle cx="76.11" cy="84.25" r="0.35"/><circle cx="80.37" cy="88.30" r="0.35"/><circle cx="79.02" cy="74.25" r="0.35"/><circle cx="75.39" cy="80.80" r="0.35"/><circle cx="74.06" cy="88.56" r="0.35"/><circle cx="80.52" cy="83.99" r="0.35"/><circle cx="73.90" cy="86.57" r="0.35"/><circle cx="81.31" cy="75.01" r="0.35"/><circle cx="81.37" cy="78.93" r="0.35"/></g>
<path d="M75.1,69.5 C74.2,74 73,79 73.2,83.8 C73.6,88 75.5,90.6 78.5,90.8 C81.5,90.8 82.8,88.5 82.8,84 C82.8,78 82.2,72.5 80.5,68" fill="none" stroke="#3a3a3a" stroke-width="0.9"/>
<path d="M72.5,66 C70.5,72 69.5,79 70.5,85 C71.5,90 74.5,92.3 79,92.3" fill="none" stroke="#555" stroke-width="0.7"/>
<ellipse cx="78.2" cy="86.6" rx="1.3" ry="1.7" fill="#3d3d3d"/>
<path d="M58,58 C62,60 66,61.5 70,66 M56.5,61 C61,63 65,65 69,70" fill="none" stroke="#666" stroke-width="0.55"/>
<g transform="translate(43.2,88.4) rotate(-40)"><ellipse rx="8.3" ry="4.1" fill="#d6d6d6" stroke="#2a2a2a" stroke-width="1.4"/><ellipse rx="5" ry="2.2" fill="#f2f2f2" stroke="#666" stroke-width="0.6"/><ellipse cx="0.6" rx="2.2" ry="0.9" fill="none" stroke="#999" stroke-width="0.4"/></g>
<circle cx="18.8" cy="84" r="0.5" fill="#555"/>
<circle cx="18.8" cy="64" r="0.5" fill="#555"/>
<circle cx="19" cy="103" r="0.5" fill="#555"/>
<circle cx="33" cy="112.3" r="0.5" fill="#555"/>
<circle cx="45" cy="112.4" r="0.5" fill="#555"/>
<circle cx="47" cy="112.4" r="0.5" fill="#555"/>
<defs><linearGradient id="rb" x1="0" y1="0" x2="0" y2="1"><stop offset="0" stop-color="#c4bfb9"/><stop offset="0.55" stop-color="#938e88"/><stop offset="1" stop-color="#6a6661"/></linearGradient></defs>
<g fill="#3a3a3a" opacity="0.8"><circle cx="52.83" cy="213.35" r="0.38"/><circle cx="69.35" cy="210.44" r="0.38"/><circle cx="54.77" cy="214.21" r="0.38"/><circle cx="43.46" cy="211.87" r="0.38"/><circle cx="59.05" cy="220.58" r="0.38"/><circle cx="40.17" cy="221.10" r="0.38"/><circle cx="59.89" cy="215.08" r="0.38"/><circle cx="43.66" cy="203.50" r="0.38"/><circle cx="52.42" cy="222.12" r="0.38"/><circle cx="55.17" cy="215.85" r="0.38"/><circle cx="54.49" cy="216.54" r="0.38"/><circle cx="53.01" cy="204.62" r="0.38"/><circle cx="66.41" cy="217.94" r="0.38"/><circle cx="48.03" cy="203.12" r="0.38"/><circle cx="47.12" cy="198.18" r="0.38"/><circle cx="63.82" cy="208.41" r="0.38"/><circle cx="66.63" cy="207.98" r="0.38"/><circle cx="70.53" cy="222.27" r="0.38"/><circle cx="68.86" cy="210.57" r="0.38"/><circle cx="39.56" cy="215.51" r="0.38"/><circle cx="70.74" cy="219.50" r="0.38"/><circle cx="56.58" cy="209.87" r="0.38"/><circle cx="43.67" cy="218.69" r="0.38"/><circle cx="41.58" cy="215.96" r="0.38"/><circle cx="41.08" cy="209.04" r="0.38"/><circle cx="44.45" cy="204.36" r="0.38"/><circle cx="70.98" cy="220.91" r="0.38"/><circle cx="47.65" cy="223.43" r="0.38"/><circle cx="44.37" cy="208.22" r="0.38"/><circle cx="66.90" cy="215.90" r="0.38"/><circle cx="44.46" cy="204.01" r="0.38"/><circle cx="64.04" cy="206.20" r="0.38"/><circle cx="47.37" cy="198.28" r="0.38"/><circle cx="40.15" cy="214.06" r="0.38"/><circle cx="45.51" cy="214.64" r="0.38"/><circle cx="50.01" cy="210.05" r="0.38"/><circle cx="57.11" cy="222.86" r="0.38"/><circle cx="43.40" cy="200.78" r="0.38"/><circle cx="68.79" cy="221.35" r="0.38"/><circle cx="45.73" cy="201.88" r="0.38"/><circle cx="43.88" cy="225.45" r="0.38"/><circle cx="67.88" cy="214.71" r="0.38"/><circle cx="51.75" cy="199.22" r="0.38"/><circle cx="45.34" cy="217.84" r="0.38"/><circle cx="45.99" cy="221.54" r="0.38"/><circle cx="57.88" cy="205.10" r="0.38"/><circle cx="43.14" cy="218.33" r="0.38"/><circle cx="56.58" cy="222.42" r="0.38"/><circle cx="58.50" cy="204.69" r="0.38"/><circle cx="52.60" cy="197.87" r="0.38"/><circle cx="43.17" cy="207.43" r="0.38"/><circle cx="49.68" cy="223.62" r="0.38"/><circle cx="61.19" cy="214.12" r="0.38"/><circle cx="37.63" cy="224.22" r="0.38"/><circle cx="53.88" cy="218.65" r="0.38"/><circle cx="39.63" cy="212.93" r="0.38"/><circle cx="62.80" cy="223.91" r="0.38"/><circle cx="62.80" cy="217.81" r="0.38"/><circle cx="64.76" cy="224.37" r="0.38"/><circle cx="49.31" cy="217.24" r="0.38"/><circle cx="68.53" cy="223.00" r="0.38"/><circle cx="51.60" cy="220.51" r="0.38"/><circle cx="67.22" cy="213.76" r="0.38"/><circle cx="58.87" cy="207.85" r="0.38"/><circle cx="57.39" cy="214.87" r="0.38"/><circle cx="39.81" cy="215.82" r="0.38"/><circle cx="62.49" cy="208.04" r="0.38"/><circle cx="62.73" cy="214.01" r="0.38"/><circle cx="52.42" cy="221.99" r="0.38"/><circle cx="39.93" cy="219.26" r="0.38"/><circle cx="38.04" cy="214.64" r="0.38"/><circle cx="53.83" cy="203.14" r="0.38"/><circle cx="61.44" cy="211.41" r="0.38"/><circle cx="58.51" cy="224.53" r="0.38"/><circle cx="45.95" cy="196.35" r="0.38"/><circle cx="47.54" cy="217.02" r="0.38"/><circle cx="44.09" cy="201.26" r="0.38"/><circle cx="68.70" cy="216.46" r="0.38"/><circle cx="52.47" cy="223.64" r="0.38"/><circle cx="48.44" cy="216.64" r="0.38"/><circle cx="43.95" cy="209.36" r="0.38"/><circle cx="65.21" cy="224.34" r="0.38"/><circle cx="67.81" cy="207.92" r="0.38"/><circle cx="57.41" cy="205.81" r="0.38"/><circle cx="41.77" cy="211.39" r="0.38"/><circle cx="66.30" cy="222.31" r="0.38"/><circle cx="46.69" cy="201.24" r="0.38"/><circle cx="52.77" cy="204.53" r="0.38"/><circle cx="44.49" cy="208.83" r="0.38"/><circle cx="58.90" cy="211.31" r="0.38"/><circle cx="48.04" cy="222.01" r="0.38"/><circle cx="61.80" cy="213.69" r="0.38"/><circle cx="47.82" cy="220.54" r="0.38"/><circle cx="59.02" cy="209.84" r="0.38"/><circle cx="59.05" cy="216.31" r="0.38"/><circle cx="53.63" cy="201.54" r="0.38"/><circle cx="46.53" cy="206.72" r="0.38"/><circle cx="61.41" cy="212.13" r="0.38"/><circle cx="58.51" cy="219.44" r="0.38"/><circle cx="50.77" cy="220.55" r="0.38"/><circle cx="69.64" cy="218.39" r="0.38"/><circle cx="41.55" cy="210.06" r="0.38"/><circle cx="58.89" cy="224.21" r="0.38"/><circle cx="50.19" cy="213.63" r="0.38"/><circle cx="67.78" cy="220.70" r="0.38"/><circle cx="70.05" cy="210.37" r="0.38"/><circle cx="62.27" cy="221.37" r="0.38"/><circle cx="59.46" cy="218.25" r="0.38"/><circle cx="44.47" cy="223.90" r="0.38"/><circle cx="55.79" cy="220.51" r="0.38"/><circle cx="48.21" cy="224.21" r="0.38"/><circle cx="39.90" cy="209.67" r="0.38"/><circle cx="56.26" cy="219.82" r="0.38"/><circle cx="48.73" cy="220.43" r="0.38"/><circle cx="55.08" cy="218.43" r="0.38"/><circle cx="66.40" cy="217.37" r="0.38"/><circle cx="70.10" cy="211.27" r="0.38"/><circle cx="44.75" cy="212.33" r="0.38"/><circle cx="47.16" cy="218.59" r="0.38"/><circle cx="59.36" cy="212.21" r="0.38"/><circle cx="66.53" cy="213.36" r="0.38"/><circle cx="47.91" cy="207.82" r="0.38"/><circle cx="66.58" cy="223.92" r="0.38"/><circle cx="44.29" cy="222.37" r="0.38"/><circle cx="57.05" cy="202.23" r="0.38"/><circle cx="55.76" cy="211.60" r="0.38"/><circle cx="51.02" cy="220.83" r="0.38"/><circle cx="56.70" cy="211.22" r="0.38"/><circle cx="55.86" cy="208.83" r="0.38"/><circle cx="46.42" cy="210.67" r="0.38"/><circle cx="41.44" cy="209.44" r="0.38"/><circle cx="65.55" cy="223.92" r="0.38"/><circle cx="53.68" cy="205.83" r="0.38"/><circle cx="43.70" cy="215.15" r="0.38"/><circle cx="43.79" cy="203.05" r="0.38"/><circle cx="61.05" cy="205.98" r="0.38"/><circle cx="49.44" cy="215.21" r="0.38"/><circle cx="40.67" cy="218.66" r="0.38"/><circle cx="41.30" cy="211.82" r="0.38"/><circle cx="45.77" cy="202.13" r="0.38"/><circle cx="55.56" cy="209.54" r="0.38"/><circle cx="50.15" cy="208.82" r="0.38"/><circle cx="55.53" cy="200.95" r="0.38"/><circle cx="44.15" cy="215.57" r="0.38"/><circle cx="59.35" cy="212.42" r="0.38"/><circle cx="66.79" cy="214.96" r="0.38"/><circle cx="62.93" cy="221.13" r="0.38"/><circle cx="48.02" cy="224.61" r="0.38"/><circle cx="45.38" cy="218.52" r="0.38"/><circle cx="46.08" cy="199.01" r="0.38"/><circle cx="66.13" cy="209.07" r="0.38"/><circle cx="51.10" cy="217.24" r="0.38"/><circle cx="60.88" cy="224.25" r="0.38"/><circle cx="54.70" cy="219.50" r="0.38"/><circle cx="54.60" cy="217.26" r="0.38"/><circle cx="43.62" cy="198.19" r="0.38"/><circle cx="56.31" cy="211.96" r="0.38"/><circle cx="43.46" cy="202.32" r="0.38"/><circle cx="53.17" cy="219.71" r="0.38"/><circle cx="48.44" cy="210.48" r="0.38"/><circle cx="55.04" cy="209.33" r="0.38"/><circle cx="61.54" cy="222.17" r="0.38"/><circle cx="43.34" cy="210.07" r="0.38"/><circle cx="62.88" cy="208.56" r="0.38"/><circle cx="43.83" cy="201.12" r="0.38"/><circle cx="68.26" cy="220.85" r="0.38"/><circle cx="61.66" cy="222.68" r="0.38"/><circle cx="59.03" cy="208.54" r="0.38"/><circle cx="57.99" cy="211.63" r="0.38"/><circle cx="71.39" cy="220.95" r="0.38"/><circle cx="46.04" cy="224.25" r="0.38"/><circle cx="63.06" cy="220.12" r="0.38"/><circle cx="65.51" cy="208.57" r="0.38"/><circle cx="68.38" cy="223.28" r="0.38"/><circle cx="61.32" cy="219.79" r="0.38"/><circle cx="63.78" cy="208.58" r="0.38"/><circle cx="48.96" cy="210.53" r="0.38"/><circle cx="59.35" cy="215.34" r="0.38"/><circle cx="45.12" cy="225.28" r="0.38"/><circle cx="60.31" cy="206.47" r="0.38"/><circle cx="60.09" cy="213.66" r="0.38"/><circle cx="55.66" cy="208.08" r="0.38"/><circle cx="61.54" cy="219.61" r="0.38"/><circle cx="58.54" cy="218.90" r="0.38"/><circle cx="45.98" cy="208.45" r="0.38"/><circle cx="50.15" cy="199.05" r="0.38"/><circle cx="45.78" cy="224.07" r="0.38"/><circle cx="56.25" cy="211.74" r="0.38"/><circle cx="57.91" cy="219.54" r="0.38"/><circle cx="42.60" cy="210.62" r="0.38"/><circle cx="42.92" cy="211.36" r="0.38"/><circle cx="55.44" cy="214.53" r="0.38"/><circle cx="49.80" cy="204.86" r="0.38"/><circle cx="59.93" cy="213.38" r="0.38"/><circle cx="46.92" cy="218.21" r="0.38"/><circle cx="47.36" cy="196.43" r="0.38"/><circle cx="45.58" cy="197.33" r="0.38"/><circle cx="42.48" cy="219.39" r="0.38"/><circle cx="50.65" cy="223.82" r="0.38"/><circle cx="39.57" cy="224.07" r="0.38"/><circle cx="52.03" cy="210.81" r="0.38"/><circle cx="55.32" cy="225.06" r="0.38"/><circle cx="62.30" cy="210.52" r="0.38"/><circle cx="71.26" cy="221.32" r="0.38"/><circle cx="58.85" cy="210.13" r="0.38"/><circle cx="44.13" cy="197.61" r="0.38"/><circle cx="52.50" cy="216.70" r="0.38"/><circle cx="52.94" cy="204.13" r="0.38"/><circle cx="57.38" cy="209.01" r="0.38"/><circle cx="64.23" cy="212.45" r="0.38"/><circle cx="40.99" cy="223.67" r="0.38"/><circle cx="64.45" cy="215.37" r="0.38"/><circle cx="49.57" cy="204.42" r="0.38"/><circle cx="60.98" cy="213.51" r="0.38"/><circle cx="57.71" cy="215.63" r="0.38"/><circle cx="45.71" cy="226.37" r="0.38"/><circle cx="46.48" cy="209.18" r="0.38"/><circle cx="40.03" cy="216.96" r="0.38"/><circle cx="56.27" cy="215.56" r="0.38"/><circle cx="50.06" cy="210.84" r="0.38"/><circle cx="44.37" cy="206.65" r="0.38"/><circle cx="63.07" cy="222.00" r="0.38"/><circle cx="65.32" cy="215.34" r="0.38"/><circle cx="51.85" cy="204.00" r="0.38"/><circle cx="65.35" cy="207.44" r="0.38"/><circle cx="48.39" cy="213.01" r="0.38"/><circle cx="63.11" cy="224.55" r="0.38"/><circle cx="51.97" cy="207.45" r="0.38"/><circle cx="40.40" cy="223.13" r="0.38"/><circle cx="56.75" cy="211.03" r="0.38"/></g>
<g fill="#333" opacity="0.85"><circle cx="60.56" cy="211.68" r="0.38"/><circle cx="46.40" cy="218.58" r="0.38"/><circle cx="42.45" cy="211.77" r="0.38"/><circle cx="61.75" cy="219.19" r="0.38"/><circle cx="48.49" cy="208.72" r="0.38"/><circle cx="50.73" cy="219.79" r="0.38"/><circle cx="50.99" cy="208.23" r="0.38"/><circle cx="61.28" cy="216.82" r="0.38"/><circle cx="67.40" cy="214.32" r="0.38"/><circle cx="64.09" cy="211.79" r="0.38"/><circle cx="49.53" cy="213.59" r="0.38"/><circle cx="68.04" cy="223.00" r="0.38"/><circle cx="47.45" cy="212.87" r="0.38"/><circle cx="50.97" cy="212.90" r="0.38"/><circle cx="51.87" cy="213.36" r="0.38"/><circle cx="45.85" cy="216.71" r="0.38"/><circle cx="63.91" cy="216.27" r="0.38"/><circle cx="65.09" cy="216.69" r="0.38"/><circle cx="45.30" cy="220.42" r="0.38"/><circle cx="66.43" cy="211.35" r="0.38"/><circle cx="56.32" cy="216.78" r="0.38"/><circle cx="68.99" cy="218.37" r="0.38"/><circle cx="56.40" cy="220.97" r="0.38"/><circle cx="62.11" cy="223.08" r="0.38"/><circle cx="42.54" cy="218.05" r="0.38"/><circle cx="44.32" cy="220.17" r="0.38"/><circle cx="59.47" cy="210.66" r="0.38"/><circle cx="46.61" cy="220.54" r="0.38"/><circle cx="55.65" cy="220.53" r="0.38"/><circle cx="51.83" cy="212.42" r="0.38"/><circle cx="69.05" cy="218.78" r="0.38"/><circle cx="54.81" cy="216.21" r="0.38"/><circle cx="61.63" cy="219.45" r="0.38"/><circle cx="67.45" cy="213.80" r="0.38"/><circle cx="64.79" cy="218.67" r="0.38"/><circle cx="65.61" cy="221.31" r="0.38"/><circle cx="65.01" cy="222.88" r="0.38"/><circle cx="68.73" cy="218.17" r="0.38"/><circle cx="55.72" cy="219.49" r="0.38"/><circle cx="64.07" cy="214.01" r="0.38"/><circle cx="52.61" cy="208.78" r="0.38"/><circle cx="51.27" cy="209.19" r="0.38"/><circle cx="46.13" cy="214.07" r="0.38"/><circle cx="48.76" cy="224.43" r="0.38"/><circle cx="41.78" cy="211.86" r="0.38"/><circle cx="43.44" cy="218.31" r="0.38"/><circle cx="63.28" cy="209.41" r="0.38"/><circle cx="41.87" cy="214.72" r="0.38"/><circle cx="57.52" cy="223.28" r="0.38"/><circle cx="45.54" cy="210.13" r="0.38"/><circle cx="47.06" cy="219.63" r="0.38"/><circle cx="57.84" cy="210.26" r="0.38"/><circle cx="45.55" cy="211.34" r="0.38"/><circle cx="45.18" cy="220.39" r="0.38"/><circle cx="49.35" cy="216.42" r="0.38"/><circle cx="64.51" cy="215.11" r="0.38"/><circle cx="47.81" cy="222.86" r="0.38"/><circle cx="67.43" cy="212.50" r="0.38"/><circle cx="56.42" cy="224.18" r="0.38"/><circle cx="54.48" cy="210.20" r="0.38"/><circle cx="64.04" cy="213.31" r="0.38"/><circle cx="55.83" cy="215.80" r="0.38"/><circle cx="59.73" cy="210.51" r="0.38"/><circle cx="51.15" cy="221.14" r="0.38"/><circle cx="61.40" cy="217.52" r="0.38"/><circle cx="44.72" cy="208.98" r="0.38"/><circle cx="49.65" cy="210.93" r="0.38"/><circle cx="66.08" cy="215.81" r="0.38"/><circle cx="59.11" cy="224.87" r="0.38"/><circle cx="48.00" cy="216.16" r="0.38"/><circle cx="44.52" cy="220.64" r="0.38"/><circle cx="65.39" cy="221.62" r="0.38"/><circle cx="42.47" cy="211.13" r="0.38"/><circle cx="54.40" cy="214.90" r="0.38"/><circle cx="68.66" cy="217.15" r="0.38"/><circle cx="65.72" cy="211.77" r="0.38"/><circle cx="63.68" cy="213.92" r="0.38"/><circle cx="64.79" cy="209.96" r="0.38"/><circle cx="56.30" cy="215.99" r="0.38"/><circle cx="44.73" cy="221.81" r="0.38"/><circle cx="49.34" cy="211.90" r="0.38"/><circle cx="42.28" cy="211.81" r="0.38"/><circle cx="54.02" cy="219.59" r="0.38"/><circle cx="50.79" cy="219.05" r="0.38"/><circle cx="43.17" cy="213.49" r="0.38"/><circle cx="53.85" cy="224.37" r="0.38"/><circle cx="64.89" cy="218.42" r="0.38"/><circle cx="61.30" cy="210.51" r="0.38"/><circle cx="56.92" cy="214.70" r="0.38"/><circle cx="63.98" cy="209.93" r="0.38"/><circle cx="58.48" cy="211.52" r="0.38"/><circle cx="51.28" cy="216.26" r="0.38"/><circle cx="48.95" cy="212.41" r="0.38"/><circle cx="51.77" cy="218.67" r="0.38"/><circle cx="47.69" cy="209.80" r="0.38"/><circle cx="61.94" cy="212.26" r="0.38"/><circle cx="68.35" cy="216.69" r="0.38"/><circle cx="61.71" cy="212.30" r="0.38"/><circle cx="44.22" cy="207.79" r="0.38"/><circle cx="60.33" cy="219.46" r="0.38"/><circle cx="45.40" cy="213.64" r="0.38"/><circle cx="65.11" cy="217.26" r="0.38"/><circle cx="42.70" cy="210.31" r="0.38"/><circle cx="44.71" cy="208.36" r="0.38"/><circle cx="52.21" cy="207.38" r="0.38"/><circle cx="67.62" cy="214.11" r="0.38"/><circle cx="55.35" cy="218.30" r="0.38"/><circle cx="63.01" cy="221.60" r="0.38"/><circle cx="51.58" cy="212.30" r="0.38"/><circle cx="52.36" cy="206.29" r="0.38"/><circle cx="52.02" cy="219.30" r="0.38"/><circle cx="69.46" cy="221.00" r="0.38"/><circle cx="59.81" cy="217.56" r="0.38"/><circle cx="50.27" cy="218.36" r="0.38"/><circle cx="43.19" cy="213.17" r="0.38"/><circle cx="55.28" cy="220.98" r="0.38"/><circle cx="64.76" cy="217.62" r="0.38"/><circle cx="44.75" cy="220.56" r="0.38"/><circle cx="67.09" cy="216.42" r="0.38"/><circle cx="50.58" cy="215.51" r="0.38"/><circle cx="44.25" cy="219.56" r="0.38"/><circle cx="69.60" cy="215.80" r="0.38"/><circle cx="61.46" cy="221.87" r="0.38"/><circle cx="58.81" cy="209.76" r="0.38"/><circle cx="42.50" cy="210.65" r="0.38"/><circle cx="57.29" cy="219.24" r="0.38"/><circle cx="49.88" cy="223.65" r="0.38"/><circle cx="50.84" cy="214.80" r="0.38"/><circle cx="44.07" cy="223.18" r="0.38"/><circle cx="56.30" cy="216.65" r="0.38"/><circle cx="56.81" cy="211.02" r="0.38"/><circle cx="64.53" cy="217.43" r="0.38"/><circle cx="43.68" cy="221.67" r="0.38"/><circle cx="48.66" cy="223.04" r="0.38"/><circle cx="47.23" cy="216.90" r="0.38"/><circle cx="64.92" cy="209.53" r="0.38"/><circle cx="56.44" cy="207.45" r="0.38"/><circle cx="59.75" cy="211.85" r="0.38"/><circle cx="60.14" cy="220.02" r="0.38"/><circle cx="51.45" cy="217.25" r="0.38"/><circle cx="45.99" cy="214.89" r="0.38"/><circle cx="44.29" cy="213.34" r="0.38"/><circle cx="57.09" cy="209.30" r="0.38"/><circle cx="55.59" cy="211.01" r="0.38"/><circle cx="57.04" cy="212.31" r="0.38"/><circle cx="60.13" cy="208.75" r="0.38"/><circle cx="68.78" cy="217.40" r="0.38"/><circle cx="54.10" cy="213.82" r="0.38"/><circle cx="58.71" cy="219.10" r="0.38"/><circle cx="62.74" cy="220.28" r="0.38"/><circle cx="54.57" cy="224.90" r="0.38"/><circle cx="65.15" cy="222.25" r="0.38"/><circle cx="52.27" cy="214.25" r="0.38"/><circle cx="56.98" cy="223.20" r="0.38"/><circle cx="55.78" cy="215.98" r="0.38"/><circle cx="52.97" cy="223.18" r="0.38"/><circle cx="49.62" cy="207.04" r="0.38"/><circle cx="61.77" cy="223.10" r="0.38"/><circle cx="61.96" cy="217.35" r="0.38"/><circle cx="62.56" cy="211.79" r="0.38"/><circle cx="43.73" cy="214.49" r="0.38"/><circle cx="55.08" cy="213.54" r="0.38"/><circle cx="41.56" cy="219.20" r="0.38"/><circle cx="55.79" cy="210.54" r="0.38"/><circle cx="49.19" cy="213.52" r="0.38"/><circle cx="47.08" cy="207.30" r="0.38"/><circle cx="59.97" cy="222.46" r="0.38"/><circle cx="52.64" cy="221.30" r="0.38"/><circle cx="46.65" cy="220.19" r="0.38"/><circle cx="57.00" cy="223.16" r="0.38"/></g>
<g fill="#666" opacity="0.75"><circle cx="76.99" cy="203.85" r="0.36"/><circle cx="77.24" cy="198.75" r="0.36"/><circle cx="78.44" cy="193.99" r="0.36"/><circle cx="79.25" cy="189.25" r="0.36"/><circle cx="84.95" cy="204.31" r="0.36"/><circle cx="79.97" cy="195.13" r="0.36"/><circle cx="81.86" cy="188.92" r="0.36"/><circle cx="76.31" cy="205.97" r="0.36"/><circle cx="79.08" cy="197.97" r="0.36"/><circle cx="80.73" cy="192.13" r="0.36"/><circle cx="78.95" cy="206.45" r="0.36"/><circle cx="84.38" cy="195.08" r="0.36"/><circle cx="80.72" cy="191.44" r="0.36"/><circle cx="78.02" cy="200.65" r="0.36"/></g>
<g fill="#666" opacity="0.7"><circle cx="46.30" cy="197.80" r="0.36"/><circle cx="44.60" cy="190.06" r="0.36"/><circle cx="52.71" cy="192.13" r="0.36"/><circle cx="54.80" cy="197.70" r="0.36"/><circle cx="52.56" cy="190.35" r="0.36"/><circle cx="52.35" cy="198.38" r="0.36"/><circle cx="49.34" cy="189.79" r="0.36"/><circle cx="46.68" cy="192.07" r="0.36"/><circle cx="52.53" cy="190.96" r="0.36"/><circle cx="46.17" cy="191.35" r="0.36"/></g>
<g transform="translate(44.6,219.6) rotate(-33)"><ellipse rx="8.6" ry="4.3" fill="#cfcfcf" stroke="#4a4a4a" stroke-width="0.8"/><ellipse cx="-3.6" cy="0.3" rx="4.8" ry="3.4" fill="#6a6a6a"/><ellipse cx="-4.4" cy="0.5" rx="2.8" ry="2" fill="#474747"/><ellipse cx="2.8" cy="-0.3" rx="3.2" ry="2.2" fill="#f2f2f2" stroke="#444" stroke-width="0.6"/><ellipse cx="2.8" cy="-0.3" rx="1.4" ry="0.9" fill="none" stroke="#666" stroke-width="0.4"/></g>
<path d="M68.8,220.5 C68.6,216.5 71,213.2 74.5,212 C76.5,210.6 79,210.8 80.5,211.3 C83.5,210.6 86.8,212.6 87.9,216 C88.8,219.5 87.4,222.8 83,223.7 C78,224.4 73,224.2 70.5,223.5 C69.4,222.9 68.9,221.8 68.8,220.5 Z" fill="url(#rb)" stroke="#3a3a3a" stroke-width="0.8"/>
<path d="M71.2,220.8 C71.2,217.3 74,214.6 77.5,214 C81,213.6 84.8,215.3 85.8,218 C86.4,220.6 84.2,222.6 80,222.8 C76,223 72.2,222.6 71.2,220.8 Z" fill="none" stroke="#2f2f2f" stroke-width="0.6"/>
<path d="M73.5,220.4 C74,218.3 76.3,216.8 79,216.7 C81.8,216.7 83.8,218.2 83.8,219.8 C83.8,221.3 81.5,222 78.8,222 C76,222 73.8,221.6 73.5,220.4 Z" fill="#55514d" stroke="#3a3a3a" stroke-width="0.5"/>
<path d="M72,215.5 H85.5 M70,218.2 H87" stroke="#b8b4ae" stroke-width="0.35" opacity="0.7"/>
<g fill="#555" opacity="0.8"><circle cx="74.20" cy="210.79" r="0.45"/><circle cx="76.35" cy="209.96" r="0.45"/><circle cx="79.46" cy="209.59" r="0.45"/><circle cx="81.17" cy="209.70" r="0.45"/><circle cx="84.51" cy="210.77" r="0.45"/><circle cx="72.23" cy="211.44" r="0.45"/><circle cx="85.51" cy="212.28" r="0.45"/><circle cx="77.93" cy="208.63" r="0.45"/><circle cx="80.54" cy="207.95" r="0.45"/><circle cx="75.62" cy="208.68" r="0.45"/><circle cx="73.70" cy="210.80" r="0.45"/><circle cx="76.00" cy="209.59" r="0.45"/><circle cx="79.31" cy="209.25" r="0.45"/><circle cx="81.23" cy="209.95" r="0.45"/><circle cx="83.62" cy="211.00" r="0.45"/><circle cx="73.09" cy="210.83" r="0.45"/><circle cx="85.95" cy="212.05" r="0.45"/><circle cx="77.86" cy="209.03" r="0.45"/><circle cx="80.50" cy="208.08" r="0.45"/><circle cx="75.57" cy="209.04" r="0.45"/></g>
<g fill="#3a3a3a" opacity="0.8"><circle cx="59.39" cy="219.19" r="0.36"/><circle cx="65.74" cy="216.78" r="0.36"/><circle cx="61.58" cy="222.37" r="0.36"/><circle cx="64.26" cy="216.85" r="0.36"/><circle cx="68.27" cy="210.96" r="0.36"/><circle cx="65.69" cy="210.81" r="0.36"/><circle cx="63.12" cy="212.00" r="0.36"/><circle cx="60.61" cy="221.14" r="0.36"/><circle cx="65.80" cy="221.45" r="0.36"/><circle cx="57.54" cy="216.32" r="0.36"/><circle cx="57.32" cy="217.86" r="0.36"/><circle cx="61.48" cy="208.60" r="0.36"/><circle cx="62.95" cy="220.15" r="0.36"/><circle cx="62.59" cy="222.84" r="0.36"/><circle cx="56.70" cy="210.58" r="0.36"/><circle cx="54.27" cy="216.43" r="0.36"/><circle cx="60.52" cy="215.51" r="0.36"/><circle cx="57.94" cy="221.57" r="0.36"/><circle cx="55.09" cy="223.42" r="0.36"/><circle cx="62.53" cy="217.24" r="0.36"/><circle cx="65.87" cy="212.05" r="0.36"/><circle cx="56.19" cy="213.29" r="0.36"/><circle cx="54.63" cy="213.34" r="0.36"/><circle cx="63.32" cy="216.93" r="0.36"/><circle cx="57.97" cy="218.01" r="0.36"/><circle cx="55.33" cy="221.95" r="0.36"/><circle cx="56.57" cy="212.33" r="0.36"/><circle cx="56.40" cy="219.74" r="0.36"/><circle cx="66.46" cy="221.37" r="0.36"/><circle cx="54.92" cy="214.98" r="0.36"/><circle cx="59.47" cy="211.68" r="0.36"/><circle cx="61.34" cy="220.94" r="0.36"/><circle cx="60.83" cy="220.66" r="0.36"/><circle cx="54.59" cy="212.09" r="0.36"/><circle cx="59.89" cy="213.07" r="0.36"/><circle cx="60.37" cy="209.30" r="0.36"/><circle cx="65.45" cy="220.48" r="0.36"/><circle cx="57.45" cy="212.30" r="0.36"/><circle cx="62.28" cy="212.11" r="0.36"/><circle cx="60.92" cy="223.85" r="0.36"/><circle cx="59.46" cy="213.73" r="0.36"/><circle cx="68.72" cy="218.39" r="0.36"/><circle cx="54.60" cy="214.85" r="0.36"/><circle cx="59.15" cy="219.81" r="0.36"/><circle cx="66.97" cy="218.04" r="0.36"/><circle cx="67.30" cy="215.86" r="0.36"/><circle cx="59.89" cy="222.33" r="0.36"/><circle cx="59.72" cy="221.28" r="0.36"/><circle cx="57.23" cy="213.91" r="0.36"/><circle cx="56.75" cy="217.34" r="0.36"/><circle cx="56.46" cy="211.46" r="0.36"/><circle cx="57.22" cy="215.95" r="0.36"/><circle cx="58.63" cy="215.60" r="0.36"/><circle cx="68.90" cy="219.55" r="0.36"/><circle cx="66.94" cy="211.48" r="0.36"/><circle cx="59.74" cy="209.24" r="0.36"/><circle cx="64.37" cy="214.17" r="0.36"/><circle cx="56.73" cy="212.46" r="0.36"/><circle cx="59.89" cy="223.70" r="0.36"/><circle cx="64.73" cy="212.57" r="0.36"/><circle cx="59.42" cy="210.61" r="0.36"/><circle cx="68.05" cy="214.12" r="0.36"/><circle cx="65.49" cy="220.30" r="0.36"/><circle cx="58.83" cy="214.53" r="0.36"/><circle cx="55.25" cy="223.00" r="0.36"/><circle cx="58.88" cy="221.10" r="0.36"/><circle cx="61.79" cy="208.93" r="0.36"/><circle cx="59.91" cy="212.05" r="0.36"/><circle cx="54.61" cy="210.56" r="0.36"/><circle cx="58.68" cy="215.21" r="0.36"/><circle cx="62.16" cy="210.31" r="0.36"/><circle cx="64.60" cy="212.43" r="0.36"/><circle cx="64.88" cy="219.32" r="0.36"/><circle cx="56.21" cy="211.48" r="0.36"/><circle cx="58.21" cy="220.12" r="0.36"/><circle cx="60.08" cy="214.57" r="0.36"/><circle cx="66.99" cy="211.84" r="0.36"/><circle cx="58.38" cy="213.86" r="0.36"/><circle cx="54.37" cy="218.72" r="0.36"/><circle cx="62.49" cy="221.75" r="0.36"/><circle cx="68.63" cy="213.07" r="0.36"/><circle cx="64.06" cy="223.62" r="0.36"/><circle cx="57.24" cy="219.72" r="0.36"/><circle cx="67.03" cy="211.99" r="0.36"/><circle cx="63.49" cy="209.53" r="0.36"/><circle cx="60.42" cy="214.67" r="0.36"/><circle cx="54.90" cy="214.52" r="0.36"/><circle cx="58.92" cy="216.45" r="0.36"/><circle cx="58.20" cy="210.70" r="0.36"/><circle cx="60.04" cy="216.08" r="0.36"/><circle cx="56.50" cy="219.31" r="0.36"/><circle cx="57.60" cy="209.58" r="0.36"/><circle cx="59.13" cy="215.18" r="0.36"/><circle cx="56.26" cy="217.90" r="0.36"/><circle cx="64.52" cy="217.40" r="0.36"/><circle cx="59.87" cy="214.19" r="0.36"/><circle cx="54.94" cy="214.87" r="0.36"/><circle cx="54.82" cy="216.42" r="0.36"/><circle cx="62.79" cy="215.97" r="0.36"/><circle cx="58.88" cy="212.31" r="0.36"/><circle cx="54.35" cy="213.90" r="0.36"/><circle cx="67.38" cy="217.62" r="0.36"/><circle cx="57.93" cy="219.36" r="0.36"/><circle cx="56.79" cy="215.98" r="0.36"/><circle cx="63.23" cy="224.23" r="0.36"/><circle cx="59.44" cy="217.79" r="0.36"/><circle cx="68.14" cy="221.12" r="0.36"/><circle cx="63.41" cy="218.55" r="0.36"/><circle cx="60.16" cy="215.06" r="0.36"/><circle cx="58.14" cy="222.10" r="0.36"/><circle cx="67.20" cy="214.49" r="0.36"/><circle cx="56.04" cy="216.62" r="0.36"/><circle cx="58.63" cy="214.13" r="0.36"/><circle cx="56.89" cy="211.88" r="0.36"/><circle cx="64.20" cy="211.99" r="0.36"/><circle cx="54.01" cy="217.24" r="0.36"/><circle cx="59.91" cy="212.07" r="0.36"/><circle cx="61.40" cy="219.05" r="0.36"/><circle cx="62.22" cy="218.61" r="0.36"/><circle cx="62.41" cy="222.13" r="0.36"/></g>
<circle cx="18.8" cy="215" r="0.5" fill="#555"/>
<circle cx="18.8" cy="235" r="0.5" fill="#555"/>
<circle cx="33" cy="244.3" r="0.5" fill="#555"/>
<circle cx="35" cy="244.3" r="0.5" fill="#555"/>
<circle cx="45" cy="244.3" r="0.5" fill="#555"/>
<rect x="17.5" y="21.5" width="92.1" height="91.9" fill="none" stroke="#c8c8c8" stroke-width="1"/>
<rect x="18.5" y="153.5" width="91.7" height="91.5" fill="none" stroke="#c8c8c8" stroke-width="1"/>
<text x="64.75" y="14.6" font-size="10.8" font-weight="bold" text-anchor="middle" fill="#111" textLength="14.3" lengthAdjust="spacingAndGlyphs">HC</text>
<path d="M18,18.5 H110.5" stroke="#1a1a1a" stroke-width="1"/>
<text x="64" y="137" font-size="11" font-weight="bold" text-anchor="middle" fill="#111" >COVID19</text>
<path d="M18,140.5 H110.5" stroke="#111" stroke-width="1"/>
<text x="64.1" y="148.4" font-size="6.5" font-weight="normal" text-anchor="middle" fill="#a83c3a" font-style="italic">Patient #8</text>
<text x="19.3" y="29" font-size="6.4" font-weight="normal" text-anchor="start" fill="#3d4a84" stroke="#3d4a84" stroke-width="0.15">10.7</text>
<text x="107" y="29" font-size="6.4" font-weight="normal" text-anchor="end" fill="#3d4a84" stroke="#3d4a84" stroke-width="0.15">15.7</text>
<text x="19" y="108.7" font-size="6.4" font-weight="normal" text-anchor="start" fill="#3d4a84" stroke="#3d4a84" stroke-width="0.15">9.68</text>
<text x="106.5" y="108.9" font-size="6.4" font-weight="normal" text-anchor="end" fill="#3d4a84" stroke="#3d4a84" stroke-width="0.15">63.8</text>
<text x="19.3" y="160.8" font-size="6.4" font-weight="normal" text-anchor="start" fill="#3d4a84" stroke="#3d4a84" stroke-width="0.15">0.20</text>
<text x="106.5" y="160.8" font-size="6.4" font-weight="normal" text-anchor="end" fill="#3d4a84" stroke="#3d4a84" stroke-width="0.15">0.15</text>
<text x="19.7" y="240.5" font-size="6.4" font-weight="normal" text-anchor="start" fill="#3d4a84" stroke="#3d4a84" stroke-width="0.15">19.5</text>
<text x="106.5" y="240.7" font-size="6.4" font-weight="normal" text-anchor="end" fill="#3d4a84" stroke="#3d4a84" stroke-width="0.15">80.2</text>
<path d="M8.5,26 V112.6 M8.5,149.3 V243" stroke="#111" stroke-width="1"/>
<path d="M8.5,20.6 L11.6,27.9 L8.5,26.6 L5.4,27.9 Z" fill="#111" stroke="#111" stroke-width="0.4" stroke-linejoin="round"/>
<text transform="translate(11.6,130) rotate(-90)" font-size="10.8" font-weight="bold" text-anchor="middle" fill="#111">CD16</text>
<path d="M18.7,257.6 H40.7 M82.1,257.6 H107" stroke="#111" stroke-width="1"/>
<path d="M110.9,257.6 L104.6,260.5 L105.8,257.6 L104.6,254.7 Z" fill="#111" stroke="#111" stroke-width="0.4" stroke-linejoin="round"/>
<text x="61.5" y="262.8" font-size="10.8" font-weight="bold" text-anchor="middle" fill="#111" >CD14</text>
<path d="M163.75,18.5 V110.3 H224.7" stroke="#333" stroke-width="1.1" fill="none"/>
<path d="M160.15,110.30 H163.75" stroke="#333" stroke-width="1"/>
<text x="158.45" y="112.85" font-size="7" font-weight="normal" text-anchor="end" fill="#2e2e2e" stroke="#2e2e2e" stroke-width="0.22">0</text>
<path d="M160.15,92.04 H163.75" stroke="#333" stroke-width="1"/>
<text x="158.45" y="94.59" font-size="7" font-weight="normal" text-anchor="end" fill="#2e2e2e" stroke="#2e2e2e" stroke-width="0.22">5</text>
<path d="M160.15,73.78 H163.75" stroke="#333" stroke-width="1"/>
<text x="158.45" y="76.33" font-size="7" font-weight="normal" text-anchor="end" fill="#2e2e2e" stroke="#2e2e2e" stroke-width="0.22">10</text>
<path d="M160.15,55.52 H163.75" stroke="#333" stroke-width="1"/>
<text x="158.45" y="58.07" font-size="7" font-weight="normal" text-anchor="end" fill="#2e2e2e" stroke="#2e2e2e" stroke-width="0.22">15</text>
<path d="M160.15,37.26 H163.75" stroke="#333" stroke-width="1"/>
<text x="158.45" y="39.81" font-size="7" font-weight="normal" text-anchor="end" fill="#2e2e2e" stroke="#2e2e2e" stroke-width="0.22">20</text>
<path d="M160.15,19.00 H163.75" stroke="#333" stroke-width="1"/>
<text x="158.45" y="21.55" font-size="7" font-weight="normal" text-anchor="end" fill="#2e2e2e" stroke="#2e2e2e" stroke-width="0.22">25</text>
<path d="M181,110.3 V113.7" stroke="#333" stroke-width="1"/>
<path d="M207.5,110.3 V113.7" stroke="#333" stroke-width="1"/>
<text transform="translate(142.2,63.2) rotate(-90)" font-size="8.7" font-weight="bold" text-anchor="middle" fill="#111">CD14<tspan font-size="5" font-weight="normal" dy="-3">low</tspan><tspan dy="3">CD16</tspan><tspan font-size="5" font-weight="normal" dy="-3">+</tspan><tspan dy="3"> cells (%)</tspan></text>
<polygon points="186.70,10.65 187.51,12.29 189.32,12.55 188.01,13.82 188.32,15.62 186.70,14.78 185.08,15.62 185.39,13.82 184.08,12.55 185.89,12.29" fill="#111"/>
<polygon points="192.40,10.65 193.21,12.29 195.02,12.55 193.71,13.82 194.02,15.62 192.40,14.78 190.78,15.62 191.09,13.82 189.78,12.55 191.59,12.29" fill="#111"/>
<polygon points="198.10,10.65 198.91,12.29 200.72,12.55 199.41,13.82 199.72,15.62 198.10,14.78 196.48,15.62 196.79,13.82 195.48,12.55 197.29,12.29" fill="#111"/>
<polygon points="204.00,10.65 204.81,12.29 206.62,12.55 205.31,13.82 205.62,15.62 204.00,14.78 202.38,15.62 202.69,13.82 201.38,12.55 203.19,12.29" fill="#111"/>
<circle cx="181.25" cy="25.50" r="3.1" fill="#b6cbf3" stroke="#3d4c7c" stroke-width="1"/>
<circle cx="180.60" cy="36.75" r="3.1" fill="#b6cbf3" stroke="#3d4c7c" stroke-width="1"/>
<circle cx="182.25" cy="36.75" r="3.1" fill="#b6cbf3" stroke="#3d4c7c" stroke-width="1"/>
<circle cx="182.00" cy="47.40" r="3.1" fill="#b6cbf3" stroke="#3d4c7c" stroke-width="1"/>
<circle cx="180.40" cy="50.75" r="3.1" fill="#b6cbf3" stroke="#3d4c7c" stroke-width="1"/>
<circle cx="180.00" cy="56.10" r="3.1" fill="#b6cbf3" stroke="#3d4c7c" stroke-width="1"/>
<circle cx="182.90" cy="56.10" r="3.1" fill="#b6cbf3" stroke="#3d4c7c" stroke-width="1"/>
<circle cx="180.60" cy="66.75" r="3.1" fill="#b6cbf3" stroke="#3d4c7c" stroke-width="1"/>
<circle cx="180.60" cy="68.60" r="3.1" fill="#b6cbf3" stroke="#3d4c7c" stroke-width="1"/>
<circle cx="179.30" cy="74.90" r="3.1" fill="#b6cbf3" stroke="#3d4c7c" stroke-width="1"/>
<circle cx="182.90" cy="74.90" r="3.1" fill="#b6cbf3" stroke="#3d4c7c" stroke-width="1"/>
<circle cx="175.70" cy="75.80" r="3.1" fill="#b6cbf3" stroke="#3d4c7c" stroke-width="1"/>
<circle cx="186.90" cy="75.80" r="3.1" fill="#b6cbf3" stroke="#3d4c7c" stroke-width="1"/>
<circle cx="177.00" cy="80.30" r="3.1" fill="#b6cbf3" stroke="#3d4c7c" stroke-width="1"/>
<circle cx="181.50" cy="79.80" r="3.1" fill="#b6cbf3" stroke="#3d4c7c" stroke-width="1"/>
<circle cx="185.10" cy="80.30" r="3.1" fill="#b6cbf3" stroke="#3d4c7c" stroke-width="1"/>
<circle cx="182.00" cy="86.10" r="3.1" fill="#b6cbf3" stroke="#3d4c7c" stroke-width="1"/>
<circle cx="179.70" cy="90.60" r="3.1" fill="#b6cbf3" stroke="#3d4c7c" stroke-width="1"/>
<path d="M173.10,77.00 H189.50 M181.30,54.30 V79.50 M177.80,54.30 H184.80 M177.80,79.50 H184.80" stroke="#111" stroke-width="1" fill="none"/>
<rect x="204.40" y="26.50" width="6.2" height="6.2" fill="#f5ada2" stroke="#923c3c" stroke-width="0.95"/>
<rect x="204.40" y="47.30" width="6.2" height="6.2" fill="#f5ada2" stroke="#923c3c" stroke-width="0.95"/>
<rect x="204.90" y="65.70" width="6.2" height="6.2" fill="#f5ada2" stroke="#923c3c" stroke-width="0.95"/>
<rect x="203.90" y="67.90" width="6.2" height="6.2" fill="#f5ada2" stroke="#923c3c" stroke-width="0.95"/>
<rect x="203.80" y="72.15" width="6.2" height="6.2" fill="#f5ada2" stroke="#923c3c" stroke-width="0.95"/>
<rect x="203.80" y="76.50" width="6.2" height="6.2" fill="#f5ada2" stroke="#923c3c" stroke-width="0.95"/>
<rect x="203.80" y="79.65" width="6.2" height="6.2" fill="#f5ada2" stroke="#923c3c" stroke-width="0.95"/>
<rect x="204.40" y="82.80" width="6.2" height="6.2" fill="#f5ada2" stroke="#923c3c" stroke-width="0.95"/>
<rect x="205.00" y="85.30" width="6.2" height="6.2" fill="#f5ada2" stroke="#923c3c" stroke-width="0.95"/>
<rect x="201.90" y="87.80" width="6.2" height="6.2" fill="#f5ada2" stroke="#923c3c" stroke-width="0.95"/>
<rect x="206.90" y="87.80" width="6.2" height="6.2" fill="#f5ada2" stroke="#923c3c" stroke-width="0.95"/>
<rect x="199.40" y="90.90" width="6.2" height="6.2" fill="#f5ada2" stroke="#923c3c" stroke-width="0.95"/>
<rect x="208.15" y="90.90" width="6.2" height="6.2" fill="#f5ada2" stroke="#923c3c" stroke-width="0.95"/>
<rect x="203.80" y="92.15" width="6.2" height="6.2" fill="#f5ada2" stroke="#923c3c" stroke-width="0.95"/>
<rect x="199.40" y="94.65" width="6.2" height="6.2" fill="#f5ada2" stroke="#923c3c" stroke-width="0.95"/>
<rect x="208.15" y="95.30" width="6.2" height="6.2" fill="#f5ada2" stroke="#923c3c" stroke-width="0.95"/>
<rect x="198.15" y="99.65" width="6.2" height="6.2" fill="#f5ada2" stroke="#923c3c" stroke-width="0.95"/>
<rect x="201.90" y="100.90" width="6.2" height="6.2" fill="#f5ada2" stroke="#923c3c" stroke-width="0.95"/>
<rect x="209.40" y="100.90" width="6.2" height="6.2" fill="#f5ada2" stroke="#923c3c" stroke-width="0.95"/>
<rect x="204.40" y="102.80" width="6.2" height="6.2" fill="#f5ada2" stroke="#923c3c" stroke-width="0.95"/>
<rect x="199.40" y="104.00" width="6.2" height="6.2" fill="#f5ada2" stroke="#923c3c" stroke-width="0.95"/>
<rect x="208.15" y="104.65" width="6.2" height="6.2" fill="#f5ada2" stroke="#923c3c" stroke-width="0.95"/>
<rect x="201.90" y="106.50" width="6.2" height="6.2" fill="#f5ada2" stroke="#923c3c" stroke-width="0.95"/>
<rect x="205.65" y="107.15" width="6.2" height="6.2" fill="#f5ada2" stroke="#923c3c" stroke-width="0.95"/>
<path d="M198.70,99.40 H215.70 M207.20,92.10 V105.90 M203.20,92.10 H211.20 M203.20,105.90 H211.20" stroke="#111" stroke-width="1" fill="none"/>
<path d="M273.75,18.5 V110.3 H334" stroke="#333" stroke-width="1.1" fill="none"/>
<path d="M270.15,110.30 H273.75" stroke="#333" stroke-width="1"/>
<text x="268.45" y="112.85" font-size="7" font-weight="normal" text-anchor="end" fill="#2e2e2e" stroke="#2e2e2e" stroke-width="0.22">50</text>
<path d="M270.15,92.02 H273.75" stroke="#333" stroke-width="1"/>
<text x="268.45" y="94.57" font-size="7" font-weight="normal" text-anchor="end" fill="#2e2e2e" stroke="#2e2e2e" stroke-width="0.22">60</text>
<path d="M270.15,73.74 H273.75" stroke="#333" stroke-width="1"/>
<text x="268.45" y="76.29" font-size="7" font-weight="normal" text-anchor="end" fill="#2e2e2e" stroke="#2e2e2e" stroke-width="0.22">70</text>
<path d="M270.15,55.46 H273.75" stroke="#333" stroke-width="1"/>
<text x="268.45" y="58.01" font-size="7" font-weight="normal" text-anchor="end" fill="#2e2e2e" stroke="#2e2e2e" stroke-width="0.22">80</text>
<path d="M270.15,37.18 H273.75" stroke="#333" stroke-width="1"/>
<text x="268.45" y="39.73" font-size="7" font-weight="normal" text-anchor="end" fill="#2e2e2e" stroke="#2e2e2e" stroke-width="0.22">90</text>
<path d="M270.15,18.90 H273.75" stroke="#333" stroke-width="1"/>
<text x="268.45" y="21.45" font-size="7" font-weight="normal" text-anchor="end" fill="#2e2e2e" stroke="#2e2e2e" stroke-width="0.22">100</text>
<path d="M291.2,110.3 V113.7" stroke="#333" stroke-width="1"/>
<path d="M317,110.3 V113.7" stroke="#333" stroke-width="1"/>
<text transform="translate(250.8,63.4) rotate(-90)" font-size="8.7" font-weight="bold" text-anchor="middle" fill="#111">CD14<tspan font-size="5" font-weight="normal" dy="-3">high</tspan><tspan dy="3">CD16</tspan><tspan font-size="5" font-weight="normal" dy="-3">-</tspan><tspan dy="3"> cells (%)</tspan></text>
<polygon points="300.40,20.65 301.21,22.29 303.02,22.55 301.71,23.82 302.02,25.62 300.40,24.78 298.78,25.62 299.09,23.82 297.78,22.55 299.59,22.29" fill="#111"/>
<polygon points="306.30,20.65 307.11,22.29 308.92,22.55 307.61,23.82 307.92,25.62 306.30,24.78 304.68,25.62 304.99,23.82 303.68,22.55 305.49,22.29" fill="#111"/>
<polygon points="312.20,20.65 313.01,22.29 314.82,22.55 313.51,23.82 313.82,25.62 312.20,24.78 310.58,25.62 310.89,23.82 309.58,22.55 311.39,22.29" fill="#111"/>
<circle cx="285.30" cy="54.00" r="3.1" fill="#b6cbf3" stroke="#3d4c7c" stroke-width="1"/>
<circle cx="293.50" cy="53.10" r="3.1" fill="#b6cbf3" stroke="#3d4c7c" stroke-width="1"/>
<circle cx="288.60" cy="58.00" r="3.1" fill="#b6cbf3" stroke="#3d4c7c" stroke-width="1"/>
<circle cx="296.70" cy="58.00" r="3.1" fill="#b6cbf3" stroke="#3d4c7c" stroke-width="1"/>
<circle cx="292.70" cy="58.80" r="3.1" fill="#b6cbf3" stroke="#3d4c7c" stroke-width="1"/>
<circle cx="287.80" cy="65.40" r="3.1" fill="#b6cbf3" stroke="#3d4c7c" stroke-width="1"/>
<circle cx="285.30" cy="69.40" r="3.1" fill="#b6cbf3" stroke="#3d4c7c" stroke-width="1"/>
<circle cx="290.20" cy="71.00" r="3.1" fill="#b6cbf3" stroke="#3d4c7c" stroke-width="1"/>
<circle cx="295.10" cy="69.40" r="3.1" fill="#b6cbf3" stroke="#3d4c7c" stroke-width="1"/>
<circle cx="293.50" cy="74.30" r="3.1" fill="#b6cbf3" stroke="#3d4c7c" stroke-width="1"/>
<circle cx="294.30" cy="76.00" r="3.1" fill="#b6cbf3" stroke="#3d4c7c" stroke-width="1"/>
<circle cx="288.60" cy="80.00" r="3.1" fill="#b6cbf3" stroke="#3d4c7c" stroke-width="1"/>
<circle cx="293.50" cy="84.00" r="3.1" fill="#b6cbf3" stroke="#3d4c7c" stroke-width="1"/>
<circle cx="290.20" cy="85.70" r="3.1" fill="#b6cbf3" stroke="#3d4c7c" stroke-width="1"/>
<circle cx="296.70" cy="93.00" r="3.1" fill="#b6cbf3" stroke="#3d4c7c" stroke-width="1"/>
<circle cx="288.60" cy="97.10" r="3.1" fill="#b6cbf3" stroke="#3d4c7c" stroke-width="1"/>
<circle cx="293.50" cy="98.00" r="3.1" fill="#b6cbf3" stroke="#3d4c7c" stroke-width="1"/>
<circle cx="295.10" cy="101.20" r="3.1" fill="#b6cbf3" stroke="#3d4c7c" stroke-width="1"/>
<circle cx="288.60" cy="102.80" r="3.1" fill="#b6cbf3" stroke="#3d4c7c" stroke-width="1"/>
<path d="M282.00,74.30 H300.00 M291.00,62.90 V93.90 M287.00,62.90 H295.00 M287.00,93.90 H295.00" stroke="#111" stroke-width="1" fill="none"/>
<rect x="312.90" y="35.40" width="6.2" height="6.2" fill="#f5ada2" stroke="#923c3c" stroke-width="0.95"/>
<rect x="315.90" y="34.90" width="6.2" height="6.2" fill="#f5ada2" stroke="#923c3c" stroke-width="0.95"/>
<rect x="309.90" y="38.90" width="6.2" height="6.2" fill="#f5ada2" stroke="#923c3c" stroke-width="0.95"/>
<rect x="315.90" y="38.90" width="6.2" height="6.2" fill="#f5ada2" stroke="#923c3c" stroke-width="0.95"/>
<rect x="320.40" y="39.40" width="6.2" height="6.2" fill="#f5ada2" stroke="#923c3c" stroke-width="0.95"/>
<rect x="308.40" y="42.40" width="6.2" height="6.2" fill="#f5ada2" stroke="#923c3c" stroke-width="0.95"/>
<rect x="313.90" y="42.40" width="6.2" height="6.2" fill="#f5ada2" stroke="#923c3c" stroke-width="0.95"/>
<rect x="320.90" y="41.90" width="6.2" height="6.2" fill="#f5ada2" stroke="#923c3c" stroke-width="0.95"/>
<rect x="308.90" y="45.90" width="6.2" height="6.2" fill="#f5ada2" stroke="#923c3c" stroke-width="0.95"/>
<rect x="315.90" y="46.40" width="6.2" height="6.2" fill="#f5ada2" stroke="#923c3c" stroke-width="0.95"/>
<rect x="319.90" y="45.40" width="6.2" height="6.2" fill="#f5ada2" stroke="#923c3c" stroke-width="0.95"/>
<rect x="307.90" y="50.40" width="6.2" height="6.2" fill="#f5ada2" stroke="#923c3c" stroke-width="0.95"/>
<rect x="312.90" y="50.90" width="6.2" height="6.2" fill="#f5ada2" stroke="#923c3c" stroke-width="0.95"/>
<rect x="318.40" y="50.90" width="6.2" height="6.2" fill="#f5ada2" stroke="#923c3c" stroke-width="0.95"/>
<rect x="308.90" y="53.90" width="6.2" height="6.2" fill="#f5ada2" stroke="#923c3c" stroke-width="0.95"/>
<rect x="315.90" y="54.40" width="6.2" height="6.2" fill="#f5ada2" stroke="#923c3c" stroke-width="0.95"/>
<rect x="320.90" y="53.90" width="6.2" height="6.2" fill="#f5ada2" stroke="#923c3c" stroke-width="0.95"/>
<rect x="307.90" y="57.90" width="6.2" height="6.2" fill="#f5ada2" stroke="#923c3c" stroke-width="0.95"/>
<rect x="312.90" y="58.90" width="6.2" height="6.2" fill="#f5ada2" stroke="#923c3c" stroke-width="0.95"/>
<rect x="318.90" y="57.90" width="6.2" height="6.2" fill="#f5ada2" stroke="#923c3c" stroke-width="0.95"/>
<rect x="309.90" y="61.90" width="6.2" height="6.2" fill="#f5ada2" stroke="#923c3c" stroke-width="0.95"/>
<rect x="316.90" y="62.40" width="6.2" height="6.2" fill="#f5ada2" stroke="#923c3c" stroke-width="0.95"/>
<rect x="311.90" y="65.90" width="6.2" height="6.2" fill="#f5ada2" stroke="#923c3c" stroke-width="0.95"/>
<rect x="315.90" y="65.90" width="6.2" height="6.2" fill="#f5ada2" stroke="#923c3c" stroke-width="0.95"/>
<rect x="311.90" y="67.90" width="6.2" height="6.2" fill="#f5ada2" stroke="#923c3c" stroke-width="0.95"/>
<rect x="316.90" y="67.90" width="6.2" height="6.2" fill="#f5ada2" stroke="#923c3c" stroke-width="0.95"/>
<rect x="310.80" y="73.40" width="6.2" height="6.2" fill="#f5ada2" stroke="#923c3c" stroke-width="0.95"/>
<rect x="317.40" y="73.40" width="6.2" height="6.2" fill="#f5ada2" stroke="#923c3c" stroke-width="0.95"/>
<rect x="314.10" y="78.90" width="6.2" height="6.2" fill="#f5ada2" stroke="#923c3c" stroke-width="0.95"/>
<rect x="314.70" y="90.90" width="6.2" height="6.2" fill="#f5ada2" stroke="#923c3c" stroke-width="0.95"/>
<rect x="313.60" y="94.90" width="6.2" height="6.2" fill="#f5ada2" stroke="#923c3c" stroke-width="0.95"/>
<rect x="313.00" y="100.90" width="6.2" height="6.2" fill="#f5ada2" stroke="#923c3c" stroke-width="0.95"/>
<path d="M308.50,57.50 H325.50 M317.00,46.50 V69.30 M313.00,46.50 H321.00 M313.00,69.30 H321.00" stroke="#111" stroke-width="1" fill="none"/>
<rect x="165.5" y="146.6" width="59.0" height="91.6" fill="#f7ecdf"/>
<path d="M163.9,147.2 V238.2 H224.5" stroke="#333" stroke-width="1.1" fill="none"/>
<path d="M160.3,238.20 H163.9" stroke="#333" stroke-width="1"/>
<text x="158.6" y="240.75" font-size="7" font-weight="normal" text-anchor="end" fill="#2e2e2e" stroke="#2e2e2e" stroke-width="0.22">0.0</text>
<path d="M160.3,215.55 H163.9" stroke="#333" stroke-width="1"/>
<text x="158.6" y="218.10" font-size="7" font-weight="normal" text-anchor="end" fill="#2e2e2e" stroke="#2e2e2e" stroke-width="0.22">0.5</text>
<path d="M160.3,192.90 H163.9" stroke="#333" stroke-width="1"/>
<text x="158.6" y="195.45" font-size="7" font-weight="normal" text-anchor="end" fill="#2e2e2e" stroke="#2e2e2e" stroke-width="0.22">1.0</text>
<path d="M160.3,170.25 H163.9" stroke="#333" stroke-width="1"/>
<text x="158.6" y="172.80" font-size="7" font-weight="normal" text-anchor="end" fill="#2e2e2e" stroke="#2e2e2e" stroke-width="0.22">1.5</text>
<path d="M160.3,147.60 H163.9" stroke="#333" stroke-width="1"/>
<text x="158.6" y="150.15" font-size="7" font-weight="normal" text-anchor="end" fill="#2e2e2e" stroke="#2e2e2e" stroke-width="0.22">2.0</text>
<path d="M181.3,238.2 V241.6" stroke="#333" stroke-width="1"/>
<path d="M207.5,238.2 V241.6" stroke="#333" stroke-width="1"/>
<text transform="translate(140.7,192.5) rotate(-90)" font-size="8.45" font-weight="bold" text-anchor="middle" fill="#111">HLADR (gMFI over HC)</text>
<polygon points="189.10,149.35 189.91,150.99 191.72,151.25 190.41,152.52 190.72,154.32 189.10,153.48 187.48,154.32 187.79,152.52 186.48,151.25 188.29,150.99" fill="#111"/>
<polygon points="195.10,149.35 195.91,150.99 197.72,151.25 196.41,152.52 196.72,154.32 195.10,153.48 193.48,154.32 193.79,152.52 192.48,151.25 194.29,150.99" fill="#111"/>
<polygon points="201.00,149.35 201.81,150.99 203.62,151.25 202.31,152.52 202.62,154.32 201.00,153.48 199.38,154.32 199.69,152.52 198.38,151.25 200.19,150.99" fill="#111"/>
<circle cx="178.30" cy="178.00" r="3.1" fill="#b6cbf3" stroke="#3d4c7c" stroke-width="1"/>
<circle cx="181.00" cy="183.00" r="3.1" fill="#b6cbf3" stroke="#3d4c7c" stroke-width="1"/>
<circle cx="185.40" cy="183.60" r="3.1" fill="#b6cbf3" stroke="#3d4c7c" stroke-width="1"/>
<circle cx="176.60" cy="189.00" r="3.1" fill="#b6cbf3" stroke="#3d4c7c" stroke-width="1"/>
<circle cx="181.00" cy="188.50" r="3.1" fill="#b6cbf3" stroke="#3d4c7c" stroke-width="1"/>
<circle cx="186.50" cy="189.60" r="3.1" fill="#b6cbf3" stroke="#3d4c7c" stroke-width="1"/>
<circle cx="175.00" cy="193.50" r="3.1" fill="#b6cbf3" stroke="#3d4c7c" stroke-width="1"/>
<circle cx="180.00" cy="192.90" r="3.1" fill="#b6cbf3" stroke="#3d4c7c" stroke-width="1"/>
<circle cx="184.30" cy="194.00" r="3.1" fill="#b6cbf3" stroke="#3d4c7c" stroke-width="1"/>
<circle cx="176.60" cy="197.30" r="3.1" fill="#b6cbf3" stroke="#3d4c7c" stroke-width="1"/>
<circle cx="181.00" cy="196.80" r="3.1" fill="#b6cbf3" stroke="#3d4c7c" stroke-width="1"/>
<circle cx="185.40" cy="197.90" r="3.1" fill="#b6cbf3" stroke="#3d4c7c" stroke-width="1"/>
<circle cx="182.10" cy="202.30" r="3.1" fill="#b6cbf3" stroke="#3d4c7c" stroke-width="1"/>
<circle cx="182.70" cy="206.10" r="3.1" fill="#b6cbf3" stroke="#3d4c7c" stroke-width="1"/>
<circle cx="179.40" cy="208.90" r="3.1" fill="#b6cbf3" stroke="#3d4c7c" stroke-width="1"/>
<path d="M174.00,192.90 H188.00 M181.00,186.50 V199.00 M178.50,186.50 H183.50 M178.50,199.00 H183.50" stroke="#111" stroke-width="1" fill="none"/>
<rect x="204.40" y="169.60" width="6.2" height="6.2" fill="#f5ada2" stroke="#923c3c" stroke-width="0.95"/>
<rect x="205.90" y="179.40" width="6.2" height="6.2" fill="#f5ada2" stroke="#923c3c" stroke-width="0.95"/>
<rect x="203.30" y="181.90" width="6.2" height="6.2" fill="#f5ada2" stroke="#923c3c" stroke-width="0.95"/>
<rect x="203.90" y="185.90" width="6.2" height="6.2" fill="#f5ada2" stroke="#923c3c" stroke-width="0.95"/>
<rect x="207.20" y="185.20" width="6.2" height="6.2" fill="#f5ada2" stroke="#923c3c" stroke-width="0.95"/>
<rect x="201.90" y="189.80" width="6.2" height="6.2" fill="#f5ada2" stroke="#923c3c" stroke-width="0.95"/>
<rect x="206.50" y="190.40" width="6.2" height="6.2" fill="#f5ada2" stroke="#923c3c" stroke-width="0.95"/>
<rect x="202.60" y="194.30" width="6.2" height="6.2" fill="#f5ada2" stroke="#923c3c" stroke-width="0.95"/>
<rect x="207.20" y="194.30" width="6.2" height="6.2" fill="#f5ada2" stroke="#923c3c" stroke-width="0.95"/>
<rect x="203.30" y="198.20" width="6.2" height="6.2" fill="#f5ada2" stroke="#923c3c" stroke-width="0.95"/>
<rect x="207.20" y="196.90" width="6.2" height="6.2" fill="#f5ada2" stroke="#923c3c" stroke-width="0.95"/>
<rect x="201.90" y="202.10" width="6.2" height="6.2" fill="#f5ada2" stroke="#923c3c" stroke-width="0.95"/>
<rect x="208.50" y="201.50" width="6.2" height="6.2" fill="#f5ada2" stroke="#923c3c" stroke-width="0.95"/>
<rect x="198.70" y="204.70" width="6.2" height="6.2" fill="#f5ada2" stroke="#923c3c" stroke-width="0.95"/>
<rect x="203.90" y="205.40" width="6.2" height="6.2" fill="#f5ada2" stroke="#923c3c" stroke-width="0.95"/>
<rect x="209.80" y="204.70" width="6.2" height="6.2" fill="#f5ada2" stroke="#923c3c" stroke-width="0.95"/>
<rect x="198.10" y="208.60" width="6.2" height="6.2" fill="#f5ada2" stroke="#923c3c" stroke-width="0.95"/>
<rect x="205.20" y="207.90" width="6.2" height="6.2" fill="#f5ada2" stroke="#923c3c" stroke-width="0.95"/>
<rect x="210.40" y="207.90" width="6.2" height="6.2" fill="#f5ada2" stroke="#923c3c" stroke-width="0.95"/>
<rect x="198.70" y="212.50" width="6.2" height="6.2" fill="#f5ada2" stroke="#923c3c" stroke-width="0.95"/>
<rect x="204.60" y="211.90" width="6.2" height="6.2" fill="#f5ada2" stroke="#923c3c" stroke-width="0.95"/>
<rect x="209.80" y="211.90" width="6.2" height="6.2" fill="#f5ada2" stroke="#923c3c" stroke-width="0.95"/>
<rect x="200.00" y="215.80" width="6.2" height="6.2" fill="#f5ada2" stroke="#923c3c" stroke-width="0.95"/>
<rect x="205.90" y="217.10" width="6.2" height="6.2" fill="#f5ada2" stroke="#923c3c" stroke-width="0.95"/>
<rect x="201.90" y="219.00" width="6.2" height="6.2" fill="#f5ada2" stroke="#923c3c" stroke-width="0.95"/>
<rect x="207.20" y="218.40" width="6.2" height="6.2" fill="#f5ada2" stroke="#923c3c" stroke-width="0.95"/>
<path d="M199.60,212.00 H215.60 M207.60,201.50 V216.00 M204.10,201.50 H211.10 M204.10,216.00 H211.10" stroke="#111" stroke-width="1" fill="none"/>
<rect x="275.4" y="146.0" width="59.200000000000045" height="91.6" fill="#f7ecdf"/>
<path d="M273.8,146.6 V237.6 H334.5" stroke="#333" stroke-width="1.1" fill="none"/>
<path d="M270.2,237.60 H273.8" stroke="#333" stroke-width="1"/>
<text x="268.5" y="240.15" font-size="7" font-weight="normal" text-anchor="end" fill="#2e2e2e" stroke="#2e2e2e" stroke-width="0.22">0.0</text>
<path d="M270.2,207.43 H273.8" stroke="#333" stroke-width="1"/>
<text x="268.5" y="209.98" font-size="7" font-weight="normal" text-anchor="end" fill="#2e2e2e" stroke="#2e2e2e" stroke-width="0.22">0.5</text>
<path d="M270.2,177.27 H273.8" stroke="#333" stroke-width="1"/>
<text x="268.5" y="179.82" font-size="7" font-weight="normal" text-anchor="end" fill="#2e2e2e" stroke="#2e2e2e" stroke-width="0.22">1.0</text>
<path d="M270.2,147.10 H273.8" stroke="#333" stroke-width="1"/>
<text x="268.5" y="149.65" font-size="7" font-weight="normal" text-anchor="end" fill="#2e2e2e" stroke="#2e2e2e" stroke-width="0.22">1.5</text>
<path d="M291.3,237.6 V241.0" stroke="#333" stroke-width="1"/>
<path d="M317.2,237.6 V241.0" stroke="#333" stroke-width="1"/>
<text transform="translate(253.2,192.1) rotate(-90)" font-size="8.75" font-weight="bold" text-anchor="middle" fill="#111">CCR2 (gMFI over HC)</text>
<polygon points="299.40,152.35 300.21,153.99 302.02,154.25 300.71,155.52 301.02,157.32 299.40,156.48 297.78,157.32 298.09,155.52 296.78,154.25 298.59,153.99" fill="#111"/>
<polygon points="305.10,152.35 305.91,153.99 307.72,154.25 306.41,155.52 306.72,157.32 305.10,156.48 303.48,157.32 303.79,155.52 302.48,154.25 304.29,153.99" fill="#111"/>
<polygon points="311.10,152.35 311.91,153.99 313.72,154.25 312.41,155.52 312.72,157.32 311.10,156.48 309.48,157.32 309.79,155.52 308.48,154.25 310.29,153.99" fill="#111"/>
<circle cx="291.20" cy="162.30" r="3.1" fill="#b6cbf3" stroke="#3d4c7c" stroke-width="1"/>
<circle cx="290.00" cy="165.20" r="3.1" fill="#b6cbf3" stroke="#3d4c7c" stroke-width="1"/>
<circle cx="292.90" cy="166.90" r="3.1" fill="#b6cbf3" stroke="#3d4c7c" stroke-width="1"/>
<circle cx="288.30" cy="169.20" r="3.1" fill="#b6cbf3" stroke="#3d4c7c" stroke-width="1"/>
<circle cx="292.90" cy="170.40" r="3.1" fill="#b6cbf3" stroke="#3d4c7c" stroke-width="1"/>
<circle cx="286.00" cy="174.40" r="3.1" fill="#b6cbf3" stroke="#3d4c7c" stroke-width="1"/>
<circle cx="290.60" cy="173.80" r="3.1" fill="#b6cbf3" stroke="#3d4c7c" stroke-width="1"/>
<circle cx="295.20" cy="175.00" r="3.1" fill="#b6cbf3" stroke="#3d4c7c" stroke-width="1"/>
<circle cx="297.50" cy="177.30" r="3.1" fill="#b6cbf3" stroke="#3d4c7c" stroke-width="1"/>
<circle cx="285.40" cy="179.00" r="3.1" fill="#b6cbf3" stroke="#3d4c7c" stroke-width="1"/>
<circle cx="290.00" cy="179.60" r="3.1" fill="#b6cbf3" stroke="#3d4c7c" stroke-width="1"/>
<circle cx="294.60" cy="179.00" r="3.1" fill="#b6cbf3" stroke="#3d4c7c" stroke-width="1"/>
<circle cx="297.50" cy="179.00" r="3.1" fill="#b6cbf3" stroke="#3d4c7c" stroke-width="1"/>
<circle cx="288.30" cy="183.00" r="3.1" fill="#b6cbf3" stroke="#3d4c7c" stroke-width="1"/>
<circle cx="292.30" cy="183.60" r="3.1" fill="#b6cbf3" stroke="#3d4c7c" stroke-width="1"/>
<circle cx="291.20" cy="186.50" r="3.1" fill="#b6cbf3" stroke="#3d4c7c" stroke-width="1"/>
<circle cx="291.20" cy="194.50" r="3.1" fill="#b6cbf3" stroke="#3d4c7c" stroke-width="1"/>
<path d="M284.30,177.00 H298.30 M291.30,172.00 V182.00 M288.80,172.00 H293.80 M288.80,182.00 H293.80" stroke="#111" stroke-width="1" fill="none"/>
<rect x="314.10" y="158.70" width="6.2" height="6.2" fill="#f5ada2" stroke="#923c3c" stroke-width="0.95"/>
<rect x="313.20" y="163.60" width="6.2" height="6.2" fill="#f5ada2" stroke="#923c3c" stroke-width="0.95"/>
<rect x="312.40" y="170.20" width="6.2" height="6.2" fill="#f5ada2" stroke="#923c3c" stroke-width="0.95"/>
<rect x="317.30" y="169.30" width="6.2" height="6.2" fill="#f5ada2" stroke="#923c3c" stroke-width="0.95"/>
<rect x="308.30" y="174.30" width="6.2" height="6.2" fill="#f5ada2" stroke="#923c3c" stroke-width="0.95"/>
<rect x="314.10" y="174.30" width="6.2" height="6.2" fill="#f5ada2" stroke="#923c3c" stroke-width="0.95"/>
<rect x="319.80" y="174.30" width="6.2" height="6.2" fill="#f5ada2" stroke="#923c3c" stroke-width="0.95"/>
<rect x="309.10" y="179.20" width="6.2" height="6.2" fill="#f5ada2" stroke="#923c3c" stroke-width="0.95"/>
<rect x="315.70" y="180.00" width="6.2" height="6.2" fill="#f5ada2" stroke="#923c3c" stroke-width="0.95"/>
<rect x="309.90" y="183.30" width="6.2" height="6.2" fill="#f5ada2" stroke="#923c3c" stroke-width="0.95"/>
<rect x="314.90" y="184.10" width="6.2" height="6.2" fill="#f5ada2" stroke="#923c3c" stroke-width="0.95"/>
<rect x="319.00" y="184.90" width="6.2" height="6.2" fill="#f5ada2" stroke="#923c3c" stroke-width="0.95"/>
<rect x="308.30" y="189.10" width="6.2" height="6.2" fill="#f5ada2" stroke="#923c3c" stroke-width="0.95"/>
<rect x="314.10" y="189.90" width="6.2" height="6.2" fill="#f5ada2" stroke="#923c3c" stroke-width="0.95"/>
<rect x="319.80" y="189.90" width="6.2" height="6.2" fill="#f5ada2" stroke="#923c3c" stroke-width="0.95"/>
<rect x="309.10" y="194.00" width="6.2" height="6.2" fill="#f5ada2" stroke="#923c3c" stroke-width="0.95"/>
<rect x="315.70" y="193.20" width="6.2" height="6.2" fill="#f5ada2" stroke="#923c3c" stroke-width="0.95"/>
<rect x="320.60" y="194.90" width="6.2" height="6.2" fill="#f5ada2" stroke="#923c3c" stroke-width="0.95"/>
<rect x="309.90" y="199.80" width="6.2" height="6.2" fill="#f5ada2" stroke="#923c3c" stroke-width="0.95"/>
<rect x="316.50" y="198.90" width="6.2" height="6.2" fill="#f5ada2" stroke="#923c3c" stroke-width="0.95"/>
<rect x="312.40" y="205.50" width="6.2" height="6.2" fill="#f5ada2" stroke="#923c3c" stroke-width="0.95"/>
<rect x="313.20" y="212.90" width="6.2" height="6.2" fill="#f5ada2" stroke="#923c3c" stroke-width="0.95"/>
<path d="M308.20,190.50 H326.20 M317.20,179.00 V200.40 M312.70,179.00 H321.70 M312.70,200.40 H321.70" stroke="#111" stroke-width="1" fill="none"/>
<circle cx="205.3" cy="256.5" r="3.3" fill="#b6cbf3" stroke="#3d4c7c" stroke-width="0.9"/>
<text x="209.8" y="259.8" font-size="9" font-weight="normal" text-anchor="start" fill="#222" >HC</text>
<rect x="229.4" y="253.4" width="6.3" height="6.3" fill="#f5ada2" stroke="#923c3c" stroke-width="0.9"/>
<text x="237.8" y="259.8" font-size="9" font-weight="normal" text-anchor="start" fill="#222" >COVID-19</text>
<path d="M26.7,287 V377.4 H81" stroke="#333" stroke-width="1.1" fill="none"/>
<path d="M23.099999999999998,377.40 H26.7" stroke="#333" stroke-width="1"/>
<text x="21.4" y="379.95" font-size="7" font-weight="normal" text-anchor="end" fill="#2e2e2e" stroke="#2e2e2e" stroke-width="0.22">50</text>
<path d="M23.099999999999998,359.42 H26.7" stroke="#333" stroke-width="1"/>
<text x="21.4" y="361.97" font-size="7" font-weight="normal" text-anchor="end" fill="#2e2e2e" stroke="#2e2e2e" stroke-width="0.22">60</text>
<path d="M23.099999999999998,341.44 H26.7" stroke="#333" stroke-width="1"/>
<text x="21.4" y="343.99" font-size="7" font-weight="normal" text-anchor="end" fill="#2e2e2e" stroke="#2e2e2e" stroke-width="0.22">70</text>
<path d="M23.099999999999998,323.46 H26.7" stroke="#333" stroke-width="1"/>
<text x="21.4" y="326.01" font-size="7" font-weight="normal" text-anchor="end" fill="#2e2e2e" stroke="#2e2e2e" stroke-width="0.22">80</text>
<path d="M23.099999999999998,305.48 H26.7" stroke="#333" stroke-width="1"/>
<text x="21.4" y="308.03" font-size="7" font-weight="normal" text-anchor="end" fill="#2e2e2e" stroke="#2e2e2e" stroke-width="0.22">90</text>
<path d="M23.099999999999998,287.50 H26.7" stroke="#333" stroke-width="1"/>
<text x="21.4" y="290.05" font-size="7" font-weight="normal" text-anchor="end" fill="#2e2e2e" stroke="#2e2e2e" stroke-width="0.22">100</text>
<path d="M41,377.4 V380.79999999999995" stroke="#333" stroke-width="1"/>
<path d="M66.6,377.4 V380.79999999999995" stroke="#333" stroke-width="1"/>
<text transform="translate(6.4,330.3) rotate(-90)" font-size="8.95" font-weight="bold" text-anchor="middle" fill="#111">CD14<tspan font-size="5" font-weight="normal" dy="-3">high</tspan><tspan dy="3">CD16</tspan><tspan font-size="5" font-weight="normal" dy="-3">-</tspan><tspan dy="3"> cells (%)</tspan></text>
<text x="51.3" y="299.5" font-size="7" font-weight="normal" text-anchor="middle" fill="#222" >ns</text>
<path d="M40.50,304.16 L44.40,311.42 L36.60,311.42 Z" fill="#cff3f3" stroke="#287c7c" stroke-width="1"/>
<path d="M38.60,309.86 L42.50,317.12 L34.70,317.12 Z" fill="#cff3f3" stroke="#287c7c" stroke-width="1"/>
<path d="M43.30,309.86 L47.20,317.12 L39.40,317.12 Z" fill="#cff3f3" stroke="#287c7c" stroke-width="1"/>
<path d="M39.50,317.46 L43.40,324.72 L35.60,324.72 Z" fill="#cff3f3" stroke="#287c7c" stroke-width="1"/>
<path d="M42.40,318.46 L46.30,325.72 L38.50,325.72 Z" fill="#cff3f3" stroke="#287c7c" stroke-width="1"/>
<path d="M37.60,323.16 L41.50,330.42 L33.70,330.42 Z" fill="#cff3f3" stroke="#287c7c" stroke-width="1"/>
<path d="M43.30,323.16 L47.20,330.42 L39.40,330.42 Z" fill="#cff3f3" stroke="#287c7c" stroke-width="1"/>
<path d="M38.60,328.86 L42.50,336.12 L34.70,336.12 Z" fill="#cff3f3" stroke="#287c7c" stroke-width="1"/>
<path d="M42.40,329.86 L46.30,337.12 L38.50,337.12 Z" fill="#cff3f3" stroke="#287c7c" stroke-width="1"/>
<path d="M39.50,335.46 L43.40,342.72 L35.60,342.72 Z" fill="#cff3f3" stroke="#287c7c" stroke-width="1"/>
<path d="M43.30,335.96 L47.20,343.22 L39.40,343.22 Z" fill="#cff3f3" stroke="#287c7c" stroke-width="1"/>
<path d="M40.50,340.16 L44.40,347.42 L36.60,347.42 Z" fill="#cff3f3" stroke="#287c7c" stroke-width="1"/>
<path d="M38.60,344.16 L42.50,351.42 L34.70,351.42 Z" fill="#cff3f3" stroke="#287c7c" stroke-width="1"/>
<path d="M40.50,359.16 L44.40,366.42 L36.60,366.42 Z" fill="#cff3f3" stroke="#287c7c" stroke-width="1"/>
<path d="M42.40,363.16 L46.30,370.42 L38.50,370.42 Z" fill="#cff3f3" stroke="#287c7c" stroke-width="1"/>
<path d="M32.30,327.80 H49.30 M40.80,318.00 V338.00 M37.30,318.00 H44.30 M37.30,338.00 H44.30" stroke="#111" stroke-width="1" fill="none"/>
<path d="M69.00,302.10 L72.90,306.00 L69.00,309.90 L65.10,306.00 Z" fill="#f5a3a0" stroke="#8e3434" stroke-width="0.95"/>
<path d="M63.00,305.10 L66.90,309.00 L63.00,312.90 L59.10,309.00 Z" fill="#f5a3a0" stroke="#8e3434" stroke-width="0.95"/>
<path d="M72.00,307.10 L75.90,311.00 L72.00,314.90 L68.10,311.00 Z" fill="#f5a3a0" stroke="#8e3434" stroke-width="0.95"/>
<path d="M65.00,310.10 L68.90,314.00 L65.00,317.90 L61.10,314.00 Z" fill="#f5a3a0" stroke="#8e3434" stroke-width="0.95"/>
<path d="M70.00,313.10 L73.90,317.00 L70.00,320.90 L66.10,317.00 Z" fill="#f5a3a0" stroke="#8e3434" stroke-width="0.95"/>
<path d="M63.00,316.10 L66.90,320.00 L63.00,323.90 L59.10,320.00 Z" fill="#f5a3a0" stroke="#8e3434" stroke-width="0.95"/>
<path d="M68.00,318.10 L71.90,322.00 L68.00,325.90 L64.10,322.00 Z" fill="#f5a3a0" stroke="#8e3434" stroke-width="0.95"/>
<path d="M62.00,322.10 L65.90,326.00 L62.00,329.90 L58.10,326.00 Z" fill="#f5a3a0" stroke="#8e3434" stroke-width="0.95"/>
<path d="M67.00,323.10 L70.90,327.00 L67.00,330.90 L63.10,327.00 Z" fill="#f5a3a0" stroke="#8e3434" stroke-width="0.95"/>
<path d="M72.00,323.10 L75.90,327.00 L72.00,330.90 L68.10,327.00 Z" fill="#f5a3a0" stroke="#8e3434" stroke-width="0.95"/>
<path d="M65.00,327.10 L68.90,331.00 L65.00,334.90 L61.10,331.00 Z" fill="#f5a3a0" stroke="#8e3434" stroke-width="0.95"/>
<path d="M70.00,328.10 L73.90,332.00 L70.00,335.90 L66.10,332.00 Z" fill="#f5a3a0" stroke="#8e3434" stroke-width="0.95"/>
<path d="M67.00,330.10 L70.90,334.00 L67.00,337.90 L63.10,334.00 Z" fill="#f5a3a0" stroke="#8e3434" stroke-width="0.95"/>
<path d="M67.00,340.10 L70.90,344.00 L67.00,347.90 L63.10,344.00 Z" fill="#f5a3a0" stroke="#8e3434" stroke-width="0.95"/>
<path d="M67.00,345.10 L70.90,349.00 L67.00,352.90 L63.10,349.00 Z" fill="#f5a3a0" stroke="#8e3434" stroke-width="0.95"/>
<path d="M67.00,367.10 L70.90,371.00 L67.00,374.90 L63.10,371.00 Z" fill="#f5a3a0" stroke="#8e3434" stroke-width="0.95"/>
<path d="M58.10,324.00 H75.10 M66.60,312.00 V330.50 M63.10,312.00 H70.10 M63.10,330.50 H70.10" stroke="#111" stroke-width="1" fill="none"/>
<path d="M112.7,286.6 V377.4 H166.5" stroke="#333" stroke-width="1.1" fill="none"/>
<path d="M109.10000000000001,377.40 H112.7" stroke="#333" stroke-width="1"/>
<text x="107.4" y="379.95" font-size="7" font-weight="normal" text-anchor="end" fill="#2e2e2e" stroke="#2e2e2e" stroke-width="0.22">0</text>
<path d="M109.10000000000001,359.32 H112.7" stroke="#333" stroke-width="1"/>
<text x="107.4" y="361.87" font-size="7" font-weight="normal" text-anchor="end" fill="#2e2e2e" stroke="#2e2e2e" stroke-width="0.22">5</text>
<path d="M109.10000000000001,341.24 H112.7" stroke="#333" stroke-width="1"/>
<text x="107.4" y="343.79" font-size="7" font-weight="normal" text-anchor="end" fill="#2e2e2e" stroke="#2e2e2e" stroke-width="0.22">10</text>
<path d="M109.10000000000001,323.16 H112.7" stroke="#333" stroke-width="1"/>
<text x="107.4" y="325.71" font-size="7" font-weight="normal" text-anchor="end" fill="#2e2e2e" stroke="#2e2e2e" stroke-width="0.22">15</text>
<path d="M109.10000000000001,305.08 H112.7" stroke="#333" stroke-width="1"/>
<text x="107.4" y="307.63" font-size="7" font-weight="normal" text-anchor="end" fill="#2e2e2e" stroke="#2e2e2e" stroke-width="0.22">20</text>
<path d="M109.10000000000001,287.00 H112.7" stroke="#333" stroke-width="1"/>
<text x="107.4" y="289.55" font-size="7" font-weight="normal" text-anchor="end" fill="#2e2e2e" stroke="#2e2e2e" stroke-width="0.22">25</text>
<path d="M127,377.4 V380.79999999999995" stroke="#333" stroke-width="1"/>
<path d="M153.2,377.4 V380.79999999999995" stroke="#333" stroke-width="1"/>
<text transform="translate(96.3,330.9) rotate(-90)" font-size="8.5" font-weight="bold" text-anchor="middle" fill="#111">CD14<tspan font-size="5" font-weight="normal" dy="-3">low</tspan><tspan dy="3">CD16</tspan><tspan font-size="5" font-weight="normal" dy="-3">+</tspan><tspan dy="3"> cells (%)</tspan></text>
<text x="141.5" y="290.7" font-size="7" font-weight="normal" text-anchor="middle" fill="#222" >ns</text>
<path d="M127.00,313.96 L130.90,321.22 L123.10,321.22 Z" fill="#cff3f3" stroke="#287c7c" stroke-width="1"/>
<path d="M127.70,335.66 L131.60,342.92 L123.80,342.92 Z" fill="#cff3f3" stroke="#287c7c" stroke-width="1"/>
<path d="M129.00,337.16 L132.90,344.42 L125.10,344.42 Z" fill="#cff3f3" stroke="#287c7c" stroke-width="1"/>
<path d="M128.30,353.16 L132.20,360.42 L124.40,360.42 Z" fill="#cff3f3" stroke="#287c7c" stroke-width="1"/>
<path d="M126.40,356.16 L130.30,363.42 L122.50,363.42 Z" fill="#cff3f3" stroke="#287c7c" stroke-width="1"/>
<path d="M130.90,357.16 L134.80,364.42 L127.00,364.42 Z" fill="#cff3f3" stroke="#287c7c" stroke-width="1"/>
<path d="M124.00,360.16 L127.90,367.42 L120.10,367.42 Z" fill="#cff3f3" stroke="#287c7c" stroke-width="1"/>
<path d="M129.00,361.16 L132.90,368.42 L125.10,368.42 Z" fill="#cff3f3" stroke="#287c7c" stroke-width="1"/>
<path d="M126.00,363.66 L129.90,370.92 L122.10,370.92 Z" fill="#cff3f3" stroke="#287c7c" stroke-width="1"/>
<path d="M131.00,364.16 L134.90,371.42 L127.10,371.42 Z" fill="#cff3f3" stroke="#287c7c" stroke-width="1"/>
<path d="M123.00,366.16 L126.90,373.42 L119.10,373.42 Z" fill="#cff3f3" stroke="#287c7c" stroke-width="1"/>
<path d="M128.00,367.66 L131.90,374.92 L124.10,374.92 Z" fill="#cff3f3" stroke="#287c7c" stroke-width="1"/>
<path d="M125.00,369.66 L128.90,376.92 L121.10,376.92 Z" fill="#cff3f3" stroke="#287c7c" stroke-width="1"/>
<path d="M130.50,370.16 L134.40,377.42 L126.60,377.42 Z" fill="#cff3f3" stroke="#287c7c" stroke-width="1"/>
<path d="M127.00,372.16 L130.90,379.42 L123.10,379.42 Z" fill="#cff3f3" stroke="#287c7c" stroke-width="1"/>
<path d="M118.40,364.90 H136.00 M127.20,360.00 V371.60 M123.70,360.00 H130.70 M123.70,371.60 H130.70" stroke="#111" stroke-width="1" fill="none"/>
<path d="M153.30,292.60 L157.20,296.50 L153.30,300.40 L149.40,296.50 Z" fill="#f5a3a0" stroke="#8e3434" stroke-width="0.95"/>
<path d="M153.50,339.30 L157.40,343.20 L153.50,347.10 L149.60,343.20 Z" fill="#f5a3a0" stroke="#8e3434" stroke-width="0.95"/>
<path d="M153.50,347.00 L157.40,350.90 L153.50,354.80 L149.60,350.90 Z" fill="#f5a3a0" stroke="#8e3434" stroke-width="0.95"/>
<path d="M153.50,353.50 L157.40,357.40 L153.50,361.30 L149.60,357.40 Z" fill="#f5a3a0" stroke="#8e3434" stroke-width="0.95"/>
<path d="M154.70,359.90 L158.60,363.80 L154.70,367.70 L150.80,363.80 Z" fill="#f5a3a0" stroke="#8e3434" stroke-width="0.95"/>
<path d="M152.40,361.70 L156.30,365.60 L152.40,369.50 L148.50,365.60 Z" fill="#f5a3a0" stroke="#8e3434" stroke-width="0.95"/>
<path d="M155.90,364.10 L159.80,368.00 L155.90,371.90 L152.00,368.00 Z" fill="#f5a3a0" stroke="#8e3434" stroke-width="0.95"/>
<path d="M149.40,365.80 L153.30,369.70 L149.40,373.60 L145.50,369.70 Z" fill="#f5a3a0" stroke="#8e3434" stroke-width="0.95"/>
<path d="M152.90,367.60 L156.80,371.50 L152.90,375.40 L149.00,371.50 Z" fill="#f5a3a0" stroke="#8e3434" stroke-width="0.95"/>
<path d="M157.60,368.70 L161.50,372.60 L157.60,376.50 L153.70,372.60 Z" fill="#f5a3a0" stroke="#8e3434" stroke-width="0.95"/>
<path d="M148.20,369.30 L152.10,373.20 L148.20,377.10 L144.30,373.20 Z" fill="#f5a3a0" stroke="#8e3434" stroke-width="0.95"/>
<path d="M151.80,371.70 L155.70,375.60 L151.80,379.50 L147.90,375.60 Z" fill="#f5a3a0" stroke="#8e3434" stroke-width="0.95"/>
<path d="M155.30,372.30 L159.20,376.20 L155.30,380.10 L151.40,376.20 Z" fill="#f5a3a0" stroke="#8e3434" stroke-width="0.95"/>
<path d="M144.20,372.60 H161.80 M153.00,359.10 V376.00 M149.50,359.10 H156.50 M149.50,376.00 H156.50" stroke="#111" stroke-width="1" fill="none"/>
<rect x="202.3" y="286.5" width="50.69999999999999" height="91.10000000000002" fill="#f7ecdf"/>
<path d="M200.5,287.1 V377.6 H253.5" stroke="#333" stroke-width="1.1" fill="none"/>
<path d="M196.9,377.60 H200.5" stroke="#333" stroke-width="1"/>
<text x="195.2" y="380.15" font-size="7" font-weight="normal" text-anchor="end" fill="#2e2e2e" stroke="#2e2e2e" stroke-width="0.22">0.0</text>
<path d="M196.9,355.08 H200.5" stroke="#333" stroke-width="1"/>
<text x="195.2" y="357.63" font-size="7" font-weight="normal" text-anchor="end" fill="#2e2e2e" stroke="#2e2e2e" stroke-width="0.22">0.5</text>
<path d="M196.9,332.55 H200.5" stroke="#333" stroke-width="1"/>
<text x="195.2" y="335.10" font-size="7" font-weight="normal" text-anchor="end" fill="#2e2e2e" stroke="#2e2e2e" stroke-width="0.22">1.0</text>
<path d="M196.9,310.02 H200.5" stroke="#333" stroke-width="1"/>
<text x="195.2" y="312.57" font-size="7" font-weight="normal" text-anchor="end" fill="#2e2e2e" stroke="#2e2e2e" stroke-width="0.22">1.5</text>
<path d="M196.9,287.50 H200.5" stroke="#333" stroke-width="1"/>
<text x="195.2" y="290.05" font-size="7" font-weight="normal" text-anchor="end" fill="#2e2e2e" stroke="#2e2e2e" stroke-width="0.22">2.0</text>
<path d="M214,377.6 V381.0" stroke="#333" stroke-width="1"/>
<path d="M239.8,377.6 V381.0" stroke="#333" stroke-width="1"/>
<text transform="translate(181.6,331.8) rotate(-90)" font-size="8.5" font-weight="bold" text-anchor="middle" fill="#111">HLADR (gMFI over HC)</text>
<text x="203.7" y="297.3" font-size="6.6" font-weight="normal" text-anchor="start" fill="#222" >p=0.0546</text>
<path d="M213.20,309.56 L217.10,316.82 L209.30,316.82 Z" fill="#cff3f3" stroke="#287c7c" stroke-width="1"/>
<path d="M213.20,320.76 L217.10,328.02 L209.30,328.02 Z" fill="#cff3f3" stroke="#287c7c" stroke-width="1"/>
<path d="M215.50,323.16 L219.40,330.42 L211.60,330.42 Z" fill="#cff3f3" stroke="#287c7c" stroke-width="1"/>
<path d="M211.70,327.56 L215.60,334.82 L207.80,334.82 Z" fill="#cff3f3" stroke="#287c7c" stroke-width="1"/>
<path d="M215.50,328.16 L219.40,335.42 L211.60,335.42 Z" fill="#cff3f3" stroke="#287c7c" stroke-width="1"/>
<path d="M212.50,332.16 L216.40,339.42 L208.60,339.42 Z" fill="#cff3f3" stroke="#287c7c" stroke-width="1"/>
<path d="M216.20,333.56 L220.10,340.82 L212.30,340.82 Z" fill="#cff3f3" stroke="#287c7c" stroke-width="1"/>
<path d="M211.00,337.16 L214.90,344.42 L207.10,344.42 Z" fill="#cff3f3" stroke="#287c7c" stroke-width="1"/>
<path d="M217.00,338.76 L220.90,346.02 L213.10,346.02 Z" fill="#cff3f3" stroke="#287c7c" stroke-width="1"/>
<path d="M213.20,342.56 L217.10,349.82 L209.30,349.82 Z" fill="#cff3f3" stroke="#287c7c" stroke-width="1"/>
<path d="M211.70,347.16 L215.60,354.42 L207.80,354.42 Z" fill="#cff3f3" stroke="#287c7c" stroke-width="1"/>
<path d="M216.20,348.56 L220.10,355.82 L212.30,355.82 Z" fill="#cff3f3" stroke="#287c7c" stroke-width="1"/>
<path d="M210.20,351.56 L214.10,358.82 L206.30,358.82 Z" fill="#cff3f3" stroke="#287c7c" stroke-width="1"/>
<path d="M214.70,353.16 L218.60,360.42 L210.80,360.42 Z" fill="#cff3f3" stroke="#287c7c" stroke-width="1"/>
<path d="M217.70,354.56 L221.60,361.82 L213.80,361.82 Z" fill="#cff3f3" stroke="#287c7c" stroke-width="1"/>
<path d="M205.00,341.50 H223.00 M214.00,328.50 V352.50 M210.50,328.50 H217.50 M210.50,352.50 H217.50" stroke="#111" stroke-width="1" fill="none"/>
<path d="M240.10,326.90 L244.00,330.80 L240.10,334.70 L236.20,330.80 Z" fill="#f5a3a0" stroke="#8e3434" stroke-width="0.95"/>
<path d="M239.00,329.10 L242.90,333.00 L239.00,336.90 L235.10,333.00 Z" fill="#f5a3a0" stroke="#8e3434" stroke-width="0.95"/>
<path d="M239.60,335.70 L243.50,339.60 L239.60,343.50 L235.70,339.60 Z" fill="#f5a3a0" stroke="#8e3434" stroke-width="0.95"/>
<path d="M236.30,341.20 L240.20,345.10 L236.30,349.00 L232.40,345.10 Z" fill="#f5a3a0" stroke="#8e3434" stroke-width="0.95"/>
<path d="M242.30,340.70 L246.20,344.60 L242.30,348.50 L238.40,344.60 Z" fill="#f5a3a0" stroke="#8e3434" stroke-width="0.95"/>
<path d="M235.20,346.20 L239.10,350.10 L235.20,354.00 L231.30,350.10 Z" fill="#f5a3a0" stroke="#8e3434" stroke-width="0.95"/>
<path d="M240.70,346.70 L244.60,350.60 L240.70,354.50 L236.80,350.60 Z" fill="#f5a3a0" stroke="#8e3434" stroke-width="0.95"/>
<path d="M244.50,344.50 L248.40,348.40 L244.50,352.30 L240.60,348.40 Z" fill="#f5a3a0" stroke="#8e3434" stroke-width="0.95"/>
<path d="M237.90,350.10 L241.80,354.00 L237.90,357.90 L234.00,354.00 Z" fill="#f5a3a0" stroke="#8e3434" stroke-width="0.95"/>
<path d="M243.40,350.10 L247.30,354.00 L243.40,357.90 L239.50,354.00 Z" fill="#f5a3a0" stroke="#8e3434" stroke-width="0.95"/>
<path d="M234.60,354.40 L238.50,358.30 L234.60,362.20 L230.70,358.30 Z" fill="#f5a3a0" stroke="#8e3434" stroke-width="0.95"/>
<path d="M241.20,356.10 L245.10,360.00 L241.20,363.90 L237.30,360.00 Z" fill="#f5a3a0" stroke="#8e3434" stroke-width="0.95"/>
<path d="M245.60,356.10 L249.50,360.00 L245.60,363.90 L241.70,360.00 Z" fill="#f5a3a0" stroke="#8e3434" stroke-width="0.95"/>
<path d="M231.50,349.00 H248.10 M239.80,344.00 V355.00 M236.30,344.00 H243.30 M236.30,355.00 H243.30" stroke="#111" stroke-width="1" fill="none"/>
<rect x="286.3" y="286.0" width="48.69999999999999" height="91.30000000000001" fill="#f7ecdf"/>
<path d="M284.5,286.2 V377.3 H335" stroke="#333" stroke-width="1.1" fill="none"/>
<path d="M280.9,377.30 H284.5" stroke="#333" stroke-width="1"/>
<text x="279.2" y="379.85" font-size="7" font-weight="normal" text-anchor="end" fill="#2e2e2e" stroke="#2e2e2e" stroke-width="0.22">0.0</text>
<path d="M280.9,347.03 H284.5" stroke="#333" stroke-width="1"/>
<text x="279.2" y="349.58" font-size="7" font-weight="normal" text-anchor="end" fill="#2e2e2e" stroke="#2e2e2e" stroke-width="0.22">0.5</text>
<path d="M280.9,316.77 H284.5" stroke="#333" stroke-width="1"/>
<text x="279.2" y="319.32" font-size="7" font-weight="normal" text-anchor="end" fill="#2e2e2e" stroke="#2e2e2e" stroke-width="0.22">1.0</text>
<path d="M280.9,286.50 H284.5" stroke="#333" stroke-width="1"/>
<text x="279.2" y="289.05" font-size="7" font-weight="normal" text-anchor="end" fill="#2e2e2e" stroke="#2e2e2e" stroke-width="0.22">1.5</text>
<path d="M297.7,377.3 V380.7" stroke="#333" stroke-width="1"/>
<path d="M322.6,377.3 V380.7" stroke="#333" stroke-width="1"/>
<text transform="translate(265.3,332.8) rotate(-90)" font-size="8.75" font-weight="bold" text-anchor="middle" fill="#111">CCR2 (gMFI over HC)</text>
<text x="312.5" y="296.3" font-size="6.5" font-weight="normal" text-anchor="middle" fill="#222" >ns</text>
<path d="M297.60,302.16 L301.50,309.42 L293.70,309.42 Z" fill="#cff3f3" stroke="#287c7c" stroke-width="1"/>
<path d="M295.90,311.36 L299.80,318.62 L292.00,318.62 Z" fill="#cff3f3" stroke="#287c7c" stroke-width="1"/>
<path d="M299.20,312.16 L303.10,319.42 L295.30,319.42 Z" fill="#cff3f3" stroke="#287c7c" stroke-width="1"/>
<path d="M296.70,317.16 L300.60,324.42 L292.80,324.42 Z" fill="#cff3f3" stroke="#287c7c" stroke-width="1"/>
<path d="M300.00,318.76 L303.90,326.02 L296.10,326.02 Z" fill="#cff3f3" stroke="#287c7c" stroke-width="1"/>
<path d="M295.00,322.86 L298.90,330.12 L291.10,330.12 Z" fill="#cff3f3" stroke="#287c7c" stroke-width="1"/>
<path d="M300.90,323.66 L304.80,330.92 L297.00,330.92 Z" fill="#cff3f3" stroke="#287c7c" stroke-width="1"/>
<path d="M296.70,328.66 L300.60,335.92 L292.80,335.92 Z" fill="#cff3f3" stroke="#287c7c" stroke-width="1"/>
<path d="M301.70,329.46 L305.60,336.72 L297.80,336.72 Z" fill="#cff3f3" stroke="#287c7c" stroke-width="1"/>
<path d="M294.30,334.46 L298.20,341.72 L290.40,341.72 Z" fill="#cff3f3" stroke="#287c7c" stroke-width="1"/>
<path d="M299.20,335.16 L303.10,342.42 L295.30,342.42 Z" fill="#cff3f3" stroke="#287c7c" stroke-width="1"/>
<path d="M295.90,339.46 L299.80,346.72 L292.00,346.72 Z" fill="#cff3f3" stroke="#287c7c" stroke-width="1"/>
<path d="M299.50,340.16 L303.40,347.42 L295.60,347.42 Z" fill="#cff3f3" stroke="#287c7c" stroke-width="1"/>
<path d="M296.70,345.96 L300.60,353.22 L292.80,353.22 Z" fill="#cff3f3" stroke="#287c7c" stroke-width="1"/>
<path d="M297.60,354.16 L301.50,361.42 L293.70,361.42 Z" fill="#cff3f3" stroke="#287c7c" stroke-width="1"/>
<path d="M289.10,332.60 H306.50 M297.80,318.30 V339.70 M294.30,318.30 H301.30 M294.30,339.70 H301.30" stroke="#111" stroke-width="1" fill="none"/>
<path d="M323.80,298.60 L327.70,302.50 L323.80,306.40 L319.90,302.50 Z" fill="#f5a3a0" stroke="#8e3434" stroke-width="0.95"/>
<path d="M324.50,309.50 L328.40,313.40 L324.50,317.30 L320.60,313.40 Z" fill="#f5a3a0" stroke="#8e3434" stroke-width="0.95"/>
<path d="M320.90,312.40 L324.80,316.30 L320.90,320.20 L317.00,316.30 Z" fill="#f5a3a0" stroke="#8e3434" stroke-width="0.95"/>
<path d="M326.00,313.80 L329.90,317.70 L326.00,321.60 L322.10,317.70 Z" fill="#f5a3a0" stroke="#8e3434" stroke-width="0.95"/>
<path d="M320.10,317.50 L324.00,321.40 L320.10,325.30 L316.20,321.40 Z" fill="#f5a3a0" stroke="#8e3434" stroke-width="0.95"/>
<path d="M326.70,318.20 L330.60,322.10 L326.70,326.00 L322.80,322.10 Z" fill="#f5a3a0" stroke="#8e3434" stroke-width="0.95"/>
<path d="M318.70,321.80 L322.60,325.70 L318.70,329.60 L314.80,325.70 Z" fill="#f5a3a0" stroke="#8e3434" stroke-width="0.95"/>
<path d="M323.80,322.50 L327.70,326.40 L323.80,330.30 L319.90,326.40 Z" fill="#f5a3a0" stroke="#8e3434" stroke-width="0.95"/>
<path d="M328.80,321.80 L332.70,325.70 L328.80,329.60 L324.90,325.70 Z" fill="#f5a3a0" stroke="#8e3434" stroke-width="0.95"/>
<path d="M318.70,329.10 L322.60,333.00 L318.70,336.90 L314.80,333.00 Z" fill="#f5a3a0" stroke="#8e3434" stroke-width="0.95"/>
<path d="M326.70,329.10 L330.60,333.00 L326.70,336.90 L322.80,333.00 Z" fill="#f5a3a0" stroke="#8e3434" stroke-width="0.95"/>
<path d="M324.50,334.10 L328.40,338.00 L324.50,341.90 L320.60,338.00 Z" fill="#f5a3a0" stroke="#8e3434" stroke-width="0.95"/>
<path d="M326.00,337.10 L329.90,341.00 L326.00,344.90 L322.10,341.00 Z" fill="#f5a3a0" stroke="#8e3434" stroke-width="0.95"/>
<path d="M322.30,344.30 L326.20,348.20 L322.30,352.10 L318.40,348.20 Z" fill="#f5a3a0" stroke="#8e3434" stroke-width="0.95"/>
<path d="M314.30,325.70 H331.70 M323.00,317.70 V334.40 M319.50,317.70 H326.50 M319.50,334.40 H326.50" stroke="#111" stroke-width="1" fill="none"/>
<path d="M107.6,391.6 L111.9,398.8 L103.3,398.8 Z" fill="#cff3f3" stroke="#287c7c" stroke-width="0.9" stroke-linejoin="round"/>
<text x="122.3" y="398.8" font-size="9.5" font-weight="normal" text-anchor="start" fill="#222" >Mild</text>
<path d="M175.2,390.6 L179.3,394.7 L175.2,398.8 L171.1,394.7 Z" fill="#f5a3a0" stroke="#8e3434" stroke-width="0.9"/>
<text x="188.8" y="398.8" font-size="9.4" font-weight="normal" text-anchor="start" fill="#222" >Moderate/Severe</text>
</svg>
</body></html>
